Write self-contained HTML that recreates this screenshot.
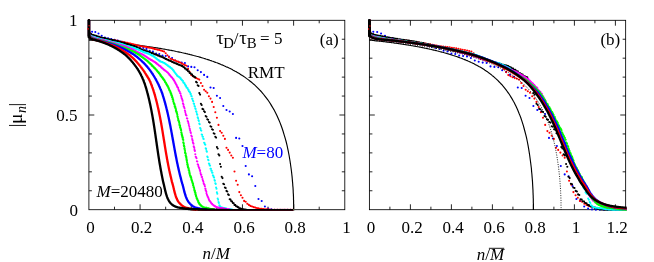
<!DOCTYPE html><html><head><meta charset="utf-8"><style>html,body{margin:0;padding:0;background:#fff;width:654px;height:262px;overflow:hidden}</style></head><body><svg width="654" height="262" viewBox="0 0 654 262" style="position:absolute;left:0;top:0;will-change:transform">
<rect width="654" height="262" fill="#fff"/>
<defs><clipPath id="ca"><rect x="86.9" y="18.3" width="259.1" height="192.9"/></clipPath><clipPath id="cb"><rect x="367.4" y="18.3" width="259.2" height="192.9"/></clipPath></defs>
<rect x="88.90" y="20.30" width="255.90" height="189.40" fill="none" stroke="#000" stroke-width="0.85"/><path d="M140.08 209.70v-5.4M140.08 20.30v5.4M191.26 209.70v-5.4M191.26 20.30v5.4M242.44 209.70v-5.4M242.44 20.30v5.4M293.62 209.70v-5.4M293.62 20.30v5.4M114.49 209.70v-3.0M114.49 20.30v3.0M165.67 209.70v-3.0M165.67 20.30v3.0M216.85 209.70v-3.0M216.85 20.30v3.0M268.03 209.70v-3.0M268.03 20.30v3.0M319.21 209.70v-3.0M319.21 20.30v3.0M88.90 190.76h3.0M344.80 190.76h-3.0M88.90 171.82h3.0M344.80 171.82h-3.0M88.90 152.88h3.0M344.80 152.88h-3.0M88.90 133.94h3.0M344.80 133.94h-3.0M88.90 115.00h5.4M344.80 115.00h-5.4M88.90 96.06h3.0M344.80 96.06h-3.0M88.90 77.12h3.0M344.80 77.12h-3.0M88.90 58.18h3.0M344.80 58.18h-3.0M88.90 39.24h3.0M344.80 39.24h-3.0" stroke="#000" stroke-width="0.85" fill="none"/>
<rect x="369.40" y="20.30" width="256.25" height="189.40" fill="none" stroke="#000" stroke-width="0.85"/><path d="M410.40 209.70v-5.4M410.40 20.30v5.4M451.40 209.70v-5.4M451.40 20.30v5.4M492.40 209.70v-5.4M492.40 20.30v5.4M533.40 209.70v-5.4M533.40 20.30v5.4M574.40 209.70v-5.4M574.40 20.30v5.4M615.40 209.70v-5.4M615.40 20.30v5.4M389.90 209.70v-3.0M389.90 20.30v3.0M430.90 209.70v-3.0M430.90 20.30v3.0M471.90 209.70v-3.0M471.90 20.30v3.0M512.90 209.70v-3.0M512.90 20.30v3.0M553.90 209.70v-3.0M553.90 20.30v3.0M594.90 209.70v-3.0M594.90 20.30v3.0M369.40 190.76h3.0M625.65 190.76h-3.0M369.40 171.82h3.0M625.65 171.82h-3.0M369.40 152.88h3.0M625.65 152.88h-3.0M369.40 133.94h3.0M625.65 133.94h-3.0M369.40 115.00h5.4M625.65 115.00h-5.4M369.40 96.06h3.0M625.65 96.06h-3.0M369.40 77.12h3.0M625.65 77.12h-3.0M369.40 58.18h3.0M625.65 58.18h-3.0M369.40 39.24h3.0M625.65 39.24h-3.0" stroke="#000" stroke-width="0.85" fill="none"/>
<g clip-path="url(#ca)">
<path d="M88.9 40.1L89.9 40.1L90.9 40.2L91.9 40.3L93.0 40.4L94.0 40.5L95.0 40.6L96.0 40.7L97.0 40.8L98.0 40.8L99.1 40.9L100.1 41.0L101.1 41.1L102.1 41.2L103.1 41.3L104.1 41.4L105.2 41.5L106.2 41.6L107.2 41.7L108.2 41.8L109.2 41.9L110.2 42.0L111.3 42.1L112.3 42.2L113.3 42.3L114.3 42.4L115.3 42.5L116.3 42.6L117.4 42.7L118.4 42.8L119.4 43.0L120.4 43.1L121.4 43.2L122.4 43.3L123.5 43.4L124.5 43.5L125.5 43.6L126.5 43.8L127.5 43.9L128.5 44.0L129.6 44.1L130.6 44.2L131.6 44.4L132.6 44.5L133.6 44.6L134.6 44.7L135.6 44.9L136.7 45.0L137.7 45.1L138.7 45.3L139.7 45.4L140.7 45.5L141.7 45.7L142.8 45.8L143.8 46.0L144.8 46.1L145.8 46.2L146.8 46.4L147.8 46.5L148.9 46.7L149.9 46.8L150.9 47.0L151.9 47.1L152.9 47.3L153.9 47.5L155.0 47.6L156.0 47.8L157.0 47.9L158.0 48.1L159.0 48.3L160.0 48.4L161.1 48.6L162.1 48.8L163.1 49.0L164.1 49.1L165.1 49.3L166.1 49.5L167.2 49.7L168.2 49.9L169.2 50.1L170.2 50.3L171.2 50.4L172.2 50.6L173.3 50.8L174.3 51.0L175.3 51.2L176.3 51.5L177.3 51.7L178.3 51.9L179.3 52.1L180.4 52.3L181.4 52.5L182.4 52.8L183.4 53.0L184.4 53.2L185.4 53.4L186.5 53.7L187.5 53.9L188.5 54.2L189.5 54.4L190.5 54.7L191.5 54.9L192.6 55.2L193.6 55.5L194.6 55.7L195.6 56.0L196.6 56.3L197.6 56.5L198.7 56.8L199.7 57.1L200.7 57.4L201.7 57.7L202.7 58.0L203.7 58.3L204.8 58.6L205.8 59.0L206.8 59.3L207.8 59.6L208.8 59.9L209.8 60.3L210.9 60.6L211.9 61.0L212.9 61.3L213.9 61.7L214.9 62.1L215.9 62.5L217.0 62.8L218.0 63.2L219.0 63.6L220.0 64.0L221.0 64.5L222.0 64.9L223.0 65.3L224.1 65.8L225.1 66.2L226.1 66.7L227.1 67.1L228.1 67.6L229.1 68.1L230.2 68.6L231.2 69.1L232.2 69.6L233.2 70.2L234.2 70.7L235.2 71.3L236.3 71.8L237.3 72.4L238.3 73.0L239.3 73.6L240.3 74.3L241.3 74.9L242.4 75.6L243.4 76.2L244.4 76.9L245.4 77.6L246.4 78.4L247.4 79.1L248.5 79.9L249.5 80.7L250.5 81.5L251.5 82.3L252.5 83.1L253.5 84.0L254.6 84.9L255.6 85.9L256.6 86.8L257.6 87.8L258.6 88.8L259.6 89.9L260.7 91.0L261.7 92.1L262.7 93.3L263.7 94.5L264.7 95.8L265.7 97.1L266.7 98.4L267.8 99.8L268.8 101.3L269.8 102.8L270.8 104.4L271.8 106.1L272.8 107.8L273.9 109.6L274.9 111.5L275.9 113.5L276.9 115.6L277.9 117.8L278.9 120.1L280.0 122.6L281.0 125.2L282.0 128.0L283.0 131.0L284.0 134.3L285.0 137.7L286.1 141.5L287.1 145.7L288.1 150.3L289.1 155.5L290.1 161.5L291.1 168.5L291.1 168.5L291.5 171.5L291.8 174.3L292.1 176.9L292.3 179.3L292.5 181.6L292.7 183.7L292.8 185.6L293.0 187.4L293.1 189.1L293.2 190.6L293.2 192.1L293.3 193.4L293.4 194.6L293.4 195.8L293.5 196.9L293.5 197.8L293.5 198.7L293.5 199.6L293.6 200.4L293.6 201.1L293.6 201.8L293.6 202.4L293.6 202.9L293.6 203.5L293.6 204.0L293.7 204.4L293.7 204.8L293.7 205.2L293.7 205.6L293.7 205.9L293.7 206.2L293.7 206.5L293.7 206.8L293.7 207.0L293.7 207.2L293.7 207.4L293.7 207.6L293.7 207.8L293.7 208.0L293.7 208.1L293.7 208.3L293.7 208.4L293.7 208.5L293.7 208.6L293.7 208.7L293.7 208.8L293.7 208.9L293.7 209.0L293.7 209.1L293.7 209.1L293.7 209.2L293.7 209.3L293.7 209.3L293.7 209.4L293.7 209.4L293.7 209.5L293.7 209.5L293.7 209.5L293.7 209.6L293.7 210.0" stroke="#000" stroke-width="1.15" fill="none"/>
<path d="M88.9 20.5h0M92.1 31.7h0M95.3 32.0h0M98.5 33.5h0M101.7 35.7h0M104.9 37.5h0M108.1 38.3h0M111.3 39.0h0M114.5 39.8h0M117.7 40.6h0M120.9 41.5h0M124.1 42.4h0M127.3 43.3h0M130.5 44.2h0M133.7 45.1h0M136.9 46.0h0M140.1 47.0h0M143.3 47.9h0M146.5 48.9h0M149.7 50.8h0M152.9 51.5h0M156.1 53.5h0M159.3 54.0h0M162.5 55.5h0M165.7 56.0h0M168.9 56.5h0M172.1 58.0h0M175.3 60.5h0M178.5 61.8h0M181.7 62.6h0M184.9 63.0h0M188.1 66.4h0M191.3 66.9h0M194.5 67.2h0M197.7 70.2h0M200.9 72.1h0M204.1 74.9h0M207.3 76.9h0M210.5 87.5h0M213.7 88.0h0M216.9 95.8h0M220.1 98.0h0M223.3 106.0h0M226.5 110.0h0M229.7 111.5h0M232.9 114.0h0M236.1 137.9h0M239.3 138.5h0M242.5 146.0h0M245.7 166.0h0M248.9 174.4h0M252.1 176.2h0M255.3 186.0h0M258.5 199.0h0M261.7 201.0h0M264.9 206.5h0M268.1 208.5h0M271.3 209.4h0" stroke="#00f" stroke-width="2.10" fill="none" stroke-linecap="round"/><path d="M274.5 209.8h0M277.7 209.8h0M280.9 209.8h0M284.1 209.9h0M287.3 209.9h0M290.5 209.9h0" stroke="#00f" stroke-width="2.10" fill="none" stroke-linecap="round"/>
<path d="M88.9 20.5h0M90.5 36.3h0M92.1 36.6h0M93.7 37.0h0M95.3 37.4h0M96.9 37.8h0M98.5 38.1h0M100.1 38.5h0M101.7 38.7h0M103.3 38.9h0M104.9 39.1h0M106.5 39.3h0M108.1 39.5h0M109.7 39.8h0M111.3 40.0h0M112.9 40.1h0M114.5 40.3h0M116.1 40.5h0M117.7 40.9h0M119.3 41.4h0M120.9 41.7h0M122.5 41.9h0M124.1 42.3h0M125.7 42.5h0M127.3 42.8h0M128.9 43.2h0M130.5 43.6h0M132.1 44.1h0M133.7 44.4h0M135.3 44.8h0M136.9 45.2h0M138.5 45.6h0M140.1 46.0h0M141.7 46.3h0M143.3 46.6h0M144.9 46.8h0M146.5 47.1h0M148.1 47.4h0M149.7 47.7h0M151.3 48.0h0M152.9 48.4h0M154.5 48.9h0M156.1 49.2h0M157.7 49.7h0M159.3 50.0h0M160.9 50.5h0M162.5 51.0h0M164.1 51.6h0M165.7 53.2h0M167.3 55.3h0M168.9 57.1h0M170.5 58.7h0M172.1 59.3h0M173.7 60.0h0M175.3 60.6h0M176.9 61.2h0M178.5 61.9h0M180.1 62.5h0M181.7 63.4h0M183.3 64.2h0M184.9 65.0h0M186.5 65.8h0M188.1 68.9h0M189.7 72.1h0M191.3 75.1h0M192.9 76.3h0M194.5 77.2h0M196.1 78.1h0M197.7 78.8h0M199.3 79.6h0M200.9 83.0h0M202.5 86.0h0M204.1 89.7h0M205.7 91.3h0M207.3 92.7h0M208.9 96.2h0M210.5 98.6h0M212.1 101.9h0M213.7 107.0h0M215.3 112.2h0M216.9 117.8h0M218.5 124.9h0M220.1 131.1h0M221.7 132.8h0M223.3 135.8h0M224.9 138.9h0M226.5 147.8h0M228.1 149.9h0M229.7 152.6h0M231.3 155.5h0M232.9 157.7h0M234.5 171.5h0M236.1 180.8h0M237.7 184.8h0M239.3 192.1h0M240.9 195.2h0M242.5 197.8h0M244.1 200.9h0M245.7 201.8h0M247.3 203.7h0M248.9 204.9h0M250.5 205.9h0M252.1 206.5h0M253.7 207.1h0M255.3 207.6h0M256.9 208.0h0M258.5 208.3h0M260.1 208.7h0M261.7 208.9h0M263.3 209.1h0M264.9 209.2h0M266.5 209.3h0M268.1 209.4h0M269.7 209.6h0M271.3 209.7h0M272.9 209.7h0" stroke="#f00" stroke-width="2.10" fill="none" stroke-linecap="round"/><path d="M274.5 209.8h0M276.1 209.9h0M277.7 209.9h0M279.3 209.9h0M280.9 209.9h0M282.5 209.9h0M284.1 209.9h0M285.7 209.9h0M287.3 209.9h0M288.9 209.9h0M290.5 209.9h0M292.1 209.9h0" stroke="#f00" stroke-width="2.10" fill="none" stroke-linecap="round"/>
<path d="M88.9 20.5h0M89.7 32.5h0M90.5 34.0h0M91.3 34.1h0M92.1 34.9h0M92.9 35.0h0M93.7 35.4h0M94.5 35.5h0M95.3 35.8h0M96.1 35.9h0M96.9 36.3h0M97.7 36.3h0M98.5 36.8h0M99.3 36.9h0M100.1 37.2h0M100.9 37.3h0M101.7 37.7h0M102.5 37.7h0M103.3 38.0h0M104.1 38.1h0M104.9 38.4h0M105.7 38.5h0M106.5 38.9h0M107.3 38.9h0M108.1 39.2h0M108.9 39.3h0M109.7 39.6h0M110.5 39.7h0M111.3 39.9h0M112.1 40.0h0M112.9 40.3h0M113.7 40.4h0M114.5 40.6h0M115.3 40.6h0M116.1 41.1h0M116.9 41.1h0M117.7 41.4h0M118.5 41.4h0M119.3 41.8h0M120.1 41.9h0M120.9 42.3h0M121.7 42.3h0M122.5 42.7h0M123.3 42.8h0M124.1 43.1h0M124.9 43.1h0M125.7 43.7h0M126.5 43.7h0M127.3 44.1h0M128.1 44.2h0M128.9 44.6h0M129.7 44.7h0M130.5 45.1h0M131.3 45.2h0M132.1 45.7h0M132.9 45.7h0M133.7 46.0h0M134.5 46.1h0M135.3 46.7h0M136.1 46.8h0M136.9 47.5h0M137.7 47.6h0M138.5 48.3h0M139.3 48.4h0M140.1 49.1h0M140.9 49.1h0M141.7 49.7h0M142.5 49.8h0M143.3 50.2h0M144.1 50.3h0M144.9 50.6h0M145.7 50.7h0M146.5 51.2h0M147.3 51.3h0M148.1 51.7h0M148.9 51.8h0M149.7 52.2h0M150.5 52.3h0M151.3 52.9h0M152.1 53.0h0M152.9 53.4h0M153.7 53.5h0M154.5 54.2h0M155.3 54.3h0M156.1 54.7h0M156.9 54.8h0M157.7 55.4h0M158.5 55.5h0M159.3 56.1h0M160.1 56.2h0M160.9 56.6h0M161.7 56.7h0M162.5 57.3h0M163.3 57.4h0M164.1 58.1h0M164.9 58.2h0M165.7 58.9h0M166.5 59.0h0M167.3 59.7h0M168.1 59.8h0M168.9 60.5h0M169.7 60.6h0M170.5 61.0h0M171.3 61.2h0M172.1 61.9h0M172.9 62.1h0M173.7 62.6h0M174.5 62.7h0M175.3 63.3h0M176.1 63.4h0M176.9 63.9h0M177.7 64.0h0M178.5 64.7h0M179.3 64.8h0M180.1 65.2h0M180.9 65.3h0M181.7 65.9h0M182.5 66.0h0M183.3 67.0h0M184.1 67.2h0M184.9 68.4h0M185.7 68.6h0M186.5 69.7h0M187.3 69.9h0M188.1 71.2h0M188.9 71.4h0M189.7 73.0h0M190.5 73.3h0M191.3 74.3h0M192.1 74.5h0M192.9 76.0h0M193.7 76.2h0M194.5 77.1h0M195.3 77.4h0M196.1 81.9h0M196.9 82.5h0M197.7 85.2h0M198.5 85.9h0M199.3 93.0h0M200.1 94.6h0M200.9 103.7h0M201.7 105.0h0M202.5 108.9h0M203.3 109.2h0M204.1 111.3h0M204.9 112.1h0M205.7 116.0h0M206.5 116.7h0M207.3 119.3h0M208.1 119.8h0M208.9 122.0h0M209.7 122.6h0M210.5 126.3h0M211.3 126.8h0M212.1 129.2h0M212.9 129.7h0M213.7 133.3h0M214.5 133.8h0M215.3 136.7h0M216.1 137.6h0M216.9 147.1h0M217.7 148.5h0M218.5 154.3h0M219.3 155.4h0M220.1 164.0h0M220.9 166.7h0M221.7 176.8h0M222.5 178.1h0M223.3 183.7h0M224.1 184.2h0M224.9 187.5h0M225.7 188.0h0M226.5 190.9h0M227.3 191.5h0M228.1 194.4h0M228.9 195.0h0M229.7 199.2h0M230.5 199.6h0M231.3 201.3h0M232.1 201.6h0M232.9 203.0h0M233.7 203.2h0M234.5 204.9h0M235.3 205.1h0M236.1 206.2h0M236.9 206.4h0M237.7 207.1h0M238.5 207.3h0M239.3 208.2h0M240.1 208.3h0M240.9 208.8h0M241.7 208.9h0M242.5 209.3h0M243.3 209.4h0M244.1 209.5h0M244.9 209.5h0M245.7 209.7h0M246.5 209.7h0" stroke="#000" stroke-width="2.10" fill="none" stroke-linecap="round"/><path d="M247.3 209.9h0M248.1 209.9h0M248.9 209.9h0M249.7 209.9h0M250.5 209.9h0M251.3 209.9h0M252.1 209.9h0M252.9 209.9h0M253.7 209.9h0M254.5 209.9h0M255.3 209.9h0M256.1 209.9h0M256.9 209.9h0M257.7 209.9h0M258.5 209.9h0M259.3 209.9h0M260.1 209.9h0M260.9 209.9h0M261.7 209.9h0M262.5 209.9h0M263.3 209.9h0M264.1 209.9h0M264.9 209.9h0M265.7 209.9h0M266.5 209.9h0M267.3 209.9h0M268.1 209.9h0M268.9 209.9h0M269.7 209.9h0M270.5 209.9h0M271.3 209.9h0M272.1 209.9h0M272.9 209.9h0M273.7 209.9h0M274.5 209.9h0M275.3 209.9h0M276.1 209.9h0M276.9 209.9h0M277.7 209.9h0M278.5 209.9h0M279.3 209.9h0M280.1 209.9h0M280.9 209.9h0M281.7 209.9h0M282.5 209.9h0M283.3 209.9h0M284.1 209.9h0M284.9 209.9h0M285.7 209.9h0M286.5 209.9h0M287.3 209.9h0M288.1 209.9h0M288.9 209.9h0M289.7 209.9h0M290.5 209.9h0M291.3 209.9h0M292.1 209.9h0M292.9 209.9h0" stroke="#000" stroke-width="1.80" fill="none" stroke-linecap="round"/>
<path d="M88.9 20.5h0M89.3 35.6h0M89.7 35.6h0M90.1 35.7h0M90.5 35.9h0M90.9 35.9h0M91.3 36.1h0M91.7 36.2h0M92.1 36.5h0M92.5 36.6h0M92.9 36.7h0M93.3 36.8h0M93.7 37.0h0M94.1 37.1h0M94.5 37.3h0M94.9 37.3h0M95.3 37.6h0M95.7 37.6h0M96.1 37.9h0M96.5 38.0h0M96.9 38.1h0M97.3 38.1h0M97.7 38.3h0M98.1 38.4h0M98.5 38.6h0M98.9 38.7h0M99.3 38.8h0M99.7 38.9h0M100.1 39.0h0M100.5 39.1h0M100.9 39.3h0M101.3 39.3h0M101.7 39.5h0M102.1 39.6h0M102.5 39.7h0M102.9 39.7h0M103.3 39.9h0M103.7 39.9h0M104.1 40.0h0M104.5 40.0h0M104.9 40.2h0M105.3 40.3h0M105.7 40.4h0M106.1 40.4h0M106.5 40.6h0M106.9 40.6h0M107.3 40.7h0M107.7 40.8h0M108.1 40.9h0M108.5 40.9h0M108.9 41.1h0M109.3 41.1h0M109.7 41.3h0M110.1 41.4h0M110.5 41.6h0M110.9 41.6h0M111.3 41.8h0M111.7 41.8h0M112.1 42.0h0M112.5 42.0h0M112.9 42.2h0M113.3 42.2h0M113.7 42.4h0M114.1 42.5h0M114.5 42.6h0M114.9 42.7h0M115.3 42.7h0M115.7 42.7h0M116.1 42.9h0M116.5 42.9h0M116.9 43.1h0M117.3 43.1h0M117.7 43.2h0M118.1 43.2h0M118.5 43.4h0M118.9 43.4h0M119.3 43.6h0M119.7 43.6h0M120.1 43.8h0M120.5 43.8h0M120.9 44.0h0M121.3 44.0h0M121.7 44.2h0M122.1 44.2h0M122.5 44.4h0M122.9 44.5h0M123.3 44.7h0M123.7 44.8h0M124.1 45.0h0M124.5 45.1h0M124.9 45.4h0M125.3 45.5h0M125.7 45.7h0M126.1 45.8h0M126.5 46.0h0M126.9 46.1h0M127.3 46.3h0M127.7 46.3h0M128.1 46.5h0M128.5 46.5h0M128.9 46.7h0M129.3 46.8h0M129.7 46.9h0M130.1 46.9h0M130.5 47.2h0M130.9 47.2h0M131.3 47.4h0M131.7 47.4h0M132.1 47.6h0M132.5 47.6h0M132.9 47.8h0M133.3 47.8h0M133.7 48.0h0M134.1 48.1h0M134.5 48.2h0M134.9 48.3h0M135.3 48.6h0M135.7 48.6h0M136.1 48.9h0M136.5 49.0h0M136.9 49.1h0M137.3 49.2h0M137.7 49.4h0M138.1 49.4h0M138.5 49.8h0M138.9 49.9h0M139.3 50.2h0M139.7 50.3h0M140.1 50.4h0M140.5 50.5h0M140.9 50.9h0M141.3 51.0h0M141.7 51.3h0M142.1 51.4h0M142.5 51.7h0M142.9 51.8h0M143.3 51.9h0M143.7 52.0h0M144.1 52.3h0M144.5 52.3h0M144.9 52.7h0M145.3 52.7h0M145.7 52.8h0M146.1 52.8h0M146.5 53.0h0M146.9 53.0h0M147.3 53.4h0M147.7 53.4h0M148.1 53.6h0M148.5 53.6h0M148.9 54.0h0M149.3 54.0h0M149.7 54.2h0M150.1 54.3h0M150.5 54.8h0M150.9 54.9h0M151.3 55.1h0M151.7 55.1h0M152.1 55.7h0M152.5 55.7h0M152.9 56.0h0M153.3 56.1h0M153.7 56.6h0M154.1 56.7h0M154.5 57.1h0M154.9 57.2h0M155.3 57.7h0M155.7 57.9h0M156.1 58.4h0M156.5 58.5h0M156.9 59.1h0M157.3 59.3h0M157.7 59.7h0M158.1 59.8h0M158.5 60.1h0M158.9 60.2h0M159.3 60.9h0M159.7 61.0h0M160.1 61.4h0M160.5 61.4h0M160.9 61.8h0M161.3 61.8h0M161.7 62.0h0M162.1 62.0h0M162.5 62.3h0M162.9 62.4h0M163.3 62.7h0M163.7 62.7h0M164.1 63.0h0M164.5 63.1h0M164.9 63.5h0M165.3 63.5h0M165.7 64.1h0M166.1 64.2h0M166.5 64.6h0M166.9 64.7h0M167.3 65.2h0M167.7 65.3h0M168.1 66.0h0M168.5 66.1h0M168.9 66.5h0M169.3 66.5h0M169.7 66.9h0M170.1 67.0h0M170.5 67.7h0M170.9 67.8h0M171.3 68.2h0M171.7 68.3h0M172.1 69.1h0M172.5 69.3h0M172.9 69.9h0M173.3 70.1h0M173.7 71.0h0M174.1 71.3h0M174.5 72.2h0M174.9 72.5h0M175.3 73.3h0M175.7 73.6h0M176.1 74.3h0M176.5 74.5h0M176.9 75.4h0M177.3 75.5h0M177.7 76.2h0M178.1 76.3h0M178.5 76.6h0M178.9 76.7h0M179.3 77.3h0M179.7 77.4h0M180.1 78.0h0M180.5 78.1h0M180.9 79.1h0M181.3 79.2h0M181.7 80.0h0M182.1 80.1h0M182.5 80.7h0M182.9 80.8h0M183.3 82.4h0M183.7 82.6h0M184.1 83.1h0M184.5 83.3h0M184.9 84.6h0M185.3 84.7h0M185.7 85.9h0M186.1 86.0h0M186.5 87.5h0M186.9 87.6h0M187.3 88.1h0M187.7 88.2h0M188.1 89.7h0M188.5 89.8h0M188.9 91.3h0M189.3 91.4h0M189.7 92.2h0M190.1 92.3h0M190.5 94.0h0M190.9 94.1h0M191.3 96.1h0M191.7 96.3h0M192.1 98.7h0M192.5 98.9h0M192.9 100.8h0M193.3 101.2h0M193.7 103.5h0M194.1 103.9h0M194.5 106.1h0M194.9 106.5h0M195.3 108.5h0M195.7 109.0h0M196.1 111.3h0M196.5 111.9h0M196.9 114.1h0M197.3 114.8h0M197.7 117.4h0M198.1 118.2h0M198.5 120.3h0M198.9 121.0h0M199.3 123.6h0M199.7 124.3h0M200.1 128.0h0M200.5 128.6h0M200.9 130.2h0M201.3 130.6h0M201.7 134.5h0M202.1 134.7h0M202.5 136.6h0M202.9 136.8h0M203.3 138.8h0M203.7 139.0h0M204.1 142.7h0M204.5 143.0h0M204.9 144.3h0M205.3 144.8h0M205.7 148.3h0M206.1 148.9h0M206.5 151.0h0M206.9 151.7h0M207.3 156.6h0M207.7 157.3h0M208.1 159.7h0M208.5 160.3h0M208.9 163.6h0M209.3 163.9h0M209.7 165.5h0M210.1 165.6h0M210.5 168.8h0M210.9 168.8h0M211.3 170.7h0M211.7 170.7h0M212.1 172.7h0M212.5 172.8h0M212.9 175.4h0M213.3 175.7h0M213.7 177.1h0M214.1 177.6h0M214.5 180.1h0M214.9 180.8h0M215.3 183.3h0M215.7 183.9h0M216.1 187.5h0M216.5 188.8h0M216.9 192.4h0M217.3 193.8h0M217.7 198.6h0M218.1 199.7h0M218.5 202.1h0M218.9 203.0h0M219.3 205.3h0M219.7 205.6h0M220.1 206.7h0M220.5 206.9h0M220.9 207.2h0M221.3 207.3h0M221.7 207.7h0M222.1 207.7h0M222.5 207.8h0M222.9 207.8h0M223.3 208.0h0M223.7 208.1h0M224.1 208.2h0M224.5 208.2h0M224.9 208.3h0M225.3 208.3h0M225.7 208.5h0M226.1 208.5h0M226.5 208.7h0M226.9 208.8h0M227.3 209.0h0M227.7 209.1h0M228.1 209.2h0M228.5 209.2h0M228.9 209.3h0M229.3 209.4h0M229.7 209.4h0M230.1 209.4h0M230.5 209.5h0M230.9 209.5h0M231.3 209.6h0M231.7 209.6h0M232.1 209.7h0M232.5 209.7h0" stroke="#0ff" stroke-width="2.10" fill="none" stroke-linecap="round"/><path d="M232.9 209.8h0M233.7 209.8h0M234.5 209.8h0M235.3 209.9h0M236.1 209.9h0M236.9 209.9h0M237.7 209.9h0M238.5 209.9h0M239.3 209.9h0M240.1 209.9h0M240.9 209.9h0M241.7 209.9h0M242.5 209.9h0M243.3 209.9h0M244.1 209.9h0M244.9 209.9h0M245.7 209.9h0M246.5 209.9h0M247.3 209.9h0M248.1 209.9h0M248.9 209.9h0M249.7 209.9h0M250.5 209.9h0M251.3 209.9h0M252.1 209.9h0M252.9 209.9h0M253.7 209.9h0M254.5 209.9h0M255.3 209.9h0M256.1 209.9h0M256.9 209.9h0M257.7 209.9h0M258.5 209.9h0M259.3 209.9h0M260.1 209.9h0M260.9 209.9h0M261.7 209.9h0M262.5 209.9h0M263.3 209.9h0M264.1 209.9h0M264.9 209.9h0M265.7 209.9h0M266.5 209.9h0M267.3 209.9h0M268.1 209.9h0M268.9 209.9h0M269.7 209.9h0M270.5 209.9h0M271.3 209.9h0M272.1 209.9h0M272.9 209.9h0M273.7 209.9h0M274.5 209.9h0M275.3 209.9h0M276.1 209.9h0M276.9 209.9h0M277.7 209.9h0M278.5 209.9h0M279.3 209.9h0M280.1 209.9h0M280.9 209.9h0M281.7 209.9h0M282.5 209.9h0M283.3 209.9h0M284.1 209.9h0M284.9 209.9h0M285.7 209.9h0M286.5 209.9h0M287.3 209.9h0M288.1 209.9h0M288.9 209.9h0M289.7 209.9h0M290.5 209.9h0M291.3 209.9h0M292.1 209.9h0M292.9 209.9h0" stroke="#0ff" stroke-width="1.80" fill="none" stroke-linecap="round"/>
<path d="M88.9 20.5h0M89.1 35.5h0M89.5 35.5h0M89.9 35.6h0M90.3 35.7h0M90.5 36.1h0M90.9 36.3h0M91.3 36.6h0M91.7 36.8h0M92.1 37.1h0M92.5 37.4h0M92.9 37.6h0M93.3 37.6h0M93.7 37.9h0M94.1 37.9h0M94.5 38.2h0M94.9 38.4h0M95.3 38.4h0M95.7 38.6h0M96.1 38.7h0M96.5 38.8h0M96.9 38.9h0M97.3 39.0h0M97.7 39.1h0M98.1 39.1h0M98.5 39.2h0M98.9 39.4h0M99.3 39.4h0M99.7 39.5h0M100.1 39.6h0M100.5 39.7h0M100.9 39.8h0M101.3 39.9h0M101.7 40.0h0M102.1 40.0h0M102.5 40.1h0M102.9 40.3h0M103.3 40.3h0M103.7 40.4h0M104.1 40.4h0M104.5 40.6h0M104.9 40.7h0M105.3 40.9h0M105.7 41.0h0M106.1 41.1h0M106.5 41.1h0M106.9 41.4h0M107.3 41.4h0M107.7 41.6h0M108.1 41.7h0M108.5 41.8h0M108.9 42.0h0M109.3 42.1h0M109.7 42.1h0M110.1 42.2h0M110.5 42.3h0M110.9 42.5h0M111.3 42.5h0M111.7 42.6h0M112.1 42.8h0M112.5 42.8h0M112.9 42.9h0M113.3 43.0h0M113.7 43.2h0M114.1 43.3h0M114.5 43.4h0M114.9 43.5h0M115.3 43.6h0M115.7 43.8h0M116.1 43.9h0M116.5 44.1h0M116.9 44.2h0M117.3 44.3h0M117.7 44.4h0M118.1 44.6h0M118.5 44.7h0M118.9 44.8h0M119.3 44.9h0M119.7 45.1h0M120.1 45.1h0M120.5 45.3h0M120.9 45.3h0M121.3 45.4h0M121.7 45.6h0M122.1 45.6h0M122.5 45.8h0M122.9 45.9h0M123.3 45.9h0M123.7 46.0h0M124.1 46.2h0M124.5 46.2h0M124.9 46.5h0M125.3 46.6h0M125.7 46.7h0M126.1 46.8h0M126.5 47.1h0M126.9 47.3h0M127.3 47.4h0M127.7 47.6h0M128.1 47.8h0M128.5 48.0h0M128.9 48.2h0M129.3 48.4h0M129.7 48.5h0M130.1 48.6h0M130.5 48.8h0M130.9 48.9h0M131.3 49.1h0M131.7 49.2h0M132.1 49.3h0M132.5 49.6h0M132.9 49.6h0M133.3 49.8h0M133.7 50.0h0M134.1 50.2h0M134.5 50.6h0M134.9 50.6h0M135.3 50.8h0M135.7 51.0h0M136.1 51.4h0M136.5 51.6h0M136.9 51.9h0M137.3 52.2h0M137.7 52.4h0M138.1 52.4h0M138.5 52.6h0M138.9 52.8h0M139.3 53.2h0M139.7 53.3h0M140.1 53.3h0M140.5 53.6h0M140.9 53.9h0M141.3 54.1h0M141.7 54.2h0M142.1 54.4h0M142.5 54.6h0M142.9 54.7h0M143.3 54.8h0M143.7 55.2h0M144.1 55.2h0M144.5 55.5h0M144.9 56.0h0M145.3 56.1h0M145.7 56.3h0M146.1 56.8h0M146.5 56.8h0M146.9 57.3h0M147.3 57.6h0M147.7 57.7h0M148.1 58.0h0M148.5 58.2h0M148.9 58.7h0M149.3 58.8h0M149.7 59.0h0M150.1 59.5h0M150.5 59.7h0M150.9 59.9h0M151.3 60.1h0M151.7 60.2h0M152.1 60.4h0M152.5 60.7h0M152.9 60.8h0M153.3 61.2h0M153.7 61.5h0M154.1 61.7h0M154.5 61.9h0M154.9 62.0h0M155.3 62.3h0M155.7 62.9h0M156.1 62.9h0M156.5 63.4h0M156.9 63.5h0M157.3 64.2h0M157.7 64.2h0M158.1 64.6h0M158.5 65.0h0M158.9 65.4h0M159.3 65.8h0M159.7 66.0h0M160.1 66.2h0M160.5 66.4h0M160.9 67.1h0M161.3 67.5h0M161.7 67.6h0M162.1 68.2h0M162.5 68.3h0M162.9 68.8h0M163.3 69.1h0M163.7 69.5h0M164.1 70.0h0M164.5 70.2h0M164.9 70.4h0M165.3 70.8h0M165.7 71.0h0M166.1 71.3h0M166.5 71.6h0M166.9 72.0h0M167.3 72.3h0M167.7 72.6h0M168.1 73.0h0M168.5 73.6h0M168.9 73.9h0M169.3 74.7h0M169.7 75.1h0M170.1 75.3h0M170.5 76.0h0M170.9 76.6h0M171.3 76.8h0M171.7 77.3h0M172.1 77.7h0M172.5 78.3h0M172.9 79.0h0M173.3 79.1h0M173.7 80.1h0M174.1 80.5h0M174.5 81.4h0M174.9 82.0h0M175.3 83.1h0M175.7 83.3h0M176.1 84.6h0M176.5 84.9h0M176.9 86.0h0M177.3 87.0h0M177.7 87.3h0M178.1 87.9h0M178.5 89.6h0M178.9 90.5h0M179.3 91.2h0M179.7 91.7h0M180.1 93.2h0M180.5 93.5h0M180.9 95.6h0M181.3 96.8h0M181.7 98.3h0M181.9 98.6h0M182.1 99.5h0M182.3 99.8h0M182.5 100.7h0M182.7 101.0h0M182.9 103.3h0M183.1 103.6h0M183.3 104.4h0M183.5 104.7h0M183.7 106.5h0M183.9 106.8h0M184.1 107.3h0M184.5 108.3h0M184.9 110.5h0M185.3 112.1h0M185.7 114.1h0M186.1 115.3h0M186.5 115.5h0M186.9 118.2h0M187.3 118.6h0M187.7 121.0h0M188.1 121.8h0M188.5 123.2h0M188.9 125.1h0M189.3 126.7h0M189.7 128.7h0M190.1 130.2h0M190.5 132.0h0M190.9 133.0h0M191.3 135.5h0M191.7 136.5h0M191.9 136.8h0M192.1 139.0h0M192.3 139.3h0M192.5 140.6h0M192.7 140.9h0M192.9 142.7h0M193.1 143.1h0M193.3 143.4h0M193.5 143.7h0M193.7 146.4h0M193.9 146.7h0M194.1 147.6h0M194.3 147.9h0M194.5 149.9h0M194.9 150.9h0M195.3 154.2h0M195.7 156.7h0M196.1 157.2h0M196.5 158.3h0M196.9 161.2h0M197.3 161.5h0M197.7 164.3h0M198.1 164.7h0M198.5 166.2h0M198.9 167.7h0M199.3 168.1h0M199.7 169.7h0M200.1 170.9h0M200.5 173.0h0M200.9 174.7h0M201.3 174.8h0M201.7 176.9h0M202.1 177.0h0M202.5 179.1h0M202.9 180.5h0M203.3 181.6h0M203.7 183.4h0M204.1 184.4h0M204.5 184.7h0M204.9 186.2h0M205.3 188.6h0M205.5 188.9h0M205.7 190.5h0M205.9 190.8h0M206.1 191.3h0M206.3 191.6h0M206.5 193.2h0M206.9 194.7h0M207.3 195.6h0M207.7 196.7h0M208.1 197.3h0M208.5 198.4h0M208.9 199.6h0M209.3 200.6h0M209.7 200.7h0M210.1 201.5h0M210.5 201.8h0M210.9 202.8h0M211.3 203.1h0M211.7 203.7h0M212.1 203.8h0M212.5 204.5h0M212.9 204.8h0M213.3 205.1h0M213.7 205.3h0M214.1 205.7h0M214.5 206.1h0M214.9 206.2h0M215.3 206.4h0M215.7 206.8h0M216.1 206.9h0M216.5 207.2h0M216.9 207.4h0M217.3 207.5h0M217.7 207.6h0M218.1 207.7h0M218.5 207.7h0M218.9 207.8h0M219.3 207.9h0M219.7 208.0h0M220.1 208.0h0M220.5 208.1h0M220.9 208.1h0M221.3 208.2h0M221.7 208.3h0M222.1 208.3h0M222.5 208.4h0M222.9 208.5h0M223.3 208.6h0M223.7 208.6h0M224.1 208.7h0M224.5 208.9h0M224.9 209.0h0M225.3 209.1h0M225.7 209.2h0M226.1 209.2h0M226.5 209.3h0M226.9 209.3h0M227.3 209.3h0M227.7 209.4h0M228.1 209.4h0M228.5 209.5h0M228.9 209.5h0M229.3 209.6h0M229.7 209.7h0M230.1 209.7h0M230.5 209.7h0" stroke="#f0f" stroke-width="2.10" fill="none" stroke-linecap="round"/><path d="M230.7 209.8h0M231.3 209.8h0M231.9 209.9h0M232.5 209.9h0M233.1 209.9h0M233.7 209.9h0M234.5 209.9h0M235.3 209.9h0M236.1 209.9h0M236.7 209.9h0M237.5 209.9h0M238.3 209.9h0M239.1 209.9h0M239.7 209.9h0M240.5 209.9h0M241.3 209.9h0M242.1 209.9h0M242.7 209.9h0M243.5 209.9h0M244.3 209.9h0M245.1 209.9h0M245.7 209.9h0M246.5 209.9h0M247.3 209.9h0M248.1 209.9h0M248.7 209.9h0M249.5 209.9h0M250.3 209.9h0M251.1 209.9h0M251.7 209.9h0M252.5 209.9h0M253.3 209.9h0M254.1 209.9h0M254.7 209.9h0M255.5 209.9h0M256.1 209.9h0M256.7 209.9h0M257.5 209.9h0M258.1 209.9h0M258.7 209.9h0M259.5 209.9h0M260.1 209.9h0M260.7 209.9h0M261.5 209.9h0M262.1 209.9h0M262.7 209.9h0M263.5 209.9h0M264.1 209.9h0M264.7 209.9h0M265.5 209.9h0M266.1 209.9h0M266.7 209.9h0M267.5 209.9h0M268.1 209.9h0M268.7 209.9h0M269.5 209.9h0M270.1 209.9h0M270.7 209.9h0M271.5 209.9h0M272.1 209.9h0M272.7 209.9h0M273.5 209.9h0M274.1 209.9h0M274.7 209.9h0M275.5 209.9h0M276.1 209.9h0M276.7 209.9h0M277.5 209.9h0M278.1 209.9h0M278.7 209.9h0M279.5 209.9h0M280.1 209.9h0M280.7 209.9h0M281.5 209.9h0M282.1 209.9h0M282.7 209.9h0M283.5 209.9h0M284.1 209.9h0M284.7 209.9h0M285.5 209.9h0M286.1 209.9h0M286.7 209.9h0M287.5 209.9h0M288.1 209.9h0M288.7 209.9h0M289.5 209.9h0M290.1 209.9h0M290.7 209.9h0M291.5 209.9h0M292.1 209.9h0M292.7 209.9h0M293.5 209.9h0" stroke="#f0f" stroke-width="1.80" fill="none" stroke-linecap="round"/>
<path d="M88.9 20.5h0M89.0 35.5h0M89.3 35.8h0M89.7 36.0h0M90.0 36.2h0M90.1 36.6h0M90.5 36.9h0M90.9 37.1h0M91.3 37.4h0M91.7 37.7h0M92.1 37.8h0M92.5 38.1h0M92.9 38.2h0M93.3 38.4h0M93.7 38.6h0M94.1 38.7h0M94.5 38.9h0M94.9 39.0h0M95.3 39.1h0M95.7 39.3h0M96.1 39.4h0M96.5 39.5h0M96.9 39.6h0M97.3 39.6h0M97.7 39.8h0M98.1 39.8h0M98.5 40.0h0M98.9 40.0h0M99.3 40.1h0M99.7 40.2h0M100.1 40.4h0M100.5 40.4h0M100.9 40.5h0M101.3 40.6h0M101.7 40.7h0M102.1 40.8h0M102.5 40.9h0M102.9 40.9h0M103.3 41.1h0M103.7 41.2h0M104.1 41.3h0M104.5 41.4h0M104.9 41.5h0M105.3 41.6h0M105.7 41.7h0M106.1 41.8h0M106.5 41.9h0M106.9 42.1h0M107.3 42.1h0M107.7 42.2h0M108.1 42.4h0M108.5 42.5h0M108.9 42.6h0M109.3 42.7h0M109.7 42.8h0M110.1 42.9h0M110.5 43.0h0M110.9 43.1h0M111.3 43.2h0M111.7 43.3h0M112.1 43.4h0M112.5 43.6h0M112.9 43.8h0M113.3 43.8h0M113.7 44.0h0M114.1 44.1h0M114.5 44.3h0M114.9 44.4h0M115.3 44.5h0M115.7 44.7h0M116.1 44.8h0M116.5 44.9h0M116.9 45.1h0M117.3 45.3h0M117.7 45.4h0M118.1 45.5h0M118.5 45.7h0M118.9 45.8h0M119.3 46.0h0M119.7 46.1h0M120.1 46.3h0M120.5 46.5h0M120.9 46.6h0M121.3 46.7h0M121.7 46.9h0M122.1 47.0h0M122.5 47.1h0M122.9 47.2h0M123.3 47.4h0M123.7 47.6h0M124.1 47.8h0M124.5 47.9h0M124.9 48.0h0M125.3 48.2h0M125.7 48.3h0M126.1 48.4h0M126.5 48.7h0M126.9 48.8h0M127.3 49.0h0M127.6 49.2h0M128.0 49.3h0M128.4 49.4h0M128.8 49.5h0M129.1 49.7h0M129.5 49.9h0M129.9 50.2h0M130.3 50.2h0M130.6 50.4h0M131.0 50.6h0M131.4 50.7h0M131.7 50.9h0M132.1 51.0h0M132.5 51.2h0M132.8 51.4h0M133.2 51.4h0M133.5 51.7h0M133.9 51.8h0M134.2 52.0h0M134.6 52.1h0M135.0 52.3h0M135.3 52.5h0M135.6 52.8h0M135.9 53.0h0M136.3 53.1h0M136.7 53.4h0M137.1 53.6h0M137.5 53.9h0M137.9 54.0h0M138.2 54.3h0M138.5 54.5h0M138.9 54.7h0M139.3 55.0h0M139.6 55.2h0M139.9 55.5h0M140.3 55.8h0M140.7 56.1h0M141.1 56.3h0M141.3 56.6h0M141.7 56.8h0M142.0 57.1h0M142.4 57.2h0M142.7 57.5h0M143.1 57.8h0M143.5 58.2h0M143.9 58.4h0M144.3 58.6h0M144.6 58.9h0M144.9 59.3h0M145.3 59.4h0M145.6 59.6h0M145.9 59.9h0M146.3 60.3h0M146.7 60.5h0M147.0 60.8h0M147.3 61.1h0M147.6 61.3h0M147.9 61.5h0M148.2 61.8h0M148.4 62.1h0M148.7 62.4h0M149.1 62.6h0M149.4 62.8h0M149.6 63.2h0M149.9 63.5h0M150.1 63.8h0M150.5 64.0h0M150.7 64.3h0M151.1 64.4h0M151.3 64.7h0M151.5 65.0h0M151.7 65.4h0M152.1 65.5h0M152.3 66.0h0M152.7 66.1h0M152.9 66.4h0M153.3 66.7h0M153.5 67.1h0M153.8 67.3h0M154.1 67.6h0M154.3 68.0h0M154.7 68.2h0M155.0 68.5h0M155.3 68.8h0M155.7 69.4h0M156.1 69.7h0M156.4 69.9h0M156.5 70.3h0M156.9 70.6h0M157.1 71.0h0M157.5 71.4h0M157.9 71.9h0M158.2 72.2h0M158.4 72.5h0M158.8 72.7h0M158.9 73.2h0M159.1 73.5h0M159.5 73.7h0M159.7 74.0h0M159.9 74.5h0M160.2 74.7h0M160.5 75.0h0M160.7 75.7h0M161.1 76.2h0M161.4 76.5h0M161.7 77.0h0M162.1 77.4h0M162.5 77.7h0M162.7 78.2h0M163.1 78.6h0M163.3 79.2h0M163.7 79.3h0M163.9 79.9h0M164.2 80.1h0M164.5 80.6h0M164.7 81.1h0M165.1 82.1h0M165.4 82.3h0M165.7 82.8h0M166.0 83.1h0M166.3 84.1h0M166.7 84.3h0M166.9 85.0h0M167.1 85.5h0M167.4 85.7h0M167.7 86.1h0M167.9 86.7h0M168.3 87.3h0M168.5 88.1h0M168.8 88.4h0M169.1 89.6h0M169.5 90.4h0M169.8 90.7h0M169.9 91.1h0M170.2 91.4h0M170.3 92.1h0M170.7 92.7h0M170.9 93.7h0M171.2 93.9h0M171.3 94.4h0M171.5 95.4h0M171.8 95.6h0M171.9 96.1h0M172.1 97.2h0M172.4 97.5h0M172.5 97.9h0M172.7 99.2h0M173.0 99.4h0M173.1 99.9h0M173.3 101.2h0M173.7 102.8h0M173.9 103.3h0M174.1 103.9h0M174.4 104.1h0M174.5 104.6h0M174.7 106.0h0M174.9 106.8h0M175.2 107.0h0M175.3 107.5h0M175.5 108.3h0M175.7 108.8h0M175.9 110.0h0M176.1 110.9h0M176.3 111.7h0M176.6 112.0h0M176.7 112.7h0M176.9 113.3h0M177.1 114.4h0M177.3 115.0h0M177.5 116.8h0M177.8 117.1h0M178.1 118.9h0M178.3 120.2h0M178.5 120.7h0M178.7 121.2h0M178.9 121.5h0M179.1 122.3h0M179.3 122.9h0M179.5 124.6h0M179.7 125.4h0M180.0 125.8h0M180.1 127.2h0M180.3 127.6h0M180.5 128.5h0M180.9 129.4h0M181.1 130.2h0M181.3 132.4h0M181.5 133.1h0M181.7 134.2h0M181.9 135.0h0M182.1 136.0h0M182.4 136.4h0M182.5 137.7h0M182.8 138.0h0M182.9 139.6h0M183.2 139.9h0M183.3 142.5h0M183.5 143.1h0M183.7 143.4h0M183.9 145.4h0M184.1 146.2h0M184.3 146.6h0M184.5 148.4h0M184.7 149.3h0M184.9 150.8h0M185.1 152.4h0M185.3 153.2h0M185.6 153.6h0M185.7 155.2h0M185.9 156.3h0M186.2 156.6h0M186.3 157.7h0M186.5 159.1h0M186.7 159.9h0M186.9 161.0h0M187.1 162.8h0M187.3 164.2h0M187.6 164.5h0M187.7 165.6h0M187.9 166.7h0M188.1 167.4h0M188.3 168.0h0M188.6 168.4h0M188.7 169.9h0M188.9 170.2h0M189.1 170.8h0M189.3 172.0h0M189.5 172.9h0M189.7 173.9h0M190.1 175.6h0M190.4 175.9h0M190.5 176.8h0M190.8 177.0h0M191.1 177.5h0M191.3 179.1h0M191.5 179.5h0M191.7 180.3h0M191.9 180.8h0M192.1 181.3h0M192.3 182.3h0M192.5 182.6h0M192.7 183.6h0M193.0 183.9h0M193.1 185.2h0M193.3 185.8h0M193.7 187.2h0M193.9 187.7h0M194.1 188.3h0M194.3 189.8h0M194.5 190.5h0M194.8 190.8h0M194.9 192.0h0M195.1 192.5h0M195.4 192.9h0M195.5 194.2h0M195.7 194.7h0M195.9 195.5h0M196.1 196.2h0M196.3 196.8h0M196.5 197.8h0M196.7 198.3h0M197.1 198.7h0M197.3 199.6h0M197.7 200.3h0M197.9 200.8h0M198.2 201.1h0M198.3 202.0h0M198.5 202.4h0M198.9 202.8h0M199.1 203.4h0M199.4 203.6h0M199.5 204.2h0M199.9 204.4h0M200.1 204.9h0M200.5 205.0h0M200.7 205.3h0M201.0 205.6h0M201.3 205.9h0M201.7 206.3h0M202.1 206.5h0M202.5 206.7h0M202.9 207.1h0M203.3 207.1h0M203.7 207.3h0M204.1 207.5h0M204.5 207.6h0M204.9 207.7h0M205.3 207.8h0M205.7 207.9h0M206.1 208.0h0M206.5 208.0h0M206.9 208.2h0M207.3 208.3h0M207.7 208.3h0M208.1 208.4h0M208.5 208.5h0M208.9 208.6h0M209.3 208.8h0M209.7 208.9h0M210.1 209.0h0M210.5 209.1h0M210.9 209.2h0M211.3 209.2h0M211.7 209.3h0M212.1 209.4h0M212.5 209.4h0M212.9 209.5h0M213.3 209.5h0M213.7 209.6h0M214.1 209.6h0M214.5 209.7h0" stroke="#0f0" stroke-width="2.30" fill="none" stroke-linecap="round"/><path d="M214.9 209.8h0M215.5 209.8h0M216.1 209.9h0M216.7 209.9h0M217.3 209.9h0M217.9 209.9h0M218.5 209.9h0M219.2 209.9h0M219.9 209.9h0M220.6 209.9h0M221.2 209.9h0M221.9 209.9h0M222.6 209.9h0M223.2 209.9h0M223.9 209.9h0M224.6 209.9h0M225.2 209.9h0M225.9 209.9h0M226.6 209.9h0M227.2 209.9h0M227.9 209.9h0M228.6 209.9h0M229.2 209.9h0M229.9 209.9h0M230.6 209.9h0M231.2 209.9h0M231.9 209.9h0M232.6 209.9h0M233.2 209.9h0M233.9 209.9h0M234.6 209.9h0M235.2 209.9h0M235.9 209.9h0M236.6 209.9h0M237.2 209.9h0M237.9 209.9h0M238.6 209.9h0M239.2 209.9h0M239.9 209.9h0M240.6 209.9h0M241.2 209.9h0M241.9 209.9h0M242.6 209.9h0M243.2 209.9h0M243.9 209.9h0M244.6 209.9h0M245.2 209.9h0M245.9 209.9h0M246.6 209.9h0M247.2 209.9h0M247.9 209.9h0M248.6 209.9h0M249.2 209.9h0M249.9 209.9h0M250.6 209.9h0M251.2 209.9h0M251.9 209.9h0M252.6 209.9h0M253.2 209.9h0M253.9 209.9h0M254.6 209.9h0M255.2 209.9h0M255.9 209.9h0M256.6 209.9h0M257.2 209.9h0M257.9 209.9h0M258.5 209.9h0M259.1 209.9h0M259.7 209.9h0M260.4 209.9h0M261.0 209.9h0M261.6 209.9h0M262.2 209.9h0M262.9 209.9h0M263.5 209.9h0M264.1 209.9h0M264.7 209.9h0M265.4 209.9h0M266.0 209.9h0M266.6 209.9h0M267.2 209.9h0M267.9 209.9h0M268.5 209.9h0M269.1 209.9h0M269.7 209.9h0M270.4 209.9h0M271.0 209.9h0M271.6 209.9h0M272.2 209.9h0M272.9 209.9h0M273.5 209.9h0M274.1 209.9h0M274.7 209.9h0M275.4 209.9h0M276.0 209.9h0M276.6 209.9h0M277.2 209.9h0M277.9 209.9h0M278.5 209.9h0M279.1 209.9h0M279.7 209.9h0M280.4 209.9h0M281.0 209.9h0M281.6 209.9h0M282.2 209.9h0M282.9 209.9h0M283.5 209.9h0M284.1 209.9h0M284.7 209.9h0M285.4 209.9h0M286.0 209.9h0M286.6 209.9h0M287.2 209.9h0M287.9 209.9h0M288.5 209.9h0M289.1 209.9h0M289.7 209.9h0M290.4 209.9h0M291.0 209.9h0M291.6 209.9h0M292.2 209.9h0M292.9 209.9h0M293.5 209.9h0" stroke="#0f0" stroke-width="1.80" fill="none" stroke-linecap="round"/>
<path d="M89.0 20.5L89.0 35.6L89.2 36.0L89.5 36.3L89.7 36.6L90.0 36.9L90.2 37.2L90.5 37.4L90.7 37.6L91.0 37.8L91.2 38.0L91.5 38.1L91.7 38.3L92.0 38.4L92.2 38.6L92.5 38.7L92.7 38.8L93.0 38.9L93.2 39.0L93.5 39.1L93.7 39.1L94.0 39.2L94.2 39.3L94.5 39.4L94.7 39.4L94.9 39.5L95.2 39.6L95.4 39.6L95.7 39.7L95.9 39.8L96.2 39.8L96.4 39.9L96.7 39.9L96.9 40.0L97.2 40.1L97.4 40.1L97.6 40.2L97.9 40.2L98.1 40.3L98.4 40.3L98.6 40.4L98.9 40.5L99.1 40.5L99.4 40.6L99.6 40.6L99.8 40.7L100.1 40.8L100.3 40.8L100.6 40.9L100.8 40.9L101.1 41.0L101.3 41.1L101.5 41.1L101.8 41.2L102.0 41.3L102.3 41.3L102.5 41.4L102.8 41.5L103.0 41.5L103.2 41.6L103.5 41.7L103.7 41.7L104.0 41.8L104.2 41.9L104.5 41.9L104.7 42.0L104.9 42.1L105.2 42.1L105.4 42.2L105.7 42.3L105.9 42.3L106.1 42.4L106.4 42.5L106.6 42.6L106.9 42.6L107.1 42.7L107.3 42.8L107.6 42.8L107.8 42.9L108.1 43.0L108.3 43.1L108.5 43.1L108.8 43.2L109.0 43.3L109.2 43.4L109.5 43.4L109.7 43.5L110.0 43.6L110.2 43.7L110.4 43.7L110.7 43.8L110.9 43.9L111.2 44.0L111.4 44.0L111.6 44.1L111.9 44.2L112.1 44.3L112.3 44.4L112.6 44.4L112.8 44.5L113.1 44.6L113.3 44.7L113.5 44.8L113.8 44.9L114.0 44.9L114.2 45.0L114.5 45.1L114.7 45.2L114.9 45.3L115.2 45.4L115.4 45.5L115.6 45.6L115.9 45.6L116.1 45.7L116.3 45.8L116.6 45.9L116.8 46.0L117.1 46.1L117.3 46.2L117.5 46.3L117.8 46.4L118.0 46.5L118.2 46.6L118.4 46.6L118.7 46.7L118.9 46.8L119.1 46.9L119.4 47.0L119.6 47.1L119.8 47.2L120.1 47.3L120.3 47.4L120.5 47.5L120.8 47.6L121.0 47.7L121.2 47.8L121.4 47.9L121.7 48.0L121.9 48.1L122.1 48.2L122.4 48.3L122.6 48.4L122.8 48.5L123.0 48.6L123.3 48.7L123.5 48.8L123.7 49.0L123.9 49.1L124.2 49.2L124.4 49.3L124.6 49.4L124.8 49.5L125.1 49.6L125.3 49.7L125.5 49.9L125.7 50.0L126.0 50.1L126.2 50.2L126.4 50.3L126.6 50.4L126.8 50.5L127.1 50.7L127.3 50.8L127.5 50.9L127.7 51.0L127.9 51.1L128.2 51.3L128.4 51.4L128.6 51.5L128.8 51.6L129.0 51.7L129.3 51.9L129.5 52.0L129.7 52.1L129.9 52.2L130.1 52.3L130.4 52.5L130.6 52.6L130.8 52.7L131.0 52.8L131.2 53.0L131.4 53.1L131.7 53.2L131.9 53.4L132.1 53.5L132.3 53.6L132.5 53.7L132.7 53.9L132.9 54.0L133.2 54.1L133.4 54.3L133.6 54.4L133.8 54.5L134.0 54.7L134.2 54.8L134.4 55.0L134.6 55.1L134.8 55.3L135.0 55.4L135.2 55.6L135.4 55.7L135.6 55.9L135.8 56.0L136.0 56.2L136.2 56.3L136.4 56.5L136.6 56.6L136.8 56.8L137.0 56.9L137.2 57.1L137.4 57.3L137.6 57.4L137.8 57.6L138.0 57.7L138.2 57.9L138.4 58.0L138.5 58.2L138.7 58.4L138.9 58.5L139.1 58.7L139.3 58.9L139.5 59.0L139.7 59.2L139.9 59.3L140.1 59.5L140.3 59.7L140.4 59.8L140.6 60.0L140.8 60.2L141.0 60.3L141.2 60.5L141.4 60.7L141.6 60.9L141.7 61.0L141.9 61.2L142.1 61.4L142.3 61.5L142.5 61.7L142.6 61.9L142.8 62.1L143.0 62.2L143.2 62.4L143.4 62.6L143.5 62.8L143.7 62.9L143.9 63.1L144.1 63.3L144.2 63.5L144.4 63.7L144.6 63.8L144.7 64.0L144.9 64.2L145.1 64.4L145.3 64.6L145.4 64.8L145.6 64.9L145.8 65.1L145.9 65.3L146.1 65.5L146.3 65.7L146.4 65.9L146.6 66.1L146.8 66.2L146.9 66.4L147.1 66.6L147.3 66.8L147.4 67.0L147.6 67.2L147.8 67.4L147.9 67.6L148.1 67.8L148.2 68.0L148.4 68.2L148.6 68.3L148.7 68.5L148.9 68.7L149.0 68.9L149.2 69.1L149.3 69.3L149.5 69.5L149.6 69.7L149.8 69.9L149.9 70.1L150.1 70.3L150.2 70.5L150.4 70.7L150.5 70.9L150.7 71.1L150.8 71.3L151.0 71.5L151.1 71.8L151.3 72.0L151.4 72.2L151.5 72.4L151.7 72.6L151.8 72.8L152.0 73.0L152.1 73.2L152.2 73.4L152.4 73.6L152.5 73.8L152.6 74.0L152.8 74.3L152.9 74.5L153.0 74.7L153.2 74.9L153.3 75.1L153.4 75.3L153.6 75.5L153.7 75.7L153.8 76.0L154.0 76.2L154.1 76.4L154.2 76.6L154.4 76.8L154.5 77.0L154.6 77.2L154.7 77.5L154.9 77.7L155.0 77.9L155.1 78.1L155.2 78.3L155.4 78.5L155.5 78.8L155.6 79.0L155.7 79.2L155.8 79.4L156.0 79.6L156.1 79.9L156.2 80.1L156.3 80.3L156.4 80.5L156.6 80.7L156.7 81.0L156.8 81.2L156.9 81.4L157.0 81.6L157.1 81.8L157.3 82.1L157.4 82.3L157.5 82.5L157.6 82.7L157.7 83.0L157.8 83.2L157.9 83.4L158.0 83.6L158.2 83.9L158.3 84.1L158.4 84.3L158.5 84.5L158.6 84.8L158.7 85.0L158.8 85.2L158.9 85.4L159.0 85.7L159.1 85.9L159.2 86.1L159.3 86.4L159.4 86.6L159.5 86.8L159.6 87.0L159.7 87.3L159.8 87.5L159.9 87.7L160.0 88.0L160.1 88.2L160.2 88.4L160.3 88.7L160.4 88.9L160.5 89.1L160.6 89.3L160.7 89.6L160.8 89.8L160.9 90.0L161.0 90.3L161.1 90.5L161.2 90.7L161.3 91.0L161.4 91.2L161.5 91.4L161.6 91.7L161.6 91.9L161.7 92.1L161.8 92.4L161.9 92.6L162.0 92.8L162.1 93.1L162.2 93.3L162.2 93.5L162.3 93.8L162.4 94.0L162.5 94.3L162.6 94.5L162.6 94.7L162.7 95.0L162.8 95.2L162.9 95.4L162.9 95.7L163.0 95.9L163.1 96.2L163.2 96.4L163.2 96.6L163.3 96.9L163.4 97.1L163.5 97.4L163.5 97.6L163.6 97.8L163.7 98.1L163.7 98.3L163.8 98.6L163.9 98.8L164.0 99.0L164.0 99.3L164.1 99.5L164.2 99.8L164.2 100.0L164.3 100.2L164.4 100.5L164.4 100.7L164.5 101.0L164.6 101.2L164.7 101.4L164.7 101.7L164.8 101.9L164.9 102.2L164.9 102.4L165.0 102.6L165.1 102.9L165.1 103.1L165.2 103.4L165.3 103.6L165.3 103.9L165.4 104.1L165.4 104.3L165.5 104.6L165.6 104.8L165.6 105.1L165.7 105.3L165.8 105.6L165.8 105.8L165.9 106.0L166.0 106.3L166.0 106.5L166.1 106.8L166.1 107.0L166.2 107.2L166.3 107.5L166.3 107.7L166.4 108.0L166.5 108.2L166.5 108.5L166.6 108.7L166.6 108.9L166.7 109.2L166.8 109.4L166.8 109.7L166.9 109.9L166.9 110.2L167.0 110.4L167.1 110.6L167.1 110.9L167.2 111.1L167.2 111.4L167.3 111.6L167.3 111.9L167.4 112.1L167.5 112.4L167.5 112.6L167.6 112.8L167.6 113.1L167.7 113.3L167.7 113.6L167.8 113.8L167.8 114.1L167.9 114.3L168.0 114.6L168.0 114.8L168.1 115.0L168.1 115.3L168.2 115.5L168.2 115.8L168.3 116.0L168.3 116.3L168.4 116.5L168.4 116.7L168.5 117.0L168.6 117.2L168.6 117.5L168.7 117.7L168.7 118.0L168.8 118.2L168.8 118.5L168.9 118.7L168.9 119.0L169.0 119.2L169.0 119.4L169.1 119.7L169.1 119.9L169.2 120.2L169.2 120.4L169.3 120.7L169.3 120.9L169.4 121.2L169.4 121.4L169.5 121.6L169.5 121.9L169.6 122.1L169.6 122.4L169.7 122.6L169.7 122.9L169.8 123.1L169.8 123.4L169.9 123.6L169.9 123.9L170.0 124.1L170.0 124.3L170.1 124.6L170.1 124.8L170.2 125.1L170.2 125.3L170.3 125.6L170.3 125.8L170.4 126.1L170.4 126.3L170.5 126.6L170.5 126.8L170.6 127.1L170.6 127.3L170.6 127.5L170.7 127.8L170.7 128.0L170.8 128.3L170.8 128.5L170.9 128.8L170.9 129.0L171.0 129.3L171.0 129.5L171.1 129.8L171.1 130.0L171.2 130.2L171.2 130.5L171.3 130.7L171.3 131.0L171.3 131.2L171.4 131.5L171.4 131.7L171.5 132.0L171.5 132.2L171.6 132.5L171.6 132.7L171.7 133.0L171.7 133.2L171.8 133.4L171.8 133.7L171.8 133.9L171.9 134.2L171.9 134.4L172.0 134.7L172.0 134.9L172.1 135.2L172.1 135.4L172.2 135.7L172.2 135.9L172.2 136.2L172.3 136.4L172.3 136.7L172.4 136.9L172.4 137.1L172.5 137.4L172.5 137.6L172.6 137.9L172.6 138.1L172.6 138.4L172.7 138.6L172.7 138.9L172.8 139.1L172.8 139.4L172.9 139.6L172.9 139.9L173.0 140.1L173.0 140.3L173.0 140.6L173.1 140.8L173.1 141.1L173.2 141.3L173.2 141.6L173.3 141.8L173.3 142.1L173.3 142.3L173.4 142.6L173.4 142.8L173.5 143.1L173.5 143.3L173.6 143.5L173.6 143.8L173.7 144.0L173.7 144.3L173.7 144.5L173.8 144.8L173.8 145.0L173.9 145.3L173.9 145.5L174.0 145.8L174.0 146.0L174.1 146.3L174.1 146.5L174.1 146.8L174.2 147.0L174.2 147.2L174.3 147.5L174.3 147.7L174.4 148.0L174.4 148.2L174.5 148.5L174.5 148.7L174.5 149.0L174.6 149.2L174.6 149.5L174.7 149.7L174.7 150.0L174.8 150.2L174.8 150.4L174.9 150.7L174.9 150.9L175.0 151.2L175.0 151.4L175.0 151.7L175.1 151.9L175.1 152.2L175.2 152.4L175.2 152.7L175.3 152.9L175.3 153.2L175.4 153.4L175.4 153.6L175.5 153.9L175.5 154.1L175.5 154.4L175.6 154.6L175.6 154.9L175.7 155.1L175.7 155.4L175.8 155.6L175.8 155.9L175.9 156.1L175.9 156.4L176.0 156.6L176.0 156.8L176.1 157.1L176.1 157.3L176.2 157.6L176.2 157.8L176.3 158.1L176.3 158.3L176.4 158.6L176.4 158.8L176.5 159.1L176.5 159.3L176.5 159.5L176.6 159.8L176.6 160.0L176.7 160.3L176.7 160.5L176.8 160.8L176.8 161.0L176.9 161.3L176.9 161.5L177.0 161.8L177.0 162.0L177.1 162.2L177.1 162.5L177.2 162.7L177.2 163.0L177.3 163.2L177.3 163.5L177.4 163.7L177.5 164.0L177.5 164.2L177.6 164.5L177.6 164.7L177.7 164.9L177.7 165.2L177.8 165.4L177.8 165.7L177.9 165.9L177.9 166.2L178.0 166.4L178.0 166.7L178.1 166.9L178.1 167.1L178.2 167.4L178.2 167.6L178.3 167.9L178.4 168.1L178.4 168.4L178.5 168.6L178.5 168.9L178.6 169.1L178.6 169.3L178.7 169.6L178.7 169.8L178.8 170.1L178.9 170.3L178.9 170.6L179.0 170.8L179.0 171.0L179.1 171.3L179.1 171.5L179.2 171.8L179.3 172.0L179.3 172.3L179.4 172.5L179.4 172.8L179.5 173.0L179.5 173.2L179.6 173.5L179.7 173.7L179.7 174.0L179.8 174.2L179.8 174.5L179.9 174.7L180.0 174.9L180.0 175.2L180.1 175.4L180.1 175.7L180.2 175.9L180.3 176.2L180.3 176.4L180.4 176.6L180.5 176.9L180.5 177.1L180.6 177.4L180.7 177.6L180.7 177.9L180.8 178.1L180.8 178.3L180.9 178.6L181.0 178.8L181.0 179.1L181.1 179.3L181.1 179.6L181.2 179.8L181.2 180.0L181.3 180.3L181.4 180.5L181.4 180.8L181.5 181.0L181.5 181.3L181.6 181.5L181.7 181.7L181.8 182.0L181.8 182.2L181.9 182.5L182.0 182.7L182.1 182.9L182.1 183.2L182.2 183.4L182.3 183.7L182.4 183.9L182.4 184.1L182.5 184.4L182.6 184.6L182.6 184.8L182.7 185.1L182.8 185.3L182.8 185.6L182.9 185.8L183.0 186.1L183.0 186.3L183.1 186.5L183.2 186.8L183.2 187.0L183.3 187.3L183.3 187.5L183.4 187.8L183.5 188.0L183.5 188.2L183.6 188.5L183.6 188.7L183.7 189.0L183.8 189.2L183.8 189.5L183.9 189.7L183.9 190.0L184.0 190.2L184.1 190.4L184.1 190.7L184.2 190.9L184.2 191.2L184.3 191.4L184.4 191.7L184.4 191.9L184.5 192.1L184.5 192.4L184.6 192.6L184.7 192.9L184.7 193.1L184.8 193.3L184.9 193.6L185.0 193.8L185.0 194.1L185.1 194.3L185.2 194.5L185.2 194.8L185.3 195.0L185.4 195.3L185.5 195.5L185.6 195.7L185.6 196.0L185.7 196.2L185.8 196.4L185.9 196.7L186.0 196.9L186.1 197.2L186.2 197.4L186.3 197.6L186.4 197.9L186.4 198.1L186.5 198.3L186.6 198.6L186.7 198.8L186.9 199.0L187.0 199.2L187.1 199.5L187.2 199.7L187.3 199.9L187.4 200.1L187.5 200.3L187.7 200.5L187.8 200.7L187.9 201.0L188.1 201.2L188.2 201.4L188.3 201.6L188.5 201.8L188.6 202.0L188.8 202.2L188.9 202.4L189.1 202.6L189.3 202.8L189.4 203.0L189.6 203.2L189.8 203.4L189.9 203.6L190.1 203.8L190.3 204.0L190.4 204.1L190.6 204.3L190.8 204.5L191.0 204.7L191.2 204.8L191.3 205.0L191.5 205.1L191.7 205.3L191.9 205.5L192.1 205.6L192.3 205.8L192.5 205.9L192.7 206.1L192.9 206.2L193.1 206.4L193.4 206.5L193.6 206.6L193.8 206.8L194.0 206.9L194.2 207.0L194.5 207.1L194.7 207.2L194.9 207.3L195.1 207.4L195.4 207.5L195.6 207.6L195.8 207.6L196.1 207.7L196.3 207.8L196.6 207.8L196.8 207.9L197.1 207.9L197.3 208.0L197.6 208.0L197.8 208.1L198.1 208.2L198.3 208.2L198.5 208.3L198.8 208.3L199.0 208.4L199.3 208.4L199.5 208.5L199.8 208.5L200.0 208.6L200.2 208.7L200.5 208.7L200.7 208.8L201.0 208.9L201.2 209.0L201.4 209.0L201.7 209.1L201.9 209.2L202.2 209.2L202.4 209.3L202.7 209.3L202.9 209.3L203.2 209.4L203.4 209.4L203.7 209.4L203.9 209.5L204.2 209.5L204.4 209.5L204.6 209.6L204.9 209.6L205.1 209.7L205.4 209.7L205.6 209.7L205.9 209.8" stroke="#00f" stroke-width="2.30" fill="none" stroke-linejoin="round" stroke-linecap="round"/><path d="M205.9 209.8L207.9 209.9L209.9 209.9L211.9 209.9L213.9 209.9L215.9 209.9L217.9 209.9L219.9 209.9L221.9 209.9L223.9 209.9L225.9 209.9L227.9 209.9L229.9 209.9L231.9 209.9L233.9 209.9L235.9 209.9L237.9 209.9L239.9 209.9L241.9 209.9L243.9 209.9L245.9 209.9L247.9 209.9L249.9 209.9L251.9 209.9L253.9 209.9L255.9 209.9L257.9 209.9L259.9 209.9L261.9 209.9L263.9 209.9L265.9 209.9L268.0 209.9L270.0 209.9L272.0 209.9L274.0 209.9L276.0 209.9L278.0 209.9L280.0 209.9L282.0 209.9L284.0 209.9L286.0 209.9L288.0 209.9L290.0 209.9L292.0 209.9L293.0 209.9" stroke="#00f" stroke-width="1.50" fill="none" stroke-linecap="round"/>
<path d="M89.0 20.5L89.0 35.6L89.2 36.2L89.5 36.7L89.7 37.1L90.0 37.4L90.2 37.7L90.5 37.9L90.7 38.1L91.0 38.3L91.2 38.5L91.5 38.6L91.7 38.8L92.0 38.9L92.2 39.0L92.5 39.1L92.7 39.2L93.0 39.3L93.2 39.3L93.5 39.4L93.7 39.5L93.9 39.5L94.2 39.6L94.4 39.7L94.7 39.7L94.9 39.8L95.2 39.8L95.4 39.9L95.7 40.0L95.9 40.0L96.1 40.1L96.4 40.1L96.6 40.2L96.9 40.3L97.1 40.3L97.4 40.4L97.6 40.4L97.8 40.5L98.1 40.6L98.3 40.6L98.6 40.7L98.8 40.8L99.1 40.8L99.3 40.9L99.5 41.0L99.8 41.0L100.0 41.1L100.3 41.2L100.5 41.2L100.7 41.3L101.0 41.4L101.2 41.5L101.5 41.5L101.7 41.6L101.9 41.7L102.2 41.8L102.4 41.8L102.7 41.9L102.9 42.0L103.1 42.1L103.4 42.1L103.6 42.2L103.9 42.3L104.1 42.4L104.3 42.5L104.6 42.5L104.8 42.6L105.0 42.7L105.3 42.8L105.5 42.9L105.7 42.9L106.0 43.0L106.2 43.1L106.5 43.2L106.7 43.3L106.9 43.3L107.2 43.4L107.4 43.5L107.6 43.6L107.9 43.7L108.1 43.8L108.3 43.8L108.6 43.9L108.8 44.0L109.0 44.1L109.3 44.2L109.5 44.3L109.7 44.4L110.0 44.5L110.2 44.6L110.4 44.7L110.7 44.7L110.9 44.8L111.1 44.9L111.4 45.0L111.6 45.1L111.8 45.2L112.1 45.3L112.3 45.4L112.5 45.5L112.8 45.6L113.0 45.7L113.2 45.8L113.5 45.9L113.7 46.0L113.9 46.1L114.1 46.2L114.4 46.3L114.6 46.4L114.8 46.5L115.1 46.6L115.3 46.7L115.5 46.8L115.7 46.9L116.0 47.0L116.2 47.1L116.4 47.2L116.7 47.4L116.9 47.5L117.1 47.6L117.3 47.7L117.6 47.8L117.8 47.9L118.0 48.0L118.2 48.1L118.4 48.2L118.7 48.3L118.9 48.5L119.1 48.6L119.3 48.7L119.5 48.8L119.8 48.9L120.0 49.1L120.2 49.2L120.4 49.3L120.6 49.4L120.9 49.5L121.1 49.7L121.3 49.8L121.5 49.9L121.7 50.0L122.0 50.2L122.2 50.3L122.4 50.4L122.6 50.6L122.8 50.7L123.0 50.8L123.2 50.9L123.5 51.1L123.7 51.2L123.9 51.3L124.1 51.5L124.3 51.6L124.5 51.7L124.7 51.9L124.9 52.0L125.2 52.1L125.4 52.3L125.6 52.4L125.8 52.5L126.0 52.7L126.2 52.8L126.4 52.9L126.6 53.1L126.8 53.2L127.1 53.4L127.3 53.5L127.5 53.6L127.7 53.8L127.9 53.9L128.1 54.1L128.3 54.2L128.5 54.4L128.7 54.5L128.9 54.7L129.1 54.8L129.3 55.0L129.5 55.1L129.7 55.3L129.9 55.4L130.1 55.6L130.3 55.8L130.4 55.9L130.6 56.1L130.8 56.3L131.0 56.4L131.2 56.6L131.4 56.7L131.6 56.9L131.8 57.1L131.9 57.2L132.1 57.4L132.3 57.6L132.5 57.8L132.7 57.9L132.9 58.1L133.0 58.3L133.2 58.4L133.4 58.6L133.6 58.8L133.8 59.0L134.0 59.1L134.1 59.3L134.3 59.5L134.5 59.7L134.7 59.8L134.8 60.0L135.0 60.2L135.2 60.4L135.4 60.5L135.5 60.7L135.7 60.9L135.9 61.1L136.1 61.3L136.2 61.5L136.4 61.6L136.6 61.8L136.7 62.0L136.9 62.2L137.1 62.4L137.2 62.6L137.4 62.7L137.6 62.9L137.7 63.1L137.9 63.3L138.1 63.5L138.2 63.7L138.4 63.9L138.6 64.1L138.7 64.3L138.9 64.5L139.0 64.7L139.2 64.8L139.4 65.0L139.5 65.2L139.7 65.4L139.8 65.6L140.0 65.8L140.2 66.0L140.3 66.2L140.5 66.4L140.6 66.6L140.8 66.8L140.9 67.0L141.1 67.2L141.2 67.4L141.4 67.6L141.6 67.8L141.7 68.0L141.9 68.2L142.0 68.4L142.2 68.6L142.3 68.8L142.5 69.0L142.6 69.2L142.7 69.4L142.9 69.6L143.0 69.8L143.2 70.0L143.3 70.2L143.5 70.4L143.6 70.6L143.7 70.8L143.9 71.0L144.0 71.2L144.2 71.4L144.3 71.6L144.4 71.9L144.6 72.1L144.7 72.3L144.8 72.5L145.0 72.7L145.1 72.9L145.2 73.1L145.4 73.3L145.5 73.6L145.6 73.8L145.8 74.0L145.9 74.2L146.0 74.4L146.2 74.6L146.3 74.8L146.4 75.0L146.5 75.3L146.7 75.5L146.8 75.7L146.9 75.9L147.1 76.1L147.2 76.3L147.3 76.5L147.5 76.8L147.6 77.0L147.7 77.2L147.9 77.4L148.0 77.6L148.1 77.8L148.2 78.0L148.4 78.3L148.5 78.5L148.6 78.7L148.8 78.9L148.9 79.1L149.0 79.3L149.1 79.5L149.3 79.8L149.4 80.0L149.5 80.2L149.6 80.4L149.7 80.7L149.8 80.9L149.9 81.1L150.0 81.3L150.1 81.6L150.2 81.8L150.3 82.0L150.4 82.3L150.5 82.5L150.6 82.7L150.7 83.0L150.8 83.2L150.9 83.4L151.0 83.7L151.1 83.9L151.2 84.1L151.2 84.4L151.3 84.6L151.4 84.8L151.5 85.1L151.6 85.3L151.7 85.5L151.8 85.8L151.9 86.0L152.0 86.2L152.0 86.5L152.1 86.7L152.2 86.9L152.3 87.2L152.4 87.4L152.5 87.6L152.6 87.9L152.6 88.1L152.7 88.4L152.8 88.6L152.9 88.8L153.0 89.1L153.0 89.3L153.1 89.5L153.2 89.8L153.3 90.0L153.4 90.2L153.4 90.5L153.5 90.7L153.6 91.0L153.7 91.2L153.7 91.4L153.8 91.7L153.9 91.9L154.0 92.2L154.0 92.4L154.1 92.6L154.2 92.9L154.3 93.1L154.3 93.4L154.4 93.6L154.5 93.8L154.5 94.1L154.6 94.3L154.7 94.6L154.8 94.8L154.8 95.0L154.9 95.3L155.0 95.5L155.0 95.8L155.1 96.0L155.2 96.2L155.2 96.5L155.3 96.7L155.4 97.0L155.4 97.2L155.5 97.4L155.6 97.7L155.6 97.9L155.7 98.2L155.8 98.4L155.8 98.7L155.9 98.9L155.9 99.1L156.0 99.4L156.1 99.6L156.1 99.9L156.2 100.1L156.3 100.3L156.3 100.6L156.4 100.8L156.4 101.1L156.5 101.3L156.6 101.6L156.6 101.8L156.7 102.0L156.8 102.3L156.8 102.5L156.9 102.8L156.9 103.0L157.0 103.3L157.1 103.5L157.1 103.7L157.2 104.0L157.2 104.2L157.3 104.5L157.3 104.7L157.4 105.0L157.5 105.2L157.5 105.5L157.6 105.7L157.6 105.9L157.7 106.2L157.7 106.4L157.8 106.7L157.9 106.9L157.9 107.2L158.0 107.4L158.0 107.6L158.1 107.9L158.1 108.1L158.2 108.4L158.2 108.6L158.3 108.9L158.4 109.1L158.4 109.4L158.5 109.6L158.5 109.8L158.6 110.1L158.6 110.3L158.7 110.6L158.7 110.8L158.8 111.1L158.8 111.3L158.9 111.6L158.9 111.8L159.0 112.1L159.0 112.3L159.1 112.5L159.1 112.8L159.2 113.0L159.2 113.3L159.3 113.5L159.3 113.8L159.4 114.0L159.4 114.3L159.5 114.5L159.5 114.7L159.6 115.0L159.6 115.2L159.7 115.5L159.7 115.7L159.8 116.0L159.8 116.2L159.9 116.5L159.9 116.7L160.0 117.0L160.0 117.2L160.1 117.4L160.1 117.7L160.2 117.9L160.2 118.2L160.3 118.4L160.3 118.7L160.3 118.9L160.4 119.2L160.4 119.4L160.5 119.7L160.5 119.9L160.6 120.2L160.6 120.4L160.7 120.6L160.7 120.9L160.8 121.1L160.8 121.4L160.9 121.6L160.9 121.9L160.9 122.1L161.0 122.4L161.0 122.6L161.1 122.9L161.1 123.1L161.2 123.4L161.2 123.6L161.3 123.8L161.3 124.1L161.3 124.3L161.4 124.6L161.4 124.8L161.5 125.1L161.5 125.3L161.6 125.6L161.6 125.8L161.6 126.1L161.7 126.3L161.7 126.6L161.8 126.8L161.8 127.1L161.9 127.3L161.9 127.5L161.9 127.8L162.0 128.0L162.0 128.3L162.1 128.5L162.1 128.8L162.1 129.0L162.2 129.3L162.2 129.5L162.3 129.8L162.3 130.0L162.4 130.3L162.4 130.5L162.4 130.8L162.5 131.0L162.5 131.2L162.6 131.5L162.6 131.7L162.6 132.0L162.7 132.2L162.7 132.5L162.8 132.7L162.8 133.0L162.8 133.2L162.9 133.5L162.9 133.7L163.0 134.0L163.0 134.2L163.0 134.5L163.1 134.7L163.1 135.0L163.2 135.2L163.2 135.4L163.2 135.7L163.3 135.9L163.3 136.2L163.4 136.4L163.4 136.7L163.4 136.9L163.5 137.2L163.5 137.4L163.6 137.7L163.6 137.9L163.6 138.2L163.7 138.4L163.7 138.7L163.8 138.9L163.8 139.2L163.8 139.4L163.9 139.6L163.9 139.9L164.0 140.1L164.0 140.4L164.0 140.6L164.1 140.9L164.1 141.1L164.2 141.4L164.2 141.6L164.2 141.9L164.3 142.1L164.3 142.4L164.4 142.6L164.4 142.9L164.4 143.1L164.5 143.4L164.5 143.6L164.6 143.9L164.6 144.1L164.6 144.3L164.7 144.6L164.7 144.8L164.7 145.1L164.8 145.3L164.8 145.6L164.9 145.8L164.9 146.1L164.9 146.3L165.0 146.6L165.0 146.8L165.1 147.1L165.1 147.3L165.1 147.6L165.2 147.8L165.2 148.1L165.3 148.3L165.3 148.5L165.3 148.8L165.4 149.0L165.4 149.3L165.5 149.5L165.5 149.8L165.5 150.0L165.6 150.3L165.6 150.5L165.7 150.8L165.7 151.0L165.7 151.3L165.8 151.5L165.8 151.8L165.9 152.0L165.9 152.3L166.0 152.5L166.0 152.7L166.0 153.0L166.1 153.2L166.1 153.5L166.2 153.7L166.2 154.0L166.3 154.2L166.3 154.5L166.3 154.7L166.4 155.0L166.4 155.2L166.5 155.5L166.5 155.7L166.6 156.0L166.6 156.2L166.6 156.4L166.7 156.7L166.7 156.9L166.8 157.2L166.8 157.4L166.9 157.7L166.9 157.9L166.9 158.2L167.0 158.4L167.0 158.7L167.1 158.9L167.1 159.2L167.2 159.4L167.2 159.6L167.3 159.9L167.3 160.1L167.4 160.4L167.4 160.6L167.4 160.9L167.5 161.1L167.5 161.4L167.6 161.6L167.6 161.9L167.7 162.1L167.7 162.4L167.8 162.6L167.8 162.8L167.9 163.1L167.9 163.3L168.0 163.6L168.0 163.8L168.1 164.1L168.1 164.3L168.1 164.6L168.2 164.8L168.2 165.1L168.3 165.3L168.3 165.5L168.4 165.8L168.4 166.0L168.5 166.3L168.5 166.5L168.6 166.8L168.6 167.0L168.7 167.3L168.7 167.5L168.8 167.8L168.8 168.0L168.9 168.2L168.9 168.5L169.0 168.7L169.0 169.0L169.1 169.2L169.1 169.5L169.2 169.7L169.2 170.0L169.3 170.2L169.3 170.4L169.4 170.7L169.5 170.9L169.5 171.2L169.6 171.4L169.6 171.7L169.7 171.9L169.7 172.2L169.8 172.4L169.8 172.7L169.9 172.9L169.9 173.1L170.0 173.4L170.0 173.6L170.1 173.9L170.1 174.1L170.2 174.4L170.3 174.6L170.3 174.8L170.4 175.1L170.4 175.3L170.5 175.6L170.5 175.8L170.6 176.1L170.7 176.3L170.7 176.6L170.8 176.8L170.8 177.0L170.9 177.3L171.0 177.5L171.0 177.8L171.1 178.0L171.1 178.3L171.2 178.5L171.2 178.7L171.3 179.0L171.3 179.2L171.4 179.5L171.5 179.7L171.5 180.0L171.6 180.2L171.6 180.5L171.7 180.7L171.7 180.9L171.8 181.2L171.8 181.4L171.9 181.7L172.0 181.9L172.0 182.2L172.1 182.4L172.2 182.6L172.3 182.9L172.3 183.1L172.4 183.4L172.5 183.6L172.5 183.8L172.6 184.1L172.7 184.3L172.7 184.6L172.8 184.8L172.9 185.0L172.9 185.3L173.0 185.5L173.1 185.8L173.1 186.0L173.2 186.3L173.3 186.5L173.3 186.7L173.4 187.0L173.4 187.2L173.5 187.5L173.5 187.7L173.6 188.0L173.7 188.2L173.7 188.4L173.8 188.7L173.8 188.9L173.9 189.2L173.9 189.4L174.0 189.7L174.1 189.9L174.1 190.2L174.2 190.4L174.2 190.6L174.3 190.9L174.4 191.1L174.4 191.4L174.5 191.6L174.5 191.9L174.6 192.1L174.7 192.3L174.7 192.6L174.8 192.8L174.8 193.1L174.9 193.3L175.0 193.6L175.0 193.8L175.1 194.0L175.2 194.3L175.3 194.5L175.3 194.7L175.4 195.0L175.5 195.2L175.6 195.5L175.6 195.7L175.7 195.9L175.8 196.2L175.9 196.4L175.9 196.7L176.0 196.9L176.1 197.1L176.2 197.4L176.3 197.6L176.4 197.9L176.5 198.1L176.6 198.3L176.7 198.6L176.8 198.8L176.9 199.0L177.0 199.2L177.1 199.5L177.2 199.7L177.3 199.9L177.4 200.1L177.5 200.3L177.6 200.5L177.8 200.8L177.9 201.0L178.0 201.2L178.2 201.4L178.3 201.6L178.5 201.8L178.6 202.0L178.8 202.2L178.9 202.4L179.1 202.6L179.3 202.8L179.4 203.0L179.6 203.2L179.8 203.4L179.9 203.6L180.1 203.8L180.3 203.9L180.5 204.1L180.6 204.3L180.8 204.5L181.0 204.6L181.2 204.8L181.4 205.0L181.5 205.1L181.7 205.3L181.9 205.4L182.1 205.6L182.3 205.7L182.5 205.9L182.7 206.0L183.0 206.2L183.2 206.3L183.4 206.5L183.6 206.6L183.8 206.7L184.0 206.9L184.3 207.0L184.5 207.1L184.7 207.2L184.9 207.3L185.2 207.4L185.4 207.5L185.6 207.5L185.9 207.6L186.1 207.7L186.3 207.8L186.6 207.8L186.8 207.9L187.1 207.9L187.3 208.0L187.6 208.1L187.8 208.1L188.1 208.2L188.3 208.2L188.6 208.3L188.8 208.3L189.0 208.4L189.3 208.5L189.5 208.5L189.8 208.6L190.0 208.6L190.3 208.7L190.5 208.8L190.7 208.9L191.0 209.0L191.2 209.0L191.4 209.1L191.7 209.2L191.9 209.2L192.2 209.3L192.4 209.3L192.7 209.3L192.9 209.4L193.2 209.4L193.4 209.5L193.7 209.5L193.9 209.5L194.2 209.6L194.4 209.6L194.7 209.6L194.9 209.7L195.1 209.7L195.4 209.8" stroke="#f00" stroke-width="2.30" fill="none" stroke-linejoin="round" stroke-linecap="round"/><path d="M195.4 209.8L197.4 209.9L199.4 209.9L201.4 209.9L203.4 209.9L205.4 209.9L207.4 209.9L209.4 209.9L211.4 209.9L213.4 209.9L215.4 209.9L217.4 209.9L219.4 209.9L221.4 209.9L223.4 209.9L225.4 209.9L227.4 209.9L229.4 209.9L231.4 209.9L233.4 209.9L235.4 209.9L237.4 209.9L239.4 209.9L241.4 209.9L243.4 209.9L245.4 209.9L247.4 209.9L249.4 209.9L251.4 209.9L253.4 209.9L255.4 209.9L257.4 209.9L259.4 209.9L261.4 209.9L263.4 209.9L265.4 209.9L267.5 209.9L269.5 209.9L271.5 209.9L273.5 209.9L275.5 209.9L277.5 209.9L279.5 209.9L281.5 209.9L283.5 209.9L285.5 209.9L287.5 209.9L289.5 209.9L291.5 209.9L293.0 209.9" stroke="#f00" stroke-width="1.50" fill="none" stroke-linecap="round"/>
<path d="M89.0 20.5L89.0 35.7L89.2 36.4L89.5 37.0L89.7 37.5L90.0 37.8L90.2 38.1L90.5 38.4L90.7 38.5L91.0 38.7L91.2 38.9L91.5 39.0L91.7 39.1L92.0 39.2L92.2 39.2L92.5 39.3L92.7 39.4L92.9 39.5L93.2 39.5L93.4 39.6L93.7 39.6L93.9 39.7L94.2 39.8L94.4 39.8L94.7 39.9L94.9 39.9L95.1 40.0L95.4 40.1L95.6 40.1L95.9 40.2L96.1 40.3L96.3 40.3L96.6 40.4L96.8 40.5L97.1 40.5L97.3 40.6L97.6 40.7L97.8 40.7L98.0 40.8L98.3 40.9L98.5 41.0L98.8 41.0L99.0 41.1L99.2 41.2L99.5 41.3L99.7 41.3L99.9 41.4L100.2 41.5L100.4 41.6L100.7 41.7L100.9 41.7L101.1 41.8L101.4 41.9L101.6 42.0L101.8 42.1L102.1 42.2L102.3 42.3L102.6 42.3L102.8 42.4L103.0 42.5L103.3 42.6L103.5 42.7L103.7 42.8L104.0 42.9L104.2 42.9L104.4 43.0L104.7 43.1L104.9 43.2L105.1 43.3L105.4 43.4L105.6 43.5L105.8 43.6L106.1 43.7L106.3 43.8L106.5 43.9L106.8 44.0L107.0 44.0L107.2 44.1L107.4 44.2L107.7 44.3L107.9 44.4L108.1 44.5L108.4 44.6L108.6 44.7L108.8 44.8L109.1 44.9L109.3 45.0L109.5 45.1L109.7 45.3L110.0 45.4L110.2 45.5L110.4 45.6L110.7 45.7L110.9 45.8L111.1 45.9L111.3 46.0L111.6 46.1L111.8 46.2L112.0 46.3L112.2 46.4L112.5 46.6L112.7 46.7L112.9 46.8L113.1 46.9L113.4 47.0L113.6 47.1L113.8 47.2L114.0 47.4L114.2 47.5L114.5 47.6L114.7 47.7L114.9 47.8L115.1 47.9L115.3 48.1L115.6 48.2L115.8 48.3L116.0 48.4L116.2 48.6L116.4 48.7L116.6 48.8L116.9 48.9L117.1 49.1L117.3 49.2L117.5 49.3L117.7 49.5L117.9 49.6L118.1 49.7L118.3 49.9L118.6 50.0L118.8 50.1L119.0 50.3L119.2 50.4L119.4 50.5L119.6 50.7L119.8 50.8L120.0 51.0L120.2 51.1L120.4 51.2L120.6 51.4L120.9 51.5L121.1 51.7L121.3 51.8L121.5 52.0L121.7 52.1L121.9 52.2L122.1 52.4L122.3 52.5L122.5 52.7L122.7 52.8L122.9 53.0L123.1 53.1L123.3 53.3L123.5 53.4L123.7 53.6L123.9 53.7L124.1 53.9L124.3 54.0L124.5 54.2L124.7 54.3L124.9 54.5L125.1 54.6L125.3 54.8L125.5 55.0L125.7 55.1L125.9 55.3L126.0 55.5L126.2 55.6L126.4 55.8L126.6 56.0L126.8 56.1L127.0 56.3L127.1 56.5L127.3 56.7L127.5 56.8L127.7 57.0L127.9 57.2L128.0 57.4L128.2 57.5L128.4 57.7L128.6 57.9L128.7 58.1L128.9 58.2L129.1 58.4L129.3 58.6L129.4 58.8L129.6 59.0L129.8 59.1L130.0 59.3L130.1 59.5L130.3 59.7L130.5 59.9L130.6 60.1L130.8 60.2L131.0 60.4L131.2 60.6L131.3 60.8L131.5 61.0L131.7 61.2L131.8 61.4L132.0 61.6L132.1 61.7L132.3 61.9L132.5 62.1L132.6 62.3L132.8 62.5L133.0 62.7L133.1 62.9L133.3 63.1L133.4 63.3L133.6 63.5L133.7 63.7L133.9 63.9L134.1 64.1L134.2 64.3L134.4 64.5L134.5 64.7L134.7 64.9L134.8 65.1L135.0 65.3L135.1 65.5L135.3 65.7L135.4 65.9L135.6 66.1L135.7 66.3L135.9 66.5L136.0 66.7L136.2 66.9L136.3 67.1L136.4 67.3L136.6 67.5L136.7 67.7L136.9 67.9L137.0 68.1L137.1 68.3L137.3 68.5L137.4 68.7L137.6 68.9L137.7 69.2L137.8 69.4L138.0 69.6L138.1 69.8L138.2 70.0L138.4 70.2L138.5 70.4L138.6 70.6L138.7 70.9L138.9 71.1L139.0 71.3L139.1 71.5L139.2 71.7L139.4 71.9L139.5 72.2L139.6 72.4L139.7 72.6L139.9 72.8L140.0 73.0L140.1 73.3L140.2 73.5L140.3 73.7L140.5 73.9L140.6 74.1L140.7 74.4L140.8 74.6L140.9 74.8L141.0 75.0L141.1 75.3L141.2 75.5L141.4 75.7L141.5 75.9L141.6 76.2L141.7 76.4L141.8 76.6L141.9 76.8L142.0 77.1L142.1 77.3L142.2 77.5L142.3 77.8L142.4 78.0L142.5 78.2L142.6 78.4L142.7 78.7L142.8 78.9L142.9 79.1L143.0 79.4L143.1 79.6L143.2 79.8L143.3 80.1L143.4 80.3L143.5 80.5L143.6 80.8L143.7 81.0L143.7 81.2L143.8 81.5L143.9 81.7L144.0 81.9L144.1 82.2L144.2 82.4L144.3 82.6L144.4 82.9L144.4 83.1L144.5 83.3L144.6 83.6L144.7 83.8L144.8 84.0L144.9 84.3L144.9 84.5L145.0 84.8L145.1 85.0L145.2 85.2L145.3 85.5L145.3 85.7L145.4 85.9L145.5 86.2L145.6 86.4L145.6 86.7L145.7 86.9L145.8 87.1L145.9 87.4L145.9 87.6L146.0 87.9L146.1 88.1L146.2 88.3L146.2 88.6L146.3 88.8L146.4 89.1L146.4 89.3L146.5 89.5L146.6 89.8L146.6 90.0L146.7 90.3L146.8 90.5L146.8 90.7L146.9 91.0L147.0 91.2L147.0 91.5L147.1 91.7L147.2 92.0L147.2 92.2L147.3 92.4L147.4 92.7L147.4 92.9L147.5 93.2L147.6 93.4L147.6 93.6L147.7 93.9L147.8 94.1L147.8 94.4L147.9 94.6L147.9 94.9L148.0 95.1L148.1 95.3L148.1 95.6L148.2 95.8L148.2 96.1L148.3 96.3L148.4 96.6L148.4 96.8L148.5 97.0L148.5 97.3L148.6 97.5L148.7 97.8L148.7 98.0L148.8 98.3L148.8 98.5L148.9 98.7L149.0 99.0L149.0 99.2L149.1 99.5L149.1 99.7L149.2 100.0L149.2 100.2L149.3 100.5L149.4 100.7L149.4 100.9L149.5 101.2L149.5 101.4L149.6 101.7L149.6 101.9L149.7 102.2L149.7 102.4L149.8 102.7L149.8 102.9L149.9 103.1L150.0 103.4L150.0 103.6L150.1 103.9L150.1 104.1L150.2 104.4L150.2 104.6L150.3 104.9L150.3 105.1L150.4 105.3L150.4 105.6L150.5 105.8L150.5 106.1L150.6 106.3L150.6 106.6L150.7 106.8L150.7 107.1L150.8 107.3L150.8 107.5L150.9 107.8L150.9 108.0L151.0 108.3L151.0 108.5L151.1 108.8L151.1 109.0L151.2 109.3L151.2 109.5L151.3 109.8L151.3 110.0L151.4 110.3L151.4 110.5L151.5 110.7L151.5 111.0L151.6 111.2L151.6 111.5L151.6 111.7L151.7 112.0L151.7 112.2L151.8 112.5L151.8 112.7L151.9 113.0L151.9 113.2L152.0 113.4L152.0 113.7L152.1 113.9L152.1 114.2L152.1 114.4L152.2 114.7L152.2 114.9L152.3 115.2L152.3 115.4L152.4 115.7L152.4 115.9L152.5 116.2L152.5 116.4L152.5 116.7L152.6 116.9L152.6 117.1L152.7 117.4L152.7 117.6L152.8 117.9L152.8 118.1L152.8 118.4L152.9 118.6L152.9 118.9L153.0 119.1L153.0 119.4L153.1 119.6L153.1 119.9L153.1 120.1L153.2 120.4L153.2 120.6L153.3 120.8L153.3 121.1L153.3 121.3L153.4 121.6L153.4 121.8L153.5 122.1L153.5 122.3L153.5 122.6L153.6 122.8L153.6 123.1L153.7 123.3L153.7 123.6L153.7 123.8L153.8 124.1L153.8 124.3L153.9 124.6L153.9 124.8L153.9 125.1L154.0 125.3L154.0 125.5L154.0 125.8L154.1 126.0L154.1 126.3L154.2 126.5L154.2 126.8L154.2 127.0L154.3 127.3L154.3 127.5L154.4 127.8L154.4 128.0L154.4 128.3L154.5 128.5L154.5 128.8L154.5 129.0L154.6 129.3L154.6 129.5L154.7 129.8L154.7 130.0L154.7 130.2L154.8 130.5L154.8 130.7L154.8 131.0L154.9 131.2L154.9 131.5L155.0 131.7L155.0 132.0L155.0 132.2L155.1 132.5L155.1 132.7L155.1 133.0L155.2 133.2L155.2 133.5L155.2 133.7L155.3 134.0L155.3 134.2L155.4 134.5L155.4 134.7L155.4 135.0L155.5 135.2L155.5 135.5L155.5 135.7L155.6 135.9L155.6 136.2L155.6 136.4L155.7 136.7L155.7 136.9L155.7 137.2L155.8 137.4L155.8 137.7L155.9 137.9L155.9 138.2L155.9 138.4L156.0 138.7L156.0 138.9L156.0 139.2L156.1 139.4L156.1 139.7L156.1 139.9L156.2 140.2L156.2 140.4L156.2 140.7L156.3 140.9L156.3 141.2L156.3 141.4L156.4 141.6L156.4 141.9L156.5 142.1L156.5 142.4L156.5 142.6L156.6 142.9L156.6 143.1L156.6 143.4L156.7 143.6L156.7 143.9L156.7 144.1L156.8 144.4L156.8 144.6L156.8 144.9L156.9 145.1L156.9 145.4L157.0 145.6L157.0 145.9L157.0 146.1L157.1 146.4L157.1 146.6L157.1 146.9L157.2 147.1L157.2 147.3L157.2 147.6L157.3 147.8L157.3 148.1L157.3 148.3L157.4 148.6L157.4 148.8L157.5 149.1L157.5 149.3L157.5 149.6L157.6 149.8L157.6 150.1L157.6 150.3L157.7 150.6L157.7 150.8L157.7 151.1L157.8 151.3L157.8 151.6L157.9 151.8L157.9 152.1L157.9 152.3L158.0 152.6L158.0 152.8L158.0 153.0L158.1 153.3L158.1 153.5L158.1 153.8L158.2 154.0L158.2 154.3L158.3 154.5L158.3 154.8L158.3 155.0L158.4 155.3L158.4 155.5L158.4 155.8L158.5 156.0L158.5 156.3L158.6 156.5L158.6 156.8L158.6 157.0L158.7 157.3L158.7 157.5L158.8 157.7L158.8 158.0L158.8 158.2L158.9 158.5L158.9 158.7L159.0 159.0L159.0 159.2L159.0 159.5L159.1 159.7L159.1 160.0L159.1 160.2L159.2 160.5L159.2 160.7L159.3 161.0L159.3 161.2L159.3 161.5L159.4 161.7L159.4 162.0L159.5 162.2L159.5 162.4L159.5 162.7L159.6 162.9L159.6 163.2L159.7 163.4L159.7 163.7L159.8 163.9L159.8 164.2L159.8 164.4L159.9 164.7L159.9 164.9L160.0 165.2L160.0 165.4L160.1 165.7L160.1 165.9L160.1 166.1L160.2 166.4L160.2 166.6L160.3 166.9L160.3 167.1L160.4 167.4L160.4 167.6L160.4 167.9L160.5 168.1L160.5 168.4L160.6 168.6L160.6 168.9L160.7 169.1L160.7 169.4L160.8 169.6L160.8 169.8L160.8 170.1L160.9 170.3L160.9 170.6L161.0 170.8L161.0 171.1L161.1 171.3L161.1 171.6L161.2 171.8L161.2 172.1L161.3 172.3L161.3 172.6L161.4 172.8L161.4 173.0L161.4 173.3L161.5 173.5L161.5 173.8L161.6 174.0L161.6 174.3L161.7 174.5L161.7 174.8L161.8 175.0L161.8 175.3L161.9 175.5L161.9 175.7L162.0 176.0L162.0 176.2L162.1 176.5L162.1 176.7L162.2 177.0L162.2 177.2L162.3 177.5L162.3 177.7L162.4 178.0L162.4 178.2L162.5 178.4L162.5 178.7L162.6 178.9L162.6 179.2L162.7 179.4L162.7 179.7L162.8 179.9L162.8 180.2L162.9 180.4L162.9 180.7L163.0 180.9L163.0 181.1L163.1 181.4L163.1 181.6L163.2 181.9L163.2 182.1L163.3 182.4L163.4 182.6L163.4 182.9L163.5 183.1L163.5 183.3L163.6 183.6L163.7 183.8L163.7 184.1L163.8 184.3L163.8 184.6L163.9 184.8L164.0 185.0L164.0 185.3L164.1 185.5L164.1 185.8L164.2 186.0L164.2 186.3L164.3 186.5L164.4 186.7L164.4 187.0L164.5 187.2L164.5 187.5L164.6 187.7L164.6 188.0L164.7 188.2L164.7 188.5L164.8 188.7L164.9 189.0L164.9 189.2L165.0 189.4L165.0 189.7L165.1 189.9L165.1 190.2L165.2 190.4L165.3 190.7L165.3 190.9L165.4 191.2L165.4 191.4L165.5 191.6L165.6 191.9L165.6 192.1L165.7 192.4L165.7 192.6L165.8 192.8L165.9 193.1L165.9 193.3L166.0 193.6L166.1 193.8L166.1 194.0L166.2 194.3L166.3 194.5L166.4 194.8L166.4 195.0L166.5 195.2L166.6 195.5L166.7 195.7L166.8 196.0L166.8 196.2L166.9 196.4L167.0 196.7L167.1 196.9L167.2 197.2L167.3 197.4L167.4 197.6L167.4 197.9L167.5 198.1L167.6 198.3L167.7 198.6L167.8 198.8L167.9 199.0L168.1 199.2L168.2 199.5L168.3 199.7L168.4 199.9L168.5 200.1L168.6 200.3L168.7 200.5L168.9 200.7L169.0 201.0L169.1 201.2L169.3 201.4L169.4 201.6L169.6 201.8L169.7 202.0L169.9 202.3L170.0 202.5L170.2 202.7L170.4 202.9L170.5 203.1L170.7 203.3L170.9 203.5L171.0 203.6L171.2 203.8L171.4 204.0L171.6 204.2L171.7 204.3L171.9 204.5L172.1 204.7L172.3 204.8L172.5 204.9L172.7 205.1L172.9 205.2L173.1 205.3L173.3 205.5L173.5 205.6L173.7 205.7L173.9 205.8L174.1 206.0L174.4 206.1L174.6 206.2L174.8 206.3L175.1 206.4L175.3 206.5L175.5 206.6L175.8 206.7L176.0 206.8L176.3 206.9L176.5 207.0L176.8 207.1L177.0 207.1L177.2 207.2L177.5 207.3L177.7 207.4L178.0 207.4" stroke="#000" stroke-width="2.30" fill="none" stroke-linejoin="round"/><path d="M177.9 206.25L178.8 206.41L179.8 206.58L180.8 206.74L181.7 206.90L182.7 207.05L183.7 207.19L184.6 207.33L185.6 207.40L186.6 207.47L187.5 207.53L188.5 207.60L189.5 207.66L190.4 207.73L191.4 207.79L192.4 207.85L193.3 207.89L194.3 207.92L195.3 207.96L196.2 207.99L197.2 208.03L198.2 208.06L199.2 208.10L200.1 208.13L201.1 208.16L202.1 208.20L203.0 208.23L204.0 208.27L205.0 208.30L205.9 208.34L206.9 208.37L207.9 208.40L208.8 208.43L209.8 208.45L210.8 208.48L211.7 208.51L212.7 208.54L213.7 208.57L214.6 208.60L215.6 208.63L216.6 208.66L217.5 208.68L218.5 208.71L219.5 208.74L220.4 208.77L221.4 208.79L222.4 208.80L223.3 208.82L224.3 208.84L225.3 208.85L226.2 208.87L227.2 208.89L228.2 208.90L229.1 208.92L230.1 208.93L231.1 208.95L232.0 208.97L233.0 208.98L234.0 209.00L235.0 209.00L235.9 209.00L236.9 209.00L237.9 209.00L238.8 209.00L239.8 209.00L240.8 209.00L241.7 209.00L242.7 209.00L243.7 209.00L244.6 209.00L245.6 209.00L246.6 209.00L247.5 209.00L248.5 209.00L249.5 209.00L250.4 209.00L251.4 209.00L252.4 209.00L253.3 209.00L254.3 209.00L255.3 209.00L256.2 209.00L257.2 209.00L258.2 209.00L259.1 209.00L260.1 209.00L261.1 209.00L262.0 209.00L263.0 209.00L264.0 209.00L264.9 209.00L265.9 209.00L266.9 209.00L267.8 209.00L268.8 209.00L269.8 209.00L270.7 209.00L271.7 209.00L272.7 209.00L273.6 209.00L274.6 209.00L275.6 209.00L276.6 209.00L277.5 209.00L278.5 209.00L279.5 209.00L280.4 209.00L281.4 209.00L282.4 209.00L283.3 209.00L284.3 209.00L285.3 209.00L286.2 209.00L287.2 209.00L288.2 209.00L289.1 209.00L290.1 209.00L291.1 209.00L292.0 209.00L293.0 209.00L293.0 210.86L292.0 210.86L291.1 210.86L290.1 210.86L289.1 210.86L288.2 210.86L287.2 210.86L286.2 210.86L285.3 210.86L284.3 210.86L283.3 210.86L282.4 210.86L281.4 210.86L280.4 210.86L279.5 210.86L278.5 210.86L277.5 210.86L276.6 210.86L275.6 210.86L274.6 210.86L273.6 210.86L272.7 210.86L271.7 210.86L270.7 210.86L269.8 210.86L268.8 210.86L267.8 210.86L266.9 210.86L265.9 210.86L264.9 210.86L264.0 210.86L263.0 210.86L262.0 210.86L261.1 210.86L260.1 210.86L259.1 210.86L258.2 210.86L257.2 210.86L256.2 210.86L255.3 210.86L254.3 210.86L253.3 210.86L252.4 210.86L251.4 210.86L250.4 210.86L249.5 210.86L248.5 210.86L247.5 210.86L246.6 210.86L245.6 210.86L244.6 210.86L243.7 210.86L242.7 210.86L241.7 210.86L240.8 210.86L239.8 210.86L238.8 210.86L237.9 210.86L236.9 210.86L235.9 210.86L235.0 210.86L234.0 210.85L233.0 210.85L232.0 210.85L231.1 210.85L230.1 210.85L229.1 210.84L228.2 210.84L227.2 210.84L226.2 210.84L225.3 210.84L224.3 210.83L223.3 210.83L222.4 210.83L221.4 210.83L220.4 210.82L219.5 210.82L218.5 210.81L217.5 210.81L216.6 210.80L215.6 210.80L214.6 210.79L213.7 210.79L212.7 210.78L211.7 210.78L210.8 210.77L209.8 210.77L208.8 210.76L207.9 210.76L206.9 210.75L205.9 210.74L205.0 210.73L204.0 210.72L203.0 210.70L202.1 210.69L201.1 210.68L200.1 210.66L199.2 210.65L198.2 210.63L197.2 210.62L196.2 210.61L195.3 210.59L194.3 210.58L193.3 210.57L192.4 210.55L191.4 210.47L190.4 210.38L189.5 210.29L188.5 210.20L187.5 210.11L186.6 210.02L185.6 209.93L184.6 209.82L183.7 209.64L182.7 209.47L181.7 209.29L180.8 209.10L179.8 208.92L178.8 208.73L177.9 208.55Z" fill="#000"/>
<path d="M88.9 20.4V37" stroke="#000" stroke-width="2.8" stroke-linecap="round"/>
<circle cx="88.0" cy="28.9" r="0.8" fill="#f00"/><circle cx="89.1" cy="25.8" r="0.7" fill="#f00"/>
</g>
<g clip-path="url(#cb)">
<path d="M369.4 40.1L370.2 40.1L371.0 40.2L371.8 40.3L372.7 40.4L373.5 40.5L374.3 40.6L375.1 40.7L375.9 40.8L376.7 40.8L377.5 40.9L378.4 41.0L379.2 41.1L380.0 41.2L380.8 41.3L381.6 41.4L382.4 41.5L383.2 41.6L384.0 41.7L384.9 41.8L385.7 41.9L386.5 42.0L387.3 42.1L388.1 42.2L388.9 42.3L389.7 42.4L390.6 42.5L391.4 42.6L392.2 42.7L393.0 42.8L393.8 43.0L394.6 43.1L395.4 43.2L396.3 43.3L397.1 43.4L397.9 43.5L398.7 43.6L399.5 43.8L400.3 43.9L401.1 44.0L402.0 44.1L402.8 44.2L403.6 44.4L404.4 44.5L405.2 44.6L406.0 44.7L406.8 44.9L407.6 45.0L408.5 45.1L409.3 45.3L410.1 45.4L410.9 45.5L411.7 45.7L412.5 45.8L413.3 46.0L414.2 46.1L415.0 46.2L415.8 46.4L416.6 46.5L417.4 46.7L418.2 46.8L419.0 47.0L419.9 47.1L420.7 47.3L421.5 47.5L422.3 47.6L423.1 47.8L423.9 47.9L424.7 48.1L425.6 48.3L426.4 48.4L427.2 48.6L428.0 48.8L428.8 49.0L429.6 49.1L430.4 49.3L431.3 49.5L432.1 49.7L432.9 49.9L433.7 50.1L434.5 50.3L435.3 50.4L436.1 50.6L436.9 50.8L437.8 51.0L438.6 51.2L439.4 51.5L440.2 51.7L441.0 51.9L441.8 52.1L442.6 52.3L443.5 52.5L444.3 52.8L445.1 53.0L445.9 53.2L446.7 53.4L447.5 53.7L448.3 53.9L449.2 54.2L450.0 54.4L450.8 54.7L451.6 54.9L452.4 55.2L453.2 55.5L454.0 55.7L454.9 56.0L455.7 56.3L456.5 56.5L457.3 56.8L458.1 57.1L458.9 57.4L459.7 57.7L460.5 58.0L461.4 58.3L462.2 58.6L463.0 59.0L463.8 59.3L464.6 59.6L465.4 59.9L466.2 60.3L467.1 60.6L467.9 61.0L468.7 61.3L469.5 61.7L470.3 62.1L471.1 62.5L471.9 62.8L472.8 63.2L473.6 63.6L474.4 64.0L475.2 64.5L476.0 64.9L476.8 65.3L477.6 65.8L478.5 66.2L479.3 66.7L480.1 67.1L480.9 67.6L481.7 68.1L482.5 68.6L483.3 69.1L484.1 69.6L485.0 70.2L485.8 70.7L486.6 71.3L487.4 71.8L488.2 72.4L489.0 73.0L489.8 73.6L490.7 74.3L491.5 74.9L492.3 75.6L493.1 76.2L493.9 76.9L494.7 77.6L495.5 78.4L496.4 79.1L497.2 79.9L498.0 80.7L498.8 81.5L499.6 82.3L500.4 83.1L501.2 84.0L502.1 84.9L502.9 85.9L503.7 86.8L504.5 87.8L505.3 88.8L506.1 89.9L506.9 91.0L507.7 92.1L508.6 93.3L509.4 94.5L510.2 95.8L511.0 97.1L511.8 98.4L512.6 99.8L513.4 101.3L514.3 102.8L515.1 104.4L515.9 106.1L516.7 107.8L517.5 109.6L518.3 111.5L519.1 113.5L520.0 115.6L520.8 117.8L521.6 120.1L522.4 122.6L523.2 125.2L524.0 128.0L524.8 131.0L525.7 134.3L526.5 137.7L527.3 141.5L528.1 145.7L528.9 150.3L529.7 155.5L530.5 161.5L531.4 168.5L531.4 168.5L531.6 171.5L531.9 174.3L532.1 176.9L532.3 179.3L532.5 181.6L532.6 183.7L532.7 185.6L532.8 187.4L532.9 189.1L533.0 190.6L533.0 192.1L533.1 193.4L533.1 194.6L533.2 195.8L533.2 196.9L533.2 197.8L533.3 198.7L533.3 199.6L533.3 200.4L533.3 201.1L533.3 201.8L533.3 202.4L533.3 202.9L533.4 203.5L533.4 204.0L533.4 204.4L533.4 204.8L533.4 205.2L533.4 205.6L533.4 205.9L533.4 206.2L533.4 206.5L533.4 206.8L533.4 207.0L533.4 207.2L533.4 207.4L533.4 207.6L533.4 207.8L533.4 208.0L533.4 208.1L533.4 208.3L533.4 208.4L533.4 208.5L533.4 208.6L533.4 208.7L533.4 208.8L533.4 208.9L533.4 209.0L533.4 209.1L533.4 209.1L533.4 209.2L533.4 209.3L533.4 209.3L533.4 209.4L533.4 209.4L533.4 209.5L533.4 209.5L533.4 209.5L533.4 209.6L533.4 210.0" stroke="#000" stroke-width="1.15" fill="none"/>
<path d="M369.4 20.5h0M373.3 31.7h0M377.2 32.0h0M381.1 33.5h0M385.0 35.7h0M388.9 37.5h0M392.8 38.3h0M396.7 39.0h0M400.6 39.8h0M404.5 40.6h0M408.5 41.5h0M412.4 42.4h0M416.3 43.3h0M420.2 44.2h0M424.1 45.1h0M428.0 46.0h0M431.9 47.0h0M435.8 47.9h0M439.7 48.9h0M443.6 50.8h0M447.5 51.5h0M451.4 53.5h0M455.3 54.0h0M459.2 55.5h0M463.1 56.0h0M467.0 56.5h0M470.9 58.0h0M474.8 60.5h0M478.7 61.8h0M482.7 62.6h0M486.6 63.0h0M490.5 66.4h0M494.4 66.9h0M498.3 67.2h0M502.2 70.2h0M506.1 72.1h0M510.0 74.9h0M513.9 76.9h0M517.8 87.5h0M521.7 88.0h0M525.6 95.8h0M529.5 98.0h0M533.4 106.0h0M537.3 110.0h0M541.2 111.5h0M545.1 114.0h0M549.0 137.9h0M552.9 138.5h0M556.9 146.0h0M560.8 166.0h0M564.7 174.4h0M568.6 176.2h0M572.5 186.0h0M576.4 199.0h0M580.3 201.0h0M584.2 206.5h0M588.1 208.5h0M592.0 209.4h0" stroke="#00f" stroke-width="2.10" fill="none" stroke-linecap="round"/><path d="M595.9 209.8h0M599.8 209.8h0M603.7 209.8h0M607.6 209.9h0M611.5 209.9h0M615.4 209.9h0" stroke="#00f" stroke-width="2.10" fill="none" stroke-linecap="round"/>
<path d="M369.4 20.5h0M371.6 36.3h0M373.7 36.6h0M375.9 37.0h0M378.1 37.4h0M380.3 37.8h0M382.4 38.1h0M384.6 38.5h0M386.8 38.7h0M388.9 38.9h0M391.1 39.1h0M393.3 39.3h0M395.4 39.5h0M397.6 39.8h0M399.8 40.0h0M402.0 40.1h0M404.1 40.3h0M406.3 40.5h0M408.5 40.9h0M410.6 41.4h0M412.8 41.7h0M415.0 41.9h0M417.1 42.3h0M419.3 42.5h0M421.5 42.8h0M423.7 43.2h0M425.8 43.6h0M428.0 44.1h0M430.2 44.4h0M432.3 44.8h0M434.5 45.2h0M436.7 45.6h0M438.9 46.0h0M441.0 46.3h0M443.2 46.6h0M445.4 46.8h0M447.5 47.1h0M449.7 47.4h0M451.9 47.7h0M454.0 48.0h0M456.2 48.4h0M458.4 48.9h0M460.6 49.2h0M462.7 49.7h0M464.9 50.0h0M467.1 50.5h0M469.2 51.0h0M471.4 51.6h0M473.6 53.2h0M475.8 55.3h0M477.9 57.1h0M480.1 58.7h0M482.3 59.3h0M484.4 60.0h0M486.6 60.6h0M488.8 61.2h0M490.9 61.9h0M493.1 62.5h0M495.3 63.4h0M497.5 64.2h0M499.6 65.0h0M501.8 65.8h0M504.0 68.9h0M506.1 72.1h0M508.3 75.1h0M510.5 76.3h0M512.6 77.2h0M514.8 78.1h0M517.0 78.8h0M519.2 79.6h0M521.3 83.0h0M523.5 86.0h0M525.7 89.7h0M527.8 91.3h0M530.0 92.7h0M532.2 96.2h0M534.4 98.6h0M536.5 101.9h0M538.7 107.0h0M540.9 112.2h0M543.0 117.8h0M545.2 124.9h0M547.4 131.1h0M549.5 132.8h0M551.7 135.8h0M553.9 138.9h0M556.1 147.8h0M558.2 149.9h0M560.4 152.6h0M562.6 155.5h0M564.7 157.7h0M566.9 171.5h0M569.1 180.8h0M571.3 184.8h0M573.4 192.1h0M575.6 195.2h0M577.8 197.8h0M579.9 200.9h0M582.1 201.8h0M584.3 203.7h0M586.4 204.9h0M588.6 205.9h0M590.8 206.5h0M593.0 207.1h0M595.1 207.6h0M597.3 208.0h0M599.5 208.3h0M601.6 208.7h0M603.8 208.9h0M606.0 209.1h0M608.1 209.2h0M610.3 209.3h0M612.5 209.4h0M614.7 209.6h0M616.8 209.7h0M619.0 209.7h0" stroke="#f00" stroke-width="2.10" fill="none" stroke-linecap="round"/><path d="M621.2 209.8h0M623.3 209.9h0M625.5 209.9h0M627.7 209.9h0M629.9 209.9h0M632.0 209.9h0M634.2 209.9h0M636.4 209.9h0M638.5 209.9h0M640.7 209.9h0M642.9 209.9h0M645.0 209.9h0" stroke="#f00" stroke-width="2.10" fill="none" stroke-linecap="round"/>
<path d="M369.4 20.5h0M370.6 32.5h0M371.8 34.0h0M373.0 34.1h0M374.2 34.9h0M375.4 35.0h0M376.6 35.4h0M377.8 35.5h0M379.0 35.8h0M380.2 35.9h0M381.4 36.3h0M382.6 36.3h0M383.8 36.8h0M385.0 36.9h0M386.2 37.2h0M387.4 37.3h0M388.6 37.7h0M389.8 37.7h0M391.0 38.0h0M392.2 38.1h0M393.4 38.4h0M394.6 38.5h0M395.8 38.9h0M397.0 38.9h0M398.2 39.2h0M399.4 39.3h0M400.6 39.6h0M401.8 39.7h0M403.0 39.9h0M404.2 40.0h0M405.4 40.3h0M406.6 40.4h0M407.8 40.6h0M409.0 40.6h0M410.2 41.1h0M411.4 41.1h0M412.6 41.4h0M413.8 41.4h0M415.0 41.8h0M416.2 41.9h0M417.4 42.3h0M418.6 42.3h0M419.8 42.7h0M421.0 42.8h0M422.2 43.1h0M423.4 43.1h0M424.6 43.7h0M425.8 43.7h0M427.0 44.1h0M428.2 44.2h0M429.4 44.6h0M430.6 44.7h0M431.8 45.1h0M433.0 45.2h0M434.2 45.7h0M435.4 45.7h0M436.6 46.0h0M437.8 46.1h0M438.9 46.7h0M440.1 46.8h0M441.3 47.5h0M442.5 47.6h0M443.6 48.3h0M444.8 48.4h0M446.0 49.1h0M447.2 49.1h0M448.3 49.7h0M449.5 49.8h0M450.7 50.2h0M451.9 50.3h0M453.1 50.6h0M454.2 50.7h0M455.4 51.2h0M456.6 51.3h0M457.7 51.7h0M458.9 51.8h0M460.1 52.2h0M461.3 52.3h0M462.4 52.9h0M463.6 53.0h0M464.8 53.4h0M465.9 53.5h0M467.1 54.2h0M468.3 54.3h0M469.4 54.7h0M470.6 54.8h0M471.7 55.4h0M472.9 55.5h0M474.1 56.1h0M475.2 56.2h0M476.4 56.6h0M477.6 56.7h0M478.7 57.3h0M479.9 57.4h0M481.0 58.1h0M482.2 58.2h0M483.4 58.9h0M484.6 59.0h0M485.8 59.7h0M486.9 59.8h0M488.1 60.5h0M489.3 60.6h0M490.5 61.0h0M491.7 61.2h0M492.9 61.9h0M494.1 62.1h0M495.2 62.6h0M496.4 62.7h0M497.6 63.3h0M498.8 63.4h0M500.0 63.9h0M501.2 64.0h0M502.4 64.7h0M503.6 64.8h0M504.7 65.2h0M505.9 65.3h0M507.1 65.9h0M508.3 66.0h0M509.5 67.0h0M510.7 67.2h0M511.9 68.4h0M513.1 68.6h0M514.2 69.7h0M515.4 69.9h0M516.6 71.2h0M517.8 71.4h0M519.0 73.0h0M520.2 73.3h0M521.4 74.3h0M522.6 74.5h0M523.7 76.0h0M524.9 76.2h0M526.1 77.1h0M527.3 77.4h0M528.5 81.9h0M529.7 82.5h0M530.9 85.2h0M532.1 85.9h0M533.3 93.0h0M534.6 94.6h0M536.5 103.7h0M537.8 105.0h0M539.2 108.9h0M540.5 109.2h0M541.8 111.3h0M543.1 112.1h0M544.5 116.0h0M545.7 116.7h0M546.9 119.3h0M548.1 119.8h0M549.3 122.0h0M550.5 122.6h0M551.7 126.3h0M552.9 126.8h0M554.1 129.2h0M555.3 129.7h0M556.5 133.3h0M557.7 133.8h0M558.9 136.7h0M560.1 137.6h0M561.3 147.1h0M562.5 148.5h0M563.7 154.3h0M564.9 155.4h0M566.1 164.0h0M567.3 166.7h0M568.5 176.8h0M569.7 178.1h0M570.9 183.7h0M572.1 184.2h0M573.3 187.5h0M574.5 188.0h0M575.7 190.9h0M576.9 191.5h0M578.1 194.4h0M579.3 195.0h0M580.5 199.2h0M581.7 199.6h0M582.9 201.3h0M584.1 201.6h0M585.3 203.0h0M586.5 203.2h0M587.7 204.9h0M588.9 205.1h0M590.1 206.2h0M591.3 206.4h0M592.5 207.1h0M593.7 207.3h0M594.9 208.2h0M596.1 208.3h0M597.3 208.8h0M598.5 208.9h0M599.7 209.3h0M600.9 209.4h0M602.1 209.5h0M603.3 209.5h0M604.5 209.7h0M605.7 209.7h0" stroke="#000" stroke-width="2.10" fill="none" stroke-linecap="round"/><path d="M606.9 209.9h0M608.1 209.9h0M609.2 209.9h0M610.4 209.9h0M611.6 209.9h0M612.8 209.9h0M614.0 209.9h0M615.2 209.9h0M616.4 209.9h0M617.6 209.9h0M618.8 209.9h0M620.0 209.9h0M621.2 209.9h0M622.4 209.9h0M623.6 209.9h0M624.8 209.9h0M626.0 209.9h0M627.2 209.9h0M628.4 209.9h0M629.6 209.9h0M630.8 209.9h0M632.0 209.9h0M633.2 209.9h0M634.4 209.9h0M635.6 209.9h0M636.8 209.9h0M638.0 209.9h0M639.2 209.9h0M640.4 209.9h0M641.6 209.9h0M642.8 209.9h0M644.0 209.9h0M645.2 209.9h0M646.4 209.9h0M647.6 209.9h0M648.8 209.9h0M650.0 209.9h0M651.2 209.9h0M652.4 209.9h0M653.6 209.9h0M654.8 209.9h0M656.0 209.9h0M657.2 209.9h0M658.4 209.9h0M659.6 209.9h0M660.8 209.9h0M662.0 209.9h0M663.2 209.9h0M664.4 209.9h0M665.6 209.9h0M666.8 209.9h0M668.0 209.9h0M669.2 209.9h0M670.4 209.9h0M671.6 209.9h0M672.8 209.9h0M674.0 209.9h0M675.2 209.9h0" stroke="#000" stroke-width="1.80" fill="none" stroke-linecap="round"/>
<path d="M369.4 20.5h0M370.1 35.6h0M370.7 35.6h0M371.4 35.7h0M372.1 35.9h0M372.8 35.9h0M373.4 36.1h0M374.1 36.2h0M374.8 36.5h0M375.5 36.6h0M376.1 36.7h0M376.8 36.8h0M377.5 37.0h0M378.1 37.1h0M378.8 37.3h0M379.5 37.3h0M380.2 37.6h0M380.8 37.6h0M381.5 37.9h0M382.2 38.0h0M382.9 38.1h0M383.5 38.1h0M384.2 38.3h0M384.9 38.4h0M385.5 38.6h0M386.2 38.7h0M386.9 38.8h0M387.6 38.9h0M388.2 39.0h0M388.9 39.1h0M389.6 39.3h0M390.3 39.3h0M390.9 39.5h0M391.6 39.6h0M392.3 39.7h0M392.9 39.7h0M393.6 39.9h0M394.3 39.9h0M395.0 40.0h0M395.6 40.0h0M396.3 40.2h0M397.0 40.3h0M397.7 40.4h0M398.3 40.4h0M399.0 40.6h0M399.7 40.6h0M400.3 40.7h0M401.0 40.8h0M401.7 40.9h0M402.4 40.9h0M403.0 41.1h0M403.7 41.1h0M404.4 41.3h0M405.1 41.4h0M405.7 41.6h0M406.4 41.6h0M407.1 41.8h0M407.7 41.8h0M408.4 42.0h0M409.1 42.0h0M409.8 42.2h0M410.4 42.2h0M411.1 42.4h0M411.8 42.5h0M412.4 42.6h0M413.1 42.7h0M413.8 42.7h0M414.5 42.7h0M415.1 42.9h0M415.8 42.9h0M416.5 43.1h0M417.2 43.1h0M417.8 43.2h0M418.5 43.2h0M419.2 43.4h0M419.8 43.4h0M420.5 43.6h0M421.2 43.6h0M421.9 43.8h0M422.5 43.8h0M423.2 44.0h0M423.9 44.0h0M424.6 44.2h0M425.2 44.2h0M425.9 44.4h0M426.6 44.5h0M427.3 44.7h0M427.9 44.8h0M428.6 45.0h0M429.3 45.1h0M430.0 45.4h0M430.7 45.5h0M431.4 45.7h0M432.1 45.8h0M432.8 46.0h0M433.5 46.1h0M434.2 46.3h0M434.9 46.3h0M435.6 46.5h0M436.3 46.5h0M437.0 46.7h0M437.6 46.8h0M438.3 46.9h0M439.0 46.9h0M439.7 47.2h0M440.4 47.2h0M441.1 47.4h0M441.8 47.4h0M442.5 47.6h0M443.2 47.6h0M443.9 47.8h0M444.6 47.8h0M445.3 48.0h0M445.9 48.1h0M446.7 48.2h0M447.3 48.3h0M448.1 48.6h0M448.8 48.6h0M449.5 48.9h0M450.2 49.0h0M450.9 49.1h0M451.6 49.2h0M452.3 49.4h0M453.0 49.4h0M453.7 49.8h0M454.4 49.9h0M455.1 50.2h0M455.8 50.3h0M456.5 50.4h0M457.2 50.5h0M458.0 50.9h0M458.7 51.0h0M459.4 51.3h0M460.1 51.4h0M460.9 51.7h0M461.6 51.8h0M462.3 51.9h0M463.0 52.0h0M463.7 52.3h0M464.4 52.3h0M465.1 52.7h0M465.8 52.7h0M466.4 52.8h0M467.1 52.8h0M467.8 53.0h0M468.5 53.0h0M469.2 53.4h0M469.9 53.4h0M470.5 53.6h0M471.2 53.6h0M471.9 54.0h0M472.6 54.0h0M473.3 54.2h0M474.0 54.3h0M474.6 54.8h0M475.3 54.9h0M476.0 55.1h0M476.7 55.1h0M477.4 55.7h0M478.1 55.7h0M478.7 56.0h0M479.4 56.1h0M480.1 56.6h0M480.8 56.7h0M481.5 57.1h0M482.2 57.2h0M482.8 57.7h0M483.5 57.9h0M484.2 58.4h0M484.9 58.5h0M485.6 59.1h0M486.3 59.3h0M486.9 59.7h0M487.6 59.8h0M488.3 60.1h0M489.0 60.2h0M489.7 60.9h0M490.4 61.0h0M491.0 61.4h0M491.7 61.4h0M492.4 61.8h0M493.1 61.8h0M493.8 62.0h0M494.5 62.0h0M495.1 62.3h0M495.8 62.4h0M496.5 62.7h0M497.2 62.7h0M497.9 63.0h0M498.6 63.1h0M499.2 63.5h0M499.9 63.5h0M500.5 64.1h0M501.2 64.2h0M501.8 64.6h0M502.5 64.7h0M503.0 65.2h0M503.7 65.3h0M504.2 66.0h0M504.9 66.1h0M505.5 66.5h0M506.1 66.5h0M506.7 66.9h0M507.4 67.0h0M507.9 67.7h0M508.6 67.8h0M509.1 68.2h0M509.8 68.3h0M510.3 69.1h0M510.9 69.3h0M511.4 69.9h0M512.1 70.1h0M512.5 71.0h0M513.1 71.3h0M513.6 72.2h0M514.2 72.5h0M514.7 73.3h0M515.4 73.6h0M516.0 74.3h0M516.7 74.5h0M517.4 75.4h0M518.1 75.5h0M518.7 76.2h0M519.4 76.3h0M520.1 76.6h0M520.7 76.7h0M521.4 77.3h0M522.1 77.4h0M522.8 78.0h0M523.4 78.1h0M524.1 79.1h0M524.8 79.2h0M525.5 80.0h0M526.1 80.1h0M526.8 80.7h0M527.5 80.8h0M528.1 82.4h0M528.8 82.6h0M529.5 83.1h0M530.2 83.3h0M530.8 84.6h0M531.5 84.7h0M532.2 85.9h0M532.9 86.0h0M533.5 87.5h0M534.2 87.6h0M534.9 88.1h0M535.5 88.2h0M536.2 89.7h0M536.9 89.8h0M537.6 91.3h0M538.2 91.4h0M538.9 92.2h0M539.6 92.3h0M540.3 94.0h0M540.9 94.1h0M541.6 96.1h0M542.3 96.3h0M542.9 98.7h0M543.6 98.9h0M544.3 100.8h0M545.0 101.2h0M545.6 103.5h0M546.3 103.9h0M547.0 106.1h0M547.7 106.5h0M548.3 108.5h0M549.0 109.0h0M549.7 111.3h0M550.3 111.9h0M551.0 114.1h0M551.7 114.8h0M552.3 117.4h0M553.0 118.2h0M553.6 120.3h0M554.3 121.0h0M554.9 123.6h0M555.6 124.3h0M556.2 128.0h0M556.9 128.6h0M557.5 130.2h0M558.2 130.6h0M558.8 134.5h0M559.5 134.7h0M560.1 136.6h0M560.8 136.8h0M561.4 138.8h0M562.1 139.0h0M562.7 142.7h0M563.4 143.0h0M564.0 144.3h0M564.7 144.8h0M565.3 148.3h0M566.0 148.9h0M566.6 151.0h0M567.3 151.7h0M568.0 156.6h0M568.7 157.3h0M569.4 159.7h0M570.0 160.3h0M570.8 163.6h0M571.5 163.9h0M572.2 165.5h0M572.8 165.6h0M573.6 168.8h0M574.2 168.8h0M574.9 170.7h0M575.6 170.7h0M576.3 172.7h0M577.0 172.8h0M577.7 175.4h0M578.4 175.7h0M579.1 177.1h0M579.8 177.6h0M580.5 180.1h0M581.2 180.8h0M581.9 183.3h0M582.6 183.9h0M583.4 187.5h0M584.3 188.8h0M585.6 192.4h0M586.6 193.8h0M588.2 198.6h0M588.9 199.7h0M589.7 202.1h0M590.4 203.0h0M591.1 205.3h0M591.8 205.6h0M592.6 206.7h0M593.2 206.9h0M593.9 207.2h0M594.6 207.3h0M595.3 207.7h0M596.0 207.7h0M596.7 207.8h0M597.4 207.8h0M598.0 208.0h0M598.7 208.1h0M599.4 208.2h0M600.1 208.2h0M600.8 208.3h0M601.5 208.3h0M602.1 208.5h0M602.8 208.5h0M603.5 208.7h0M604.2 208.8h0M604.9 209.0h0M605.6 209.1h0M606.3 209.2h0M606.9 209.2h0M607.6 209.3h0M608.3 209.4h0M609.0 209.4h0M609.7 209.4h0M610.4 209.5h0M611.0 209.5h0M611.7 209.6h0M612.4 209.6h0M613.1 209.7h0M613.8 209.7h0" stroke="#0ff" stroke-width="2.10" fill="none" stroke-linecap="round"/><path d="M614.5 209.8h0M615.1 209.8h0M615.8 209.8h0M616.5 209.8h0M617.2 209.8h0M617.9 209.9h0M618.5 209.9h0M619.2 209.9h0M619.9 209.9h0M620.6 209.9h0M621.3 209.9h0M621.9 209.9h0M622.6 209.9h0M623.3 209.9h0M624.0 209.9h0M624.7 209.9h0M625.4 209.9h0M626.0 209.9h0M626.7 209.9h0M627.4 209.9h0M628.1 209.9h0M628.8 209.9h0M629.4 209.9h0M630.1 209.9h0M630.8 209.9h0M631.5 209.9h0M632.2 209.9h0M632.8 209.9h0M633.5 209.9h0M634.2 209.9h0M634.9 209.9h0M635.6 209.9h0M636.2 209.9h0M636.9 209.9h0M637.6 209.9h0M638.3 209.9h0M639.0 209.9h0M639.6 209.9h0M640.3 209.9h0M641.0 209.9h0M641.7 209.9h0M642.4 209.9h0M643.0 209.9h0M643.7 209.9h0M644.4 209.9h0M645.1 209.9h0M645.8 209.9h0M646.5 209.9h0M647.1 209.9h0M647.8 209.9h0M648.5 209.9h0M649.2 209.9h0M649.9 209.9h0M650.5 209.9h0M651.2 209.9h0M651.9 209.9h0M652.6 209.9h0M653.3 209.9h0M653.9 209.9h0M654.6 209.9h0M655.3 209.9h0M656.0 209.9h0M656.7 209.9h0M657.3 209.9h0M658.0 209.9h0M658.7 209.9h0M659.4 209.9h0M660.1 209.9h0M660.7 209.9h0M661.4 209.9h0M662.1 209.9h0M662.8 209.9h0M663.5 209.9h0M664.2 209.9h0M664.8 209.9h0M665.5 209.9h0M666.2 209.9h0M666.9 209.9h0M667.6 209.9h0M668.2 209.9h0M668.9 209.9h0M669.6 209.9h0M670.3 209.9h0M671.0 209.9h0M671.6 209.9h0M672.3 209.9h0M673.0 209.9h0M673.7 209.9h0M674.4 209.9h0M675.0 209.9h0M675.7 209.9h0M676.4 209.9h0M677.1 209.9h0M677.8 209.9h0M678.4 209.9h0M679.1 209.9h0M679.8 209.9h0M680.5 209.9h0M681.2 209.9h0M681.9 209.9h0M682.5 209.9h0M683.2 209.9h0M683.9 209.9h0M684.6 209.9h0M685.3 209.9h0M685.9 209.9h0M686.6 209.9h0M687.3 209.9h0M688.0 209.9h0M688.7 209.9h0M689.3 209.9h0M690.0 209.9h0M690.7 209.9h0M691.4 209.9h0M692.1 209.9h0M692.7 209.9h0M693.4 209.9h0M694.1 209.9h0M694.8 209.9h0M695.5 209.9h0M696.1 209.9h0M696.8 209.9h0M697.5 209.9h0M698.2 209.9h0M698.9 209.9h0M699.5 209.9h0M700.2 209.9h0M700.9 209.9h0M701.6 209.9h0M702.3 209.9h0M703.0 209.9h0M703.6 209.9h0M704.3 209.9h0M705.0 209.9h0M705.7 209.9h0M706.4 209.9h0M707.0 209.9h0M707.7 209.9h0M708.4 209.9h0M709.1 209.9h0M709.8 209.9h0M710.4 209.9h0M711.1 209.9h0M711.8 209.9h0M712.5 209.9h0M713.2 209.9h0M713.8 209.9h0M714.5 209.9h0M715.2 209.9h0M715.9 209.9h0M716.6 209.9h0M717.2 209.9h0" stroke="#0ff" stroke-width="1.80" fill="none" stroke-linecap="round"/>
<path d="M369.4 20.5h0M369.8 35.5h0M370.1 35.5h0M370.5 35.5h0M370.9 35.5h0M371.3 35.6h0M371.6 35.7h0M372.0 35.7h0M372.4 36.1h0M372.8 36.2h0M373.1 36.3h0M373.5 36.3h0M373.9 36.6h0M374.3 36.6h0M374.6 36.8h0M375.0 36.9h0M375.4 37.1h0M375.7 37.2h0M376.1 37.4h0M376.5 37.4h0M376.9 37.6h0M377.2 37.6h0M377.6 37.6h0M378.0 37.7h0M378.4 37.9h0M378.7 37.9h0M379.1 37.9h0M379.5 38.0h0M379.9 38.2h0M380.2 38.2h0M380.6 38.4h0M381.0 38.4h0M381.4 38.4h0M381.7 38.4h0M382.1 38.6h0M382.5 38.6h0M382.8 38.7h0M383.2 38.7h0M383.6 38.8h0M384.0 38.8h0M384.3 38.9h0M384.7 38.9h0M385.1 39.0h0M385.5 39.0h0M385.8 39.1h0M386.2 39.1h0M386.6 39.1h0M387.0 39.1h0M387.3 39.2h0M387.7 39.2h0M388.1 39.4h0M388.4 39.4h0M388.8 39.4h0M389.2 39.4h0M389.6 39.5h0M389.9 39.5h0M390.3 39.6h0M390.7 39.6h0M391.1 39.7h0M391.4 39.7h0M391.8 39.8h0M392.2 39.8h0M392.6 39.9h0M392.9 39.9h0M393.3 40.0h0M393.7 40.0h0M394.0 40.0h0M394.4 40.0h0M394.8 40.1h0M395.2 40.1h0M395.5 40.3h0M395.9 40.3h0M396.3 40.3h0M396.7 40.3h0M397.0 40.4h0M397.4 40.4h0M397.8 40.4h0M398.2 40.4h0M398.5 40.6h0M398.9 40.7h0M399.3 40.7h0M399.7 40.7h0M400.0 40.9h0M400.4 40.9h0M400.8 41.0h0M401.1 41.0h0M401.5 41.1h0M401.9 41.1h0M402.3 41.1h0M402.6 41.2h0M403.0 41.4h0M403.4 41.4h0M403.8 41.4h0M404.1 41.4h0M404.5 41.6h0M404.9 41.6h0M405.3 41.7h0M405.6 41.7h0M406.0 41.8h0M406.4 41.9h0M406.7 42.0h0M407.1 42.0h0M407.5 42.1h0M407.9 42.1h0M408.2 42.1h0M408.6 42.1h0M409.0 42.2h0M409.4 42.2h0M409.7 42.3h0M410.1 42.3h0M410.5 42.5h0M410.9 42.5h0M411.2 42.5h0M411.6 42.5h0M412.0 42.6h0M412.4 42.6h0M412.7 42.8h0M413.1 42.8h0M413.5 42.8h0M413.8 42.9h0M414.2 42.9h0M414.6 42.9h0M415.0 43.0h0M415.3 43.0h0M415.7 43.2h0M416.1 43.2h0M416.5 43.3h0M416.8 43.4h0M417.2 43.4h0M417.6 43.4h0M418.0 43.5h0M418.3 43.5h0M418.7 43.6h0M419.1 43.7h0M419.4 43.8h0M419.8 43.8h0M420.2 43.9h0M420.6 44.0h0M420.9 44.1h0M421.3 44.1h0M421.7 44.2h0M422.1 44.3h0M422.4 44.3h0M422.8 44.3h0M423.2 44.4h0M423.6 44.4h0M423.9 44.6h0M424.3 44.6h0M424.7 44.7h0M425.0 44.7h0M425.4 44.8h0M425.8 44.8h0M426.2 44.9h0M426.5 44.9h0M426.9 45.1h0M427.3 45.1h0M427.7 45.1h0M428.0 45.1h0M428.4 45.3h0M428.8 45.3h0M429.2 45.3h0M429.5 45.3h0M429.9 45.4h0M430.3 45.4h0M430.7 45.6h0M431.0 45.6h0M431.4 45.6h0M431.8 45.6h0M432.1 45.8h0M432.5 45.8h0M432.9 45.9h0M433.3 45.9h0M433.6 45.9h0M434.0 46.0h0M434.4 46.0h0M434.8 46.0h0M435.1 46.2h0M435.5 46.2h0M435.9 46.2h0M436.3 46.2h0M436.6 46.5h0M437.0 46.5h0M437.4 46.6h0M437.7 46.7h0M438.1 46.7h0M438.5 46.7h0M438.9 46.8h0M439.2 46.9h0M439.6 47.1h0M440.0 47.2h0M440.4 47.3h0M440.7 47.3h0M441.1 47.4h0M441.5 47.4h0M441.9 47.6h0M442.2 47.7h0M442.6 47.8h0M443.0 47.8h0M443.3 48.0h0M443.7 48.0h0M444.1 48.2h0M444.5 48.2h0M444.8 48.4h0M445.2 48.4h0M445.6 48.5h0M446.0 48.6h0M446.3 48.6h0M446.7 48.6h0M447.1 48.8h0M447.5 48.8h0M447.8 48.9h0M448.2 48.9h0M448.6 49.1h0M449.0 49.1h0M449.3 49.2h0M449.7 49.2h0M450.1 49.3h0M450.4 49.4h0M450.8 49.6h0M451.2 49.6h0M451.6 49.6h0M451.9 49.7h0M452.3 49.8h0M452.7 49.8h0M453.1 50.0h0M453.4 50.1h0M453.8 50.2h0M454.2 50.2h0M454.6 50.6h0M454.9 50.6h0M455.3 50.6h0M455.7 50.6h0M456.0 50.8h0M456.4 50.9h0M456.8 51.0h0M457.2 51.1h0M457.5 51.4h0M457.9 51.5h0M458.3 51.6h0M458.7 51.6h0M459.0 51.9h0M459.4 52.0h0M459.8 52.2h0M460.2 52.2h0M460.5 52.4h0M460.9 52.4h0M461.3 52.4h0M461.7 52.5h0M462.0 52.6h0M462.4 52.6h0M462.8 52.8h0M463.1 52.9h0M463.5 53.2h0M463.9 53.2h0M464.3 53.3h0M464.6 53.3h0M465.0 53.3h0M465.4 53.3h0M465.8 53.6h0M466.1 53.7h0M466.5 53.9h0M466.9 53.9h0M467.3 54.1h0M467.6 54.1h0M468.0 54.2h0M468.4 54.2h0M468.7 54.4h0M469.1 54.4h0M469.5 54.6h0M469.9 54.6h0M470.2 54.7h0M470.6 54.7h0M471.0 54.8h0M471.4 54.8h0M471.7 55.2h0M472.1 55.2h0M472.5 55.2h0M472.9 55.3h0M473.2 55.5h0M473.6 55.6h0M474.0 56.0h0M474.3 56.0h0M474.7 56.1h0M475.1 56.1h0M475.5 56.3h0M475.8 56.4h0M476.2 56.8h0M476.6 56.8h0M477.0 56.8h0M477.3 56.9h0M477.7 57.3h0M478.1 57.4h0M478.5 57.6h0M478.8 57.6h0M479.2 57.7h0M479.6 57.7h0M480.0 58.0h0M480.3 58.0h0M480.7 58.2h0M481.1 58.2h0M481.5 58.7h0M481.9 58.7h0M482.2 58.8h0M482.6 58.8h0M483.0 59.0h0M483.4 59.0h0M483.8 59.5h0M484.2 59.6h0M484.5 59.7h0M484.9 59.7h0M485.3 59.9h0M485.7 59.9h0M486.1 60.1h0M486.4 60.1h0M486.8 60.2h0M487.2 60.2h0M487.6 60.4h0M487.9 60.4h0M488.3 60.7h0M488.7 60.7h0M489.1 60.8h0M489.5 60.8h0M489.9 61.2h0M490.2 61.2h0M490.6 61.5h0M491.0 61.5h0M491.4 61.7h0M491.8 61.7h0M492.2 61.9h0M492.5 62.0h0M492.9 62.0h0M493.3 62.0h0M493.7 62.3h0M494.1 62.4h0M494.5 62.9h0M494.8 62.9h0M495.2 62.9h0M495.6 62.9h0M496.0 63.4h0M496.4 63.4h0M496.8 63.5h0M497.1 63.5h0M497.5 64.2h0M497.9 64.2h0M498.3 64.2h0M498.7 64.2h0M499.1 64.6h0M499.5 64.6h0M499.8 65.0h0M500.2 65.0h0M500.6 65.4h0M501.0 65.4h0M501.4 65.8h0M501.8 65.8h0M502.2 66.0h0M502.6 66.1h0M502.9 66.2h0M503.3 66.3h0M503.7 66.4h0M504.1 66.5h0M504.5 67.1h0M504.9 67.1h0M505.3 67.5h0M505.7 67.5h0M506.0 67.6h0M506.4 67.6h0M506.8 68.2h0M507.2 68.2h0M507.6 68.3h0M508.0 68.3h0M508.4 68.8h0M508.8 68.8h0M509.2 69.1h0M509.5 69.2h0M509.9 69.5h0M510.3 69.6h0M510.7 70.0h0M511.0 70.0h0M511.4 70.2h0M511.8 70.2h0M512.2 70.4h0M512.6 70.4h0M512.9 70.8h0M513.3 70.8h0M513.7 71.0h0M514.1 71.0h0M514.4 71.3h0M514.8 71.3h0M515.2 71.6h0M515.6 71.6h0M515.9 72.0h0M516.3 72.0h0M516.7 72.3h0M517.1 72.3h0M517.4 72.6h0M517.8 72.7h0M518.2 73.0h0M518.6 73.1h0M518.9 73.6h0M519.3 73.6h0M519.7 73.9h0M520.1 74.0h0M520.4 74.7h0M520.8 74.8h0M521.2 75.1h0M521.6 75.2h0M521.9 75.3h0M522.3 75.4h0M522.7 76.0h0M523.1 76.0h0M523.4 76.6h0M523.8 76.7h0M524.2 76.8h0M524.6 76.8h0M525.0 77.3h0M525.3 77.4h0M525.7 77.7h0M526.1 77.8h0M526.5 78.3h0M526.8 78.4h0M527.2 79.0h0M527.6 79.0h0M528.0 79.1h0M528.3 79.1h0M528.7 80.1h0M529.1 80.2h0M529.5 80.5h0M529.8 80.6h0M530.2 81.4h0M530.6 81.5h0M531.0 82.0h0M531.3 82.2h0M531.7 83.1h0M532.1 83.2h0M532.5 83.3h0M532.8 83.5h0M533.2 84.6h0M533.6 84.7h0M534.0 84.9h0M534.3 85.0h0M534.7 86.0h0M535.1 86.1h0M535.5 87.0h0M535.8 87.1h0M536.2 87.3h0M536.6 87.4h0M537.0 87.9h0M537.3 88.0h0M537.7 89.6h0M538.1 89.7h0M538.5 90.5h0M538.9 90.6h0M539.2 91.2h0M539.6 91.3h0M540.0 91.7h0M540.4 91.9h0M540.7 93.2h0M541.1 93.4h0M541.5 93.5h0M541.9 93.7h0M542.2 95.6h0M542.6 95.9h0M543.0 96.8h0M543.4 97.1h0M543.7 98.3h0M544.1 98.6h0M544.5 99.5h0M544.9 99.8h0M545.2 100.7h0M545.5 101.0h0M545.8 103.3h0M546.1 103.6h0M546.4 104.4h0M546.8 104.7h0M547.0 106.5h0M547.4 106.8h0M547.7 107.3h0M548.1 107.6h0M548.4 108.3h0M548.8 108.5h0M549.0 110.5h0M549.3 110.7h0M549.6 112.1h0M550.0 112.3h0M550.2 114.1h0M550.6 114.3h0M550.9 115.3h0M551.3 115.5h0M551.7 115.5h0M552.0 115.7h0M552.4 118.2h0M552.8 118.4h0M553.2 118.6h0M553.5 118.8h0M553.9 121.0h0M554.3 121.2h0M554.6 121.8h0M555.0 122.0h0M555.4 123.2h0M555.8 123.4h0M556.1 125.1h0M556.5 125.3h0M556.9 126.7h0M557.3 126.9h0M557.6 128.7h0M558.0 128.9h0M558.4 130.2h0M558.8 130.4h0M559.1 132.0h0M559.5 132.2h0M559.9 133.0h0M560.3 133.3h0M560.6 135.5h0M561.0 135.8h0M561.4 136.5h0M561.7 136.8h0M562.1 139.0h0M562.5 139.3h0M562.9 140.6h0M563.2 140.9h0M563.6 142.7h0M564.0 143.1h0M564.4 143.4h0M564.7 143.7h0M565.1 146.4h0M565.5 146.7h0M565.9 147.6h0M566.2 147.9h0M566.6 149.9h0M567.0 150.1h0M567.3 150.9h0M567.7 151.2h0M568.1 154.2h0M568.5 154.5h0M568.8 156.7h0M569.2 156.9h0M569.6 157.2h0M570.0 157.4h0M570.3 158.3h0M570.7 158.4h0M571.1 161.2h0M571.5 161.3h0M571.8 161.5h0M572.2 161.6h0M572.5 164.3h0M572.9 164.4h0M573.3 164.7h0M573.6 164.8h0M574.0 166.2h0M574.3 166.2h0M574.7 167.7h0M575.0 167.7h0M575.4 168.1h0M575.8 168.1h0M576.1 169.7h0M576.5 169.8h0M576.8 170.9h0M577.2 170.9h0M577.5 173.0h0M577.9 173.1h0M578.2 174.7h0M578.6 174.8h0M578.9 174.8h0M579.3 174.9h0M579.6 176.9h0M580.0 177.0h0M580.4 177.0h0M580.7 177.1h0M581.0 179.1h0M581.4 179.4h0M581.7 180.5h0M582.1 180.7h0M582.5 181.6h0M582.8 181.7h0M583.2 183.4h0M583.5 183.5h0M583.9 184.4h0M584.2 184.6h0M584.6 184.7h0M585.0 184.9h0M585.3 186.2h0M585.7 186.5h0M586.0 188.6h0M586.3 188.9h0M586.7 190.5h0M587.0 190.8h0M587.4 191.3h0M587.7 191.6h0M588.0 193.2h0M588.4 193.5h0M588.7 194.7h0M589.1 195.0h0M589.4 195.6h0M589.8 195.9h0M590.1 196.7h0M590.5 196.9h0M590.8 197.3h0M591.2 197.5h0M591.5 198.4h0M591.9 198.6h0M592.2 199.6h0M592.6 199.7h0M592.9 200.6h0M593.3 200.7h0M593.6 200.7h0M594.0 200.9h0M594.3 201.5h0M594.7 201.6h0M595.1 201.8h0M595.4 201.9h0M595.7 202.8h0M596.1 202.8h0M596.5 203.1h0M596.8 203.2h0M597.2 203.7h0M597.6 203.8h0M597.9 203.8h0M598.3 203.9h0M598.6 204.5h0M599.0 204.5h0M599.4 204.8h0M599.7 204.9h0M600.1 205.1h0M600.5 205.1h0M600.8 205.3h0M601.2 205.3h0M601.5 205.7h0M601.9 205.7h0M602.3 206.1h0M602.6 206.2h0M603.0 206.2h0M603.4 206.3h0M603.7 206.4h0M604.1 206.5h0M604.5 206.8h0M604.8 206.8h0M605.2 206.9h0M605.6 207.0h0M605.9 207.2h0M606.3 207.3h0M606.6 207.4h0M607.0 207.4h0M607.4 207.5h0M607.8 207.5h0M608.1 207.6h0M608.5 207.6h0M608.9 207.7h0M609.2 207.7h0M609.6 207.7h0M610.0 207.7h0M610.3 207.8h0M610.7 207.8h0M611.1 207.9h0M611.4 207.9h0M611.8 208.0h0M612.2 208.0h0M612.5 208.0h0M612.9 208.0h0M613.3 208.1h0M613.7 208.1h0M614.0 208.1h0M614.4 208.1h0M614.8 208.2h0M615.1 208.2h0M615.5 208.3h0M615.9 208.3h0M616.2 208.3h0M616.6 208.3h0M617.0 208.4h0M617.3 208.4h0M617.7 208.5h0M618.1 208.5h0M618.4 208.6h0M618.8 208.6h0M619.2 208.6h0M619.6 208.7h0M619.9 208.7h0M620.3 208.8h0M620.7 208.9h0M621.0 208.9h0M621.4 209.0h0M621.8 209.0h0M622.1 209.1h0M622.5 209.1h0M622.9 209.2h0M623.2 209.2h0M623.6 209.2h0M624.0 209.2h0M624.3 209.3h0M624.7 209.3h0M625.1 209.3h0M625.5 209.3h0M625.8 209.3h0M626.2 209.4h0M626.6 209.4h0M626.9 209.4h0M627.3 209.4h0M627.7 209.4h0M628.0 209.5h0M628.4 209.5h0M628.8 209.5h0M629.1 209.6h0M629.5 209.6h0M629.9 209.6h0M630.2 209.7h0M630.6 209.7h0M631.0 209.7h0M631.4 209.7h0M631.7 209.7h0" stroke="#f0f" stroke-width="2.10" fill="none" stroke-linecap="round"/><path d="M632.1 209.8h0M632.8 209.8h0M633.6 209.8h0M634.3 209.9h0M635.1 209.9h0M635.8 209.9h0M636.5 209.9h0M637.3 209.9h0M638.0 209.9h0M638.8 209.9h0M639.5 209.9h0M640.2 209.9h0M641.0 209.9h0M641.7 209.9h0M642.5 209.9h0M643.2 209.9h0M643.9 209.9h0M644.7 209.9h0M645.4 209.9h0M646.2 209.9h0M646.9 209.9h0M647.6 209.9h0M648.4 209.9h0M649.1 209.9h0M649.9 209.9h0M650.6 209.9h0M651.4 209.9h0M652.1 209.9h0M652.8 209.9h0M653.6 209.9h0M654.3 209.9h0M655.1 209.9h0M655.8 209.9h0M656.5 209.9h0M657.3 209.9h0M658.0 209.9h0M658.8 209.9h0M659.5 209.9h0M660.2 209.9h0M661.0 209.9h0M661.7 209.9h0M662.5 209.9h0M663.2 209.9h0M663.9 209.9h0M664.7 209.9h0M665.4 209.9h0M666.2 209.9h0M666.9 209.9h0M667.7 209.9h0M668.4 209.9h0M669.1 209.9h0M669.9 209.9h0M670.6 209.9h0M671.4 209.9h0M672.1 209.9h0M672.8 209.9h0M673.6 209.9h0M674.3 209.9h0M675.1 209.9h0M675.8 209.9h0M676.5 209.9h0M677.3 209.9h0M678.0 209.9h0M678.8 209.9h0M679.5 209.9h0M680.3 209.9h0M681.0 209.9h0M681.7 209.9h0M682.5 209.9h0M683.2 209.9h0M684.0 209.9h0M684.7 209.9h0M685.4 209.9h0M686.2 209.9h0M686.9 209.9h0M687.7 209.9h0M688.4 209.9h0M689.1 209.9h0M689.9 209.9h0M690.6 209.9h0M691.4 209.9h0M692.1 209.9h0M692.8 209.9h0M693.6 209.9h0M694.3 209.9h0M695.1 209.9h0M695.8 209.9h0M696.6 209.9h0M697.3 209.9h0M698.0 209.9h0M698.8 209.9h0M699.5 209.9h0M700.3 209.9h0M701.0 209.9h0M701.7 209.9h0M702.5 209.9h0M703.2 209.9h0M704.0 209.9h0M704.7 209.9h0M705.4 209.9h0M706.2 209.9h0M706.9 209.9h0M707.7 209.9h0M708.4 209.9h0M709.2 209.9h0M709.9 209.9h0M710.6 209.9h0M711.4 209.9h0M712.1 209.9h0M712.9 209.9h0M713.6 209.9h0M714.3 209.9h0M715.1 209.9h0M715.8 209.9h0M716.6 209.9h0M717.3 209.9h0M718.0 209.9h0M718.8 209.9h0M719.5 209.9h0M720.3 209.9h0M721.0 209.9h0M721.7 209.9h0M722.5 209.9h0M723.2 209.9h0M724.0 209.9h0M724.7 209.9h0M725.5 209.9h0M726.2 209.9h0M726.9 209.9h0M727.7 209.9h0M728.4 209.9h0M729.2 209.9h0M729.9 209.9h0M730.6 209.9h0M731.4 209.9h0M732.1 209.9h0M732.9 209.9h0M733.6 209.9h0M734.3 209.9h0M735.1 209.9h0M735.8 209.9h0M736.6 209.9h0M737.3 209.9h0M738.0 209.9h0M738.8 209.9h0M739.5 209.9h0M740.3 209.9h0M741.0 209.9h0M741.8 209.9h0M742.5 209.9h0M743.2 209.9h0M744.0 209.9h0M744.7 209.9h0M745.5 209.9h0M746.2 209.9h0M746.9 209.9h0M747.7 209.9h0M748.4 209.9h0" stroke="#f0f" stroke-width="1.80" fill="none" stroke-linecap="round"/>
<path d="M369.4 20.5h0M369.6 35.5h0M370.0 35.7h0M370.4 35.8h0M370.9 36.0h0M371.3 36.0h0M371.7 36.2h0M371.9 36.6h0M372.3 36.7h0M372.7 36.9h0M373.1 37.0h0M373.6 37.1h0M374.0 37.2h0M374.4 37.4h0M374.8 37.5h0M375.2 37.7h0M375.6 37.8h0M376.1 37.8h0M376.5 37.9h0M376.9 38.1h0M377.3 38.2h0M377.7 38.2h0M378.1 38.3h0M378.6 38.4h0M379.0 38.6h0M379.4 38.6h0M379.8 38.7h0M380.2 38.7h0M380.6 38.8h0M381.1 38.9h0M381.5 38.9h0M381.9 39.0h0M382.3 39.1h0M382.7 39.1h0M383.1 39.1h0M383.6 39.3h0M384.0 39.3h0M384.4 39.4h0M384.8 39.4h0M385.2 39.5h0M385.6 39.5h0M386.1 39.6h0M386.5 39.6h0M386.9 39.6h0M387.3 39.7h0M387.7 39.8h0M388.1 39.8h0M388.6 39.8h0M389.0 39.9h0M389.4 40.0h0M389.8 40.0h0M390.2 40.0h0M390.6 40.0h0M391.1 40.1h0M391.5 40.2h0M391.9 40.2h0M392.3 40.3h0M392.7 40.4h0M393.1 40.4h0M393.6 40.4h0M394.0 40.4h0M394.4 40.5h0M394.8 40.6h0M395.2 40.6h0M395.6 40.6h0M396.1 40.7h0M396.5 40.7h0M396.9 40.8h0M397.3 40.8h0M397.7 40.9h0M398.1 40.9h0M398.6 40.9h0M399.0 41.0h0M399.4 41.1h0M399.8 41.2h0M400.2 41.2h0M400.6 41.3h0M401.1 41.3h0M401.5 41.4h0M401.9 41.4h0M402.3 41.5h0M402.7 41.5h0M403.1 41.5h0M403.6 41.6h0M404.0 41.7h0M404.4 41.7h0M404.8 41.8h0M405.2 41.8h0M405.6 41.8h0M406.1 41.9h0M406.5 42.0h0M406.9 42.1h0M407.3 42.1h0M407.7 42.1h0M408.1 42.2h0M408.6 42.2h0M409.0 42.3h0M409.4 42.4h0M409.8 42.4h0M410.2 42.5h0M410.6 42.5h0M411.1 42.6h0M411.5 42.7h0M411.9 42.7h0M412.3 42.8h0M412.7 42.8h0M413.1 42.9h0M413.6 42.9h0M414.0 43.0h0M414.4 43.0h0M414.8 43.1h0M415.2 43.1h0M415.6 43.1h0M416.1 43.2h0M416.5 43.3h0M416.9 43.3h0M417.3 43.4h0M417.7 43.4h0M418.1 43.6h0M418.6 43.6h0M419.0 43.7h0M419.4 43.8h0M419.8 43.8h0M420.2 43.8h0M420.6 43.9h0M421.1 44.0h0M421.5 44.0h0M421.9 44.1h0M422.3 44.2h0M422.7 44.3h0M423.1 44.3h0M423.6 44.4h0M424.0 44.5h0M424.4 44.5h0M424.8 44.6h0M425.2 44.7h0M425.6 44.8h0M426.1 44.8h0M426.5 44.9h0M426.9 44.9h0M427.3 45.1h0M427.7 45.1h0M428.1 45.2h0M428.6 45.3h0M429.0 45.4h0M429.4 45.4h0M429.8 45.5h0M430.2 45.5h0M430.6 45.6h0M431.1 45.7h0M431.5 45.8h0M431.9 45.8h0M432.3 46.0h0M432.7 46.0h0M433.1 46.1h0M433.6 46.1h0M434.0 46.2h0M434.4 46.3h0M434.8 46.4h0M435.2 46.5h0M435.6 46.5h0M436.1 46.6h0M436.5 46.7h0M436.9 46.7h0M437.3 46.8h0M437.7 46.9h0M438.1 46.9h0M438.6 47.0h0M439.0 47.1h0M439.4 47.1h0M439.8 47.2h0M440.2 47.2h0M440.6 47.3h0M441.0 47.4h0M441.5 47.5h0M441.9 47.6h0M442.3 47.6h0M442.7 47.8h0M443.1 47.8h0M443.5 47.9h0M444.0 48.0h0M444.4 48.0h0M444.8 48.1h0M445.2 48.2h0M445.6 48.2h0M446.0 48.3h0M446.5 48.3h0M446.9 48.4h0M447.3 48.5h0M447.7 48.7h0M448.1 48.7h0M448.5 48.8h0M449.0 48.9h0M449.4 49.0h0M449.8 49.1h0M450.2 49.2h0M450.6 49.3h0M451.0 49.3h0M451.5 49.4h0M451.9 49.5h0M452.3 49.5h0M452.7 49.7h0M453.1 49.7h0M453.5 49.8h0M454.0 49.9h0M454.4 49.9h0M454.8 50.2h0M455.2 50.2h0M455.6 50.2h0M456.0 50.4h0M456.5 50.4h0M456.9 50.6h0M457.3 50.7h0M457.7 50.7h0M458.1 50.8h0M458.5 50.9h0M459.0 51.0h0M459.4 51.0h0M459.8 51.1h0M460.2 51.2h0M460.6 51.4h0M461.0 51.4h0M461.5 51.4h0M461.9 51.6h0M462.3 51.7h0M462.7 51.8h0M463.1 51.8h0M463.5 52.0h0M464.0 52.1h0M464.4 52.1h0M464.8 52.3h0M465.2 52.3h0M465.6 52.5h0M466.0 52.5h0M466.5 52.7h0M466.9 52.8h0M467.3 53.0h0M467.7 53.1h0M468.1 53.1h0M468.5 53.2h0M469.0 53.4h0M469.4 53.5h0M469.8 53.6h0M470.2 53.7h0M470.6 53.9h0M471.0 54.0h0M471.5 54.0h0M471.9 54.3h0M472.3 54.4h0M472.7 54.5h0M473.1 54.6h0M473.5 54.7h0M474.0 54.8h0M474.4 55.0h0M474.8 55.2h0M475.2 55.3h0M475.6 55.5h0M476.0 55.6h0M476.5 55.8h0M476.9 56.0h0M477.3 56.1h0M477.7 56.3h0M478.1 56.3h0M478.5 56.6h0M479.0 56.6h0M479.4 56.8h0M479.8 57.0h0M480.2 57.1h0M480.6 57.2h0M481.0 57.3h0M481.5 57.5h0M481.9 57.6h0M482.3 57.8h0M482.7 57.9h0M483.1 58.2h0M483.5 58.3h0M484.0 58.4h0M484.4 58.5h0M484.8 58.6h0M485.2 58.9h0M485.6 59.0h0M486.0 59.3h0M486.5 59.3h0M486.9 59.4h0M487.3 59.6h0M487.7 59.8h0M488.1 59.9h0M488.5 60.1h0M489.0 60.3h0M489.4 60.3h0M489.8 60.5h0M490.2 60.7h0M490.6 60.8h0M491.0 61.1h0M491.5 61.3h0M491.9 61.5h0M492.3 61.5h0M492.7 61.7h0M493.1 62.0h0M493.5 62.1h0M494.0 62.4h0M494.4 62.5h0M494.8 62.6h0M495.2 62.8h0M495.6 63.1h0M496.0 63.2h0M496.5 63.5h0M496.9 63.8h0M497.3 63.9h0M497.7 64.0h0M498.1 64.3h0M498.5 64.3h0M499.0 64.4h0M499.4 64.7h0M499.8 65.0h0M500.2 65.4h0M500.6 65.4h0M501.0 65.5h0M501.5 66.0h0M501.9 66.0h0M502.3 66.1h0M502.7 66.4h0M503.1 66.6h0M503.5 66.7h0M504.0 67.1h0M504.4 67.3h0M504.8 67.5h0M505.2 67.6h0M505.6 68.0h0M506.0 68.2h0M506.5 68.2h0M506.9 68.5h0M507.3 68.7h0M507.7 68.8h0M508.1 68.9h0M508.5 69.4h0M508.9 69.5h0M509.4 69.7h0M509.8 69.9h0M510.2 70.3h0M510.6 70.4h0M511.0 70.6h0M511.4 71.0h0M511.9 71.1h0M512.3 71.4h0M512.7 71.4h0M513.1 71.9h0M513.5 72.2h0M513.9 72.5h0M514.4 72.6h0M514.8 72.7h0M515.2 73.2h0M515.6 73.5h0M516.0 73.6h0M516.4 73.7h0M516.9 74.0h0M517.3 74.5h0M517.7 74.7h0M518.1 74.8h0M518.5 75.0h0M518.9 75.7h0M519.4 75.8h0M519.8 76.2h0M520.2 76.4h0M520.6 76.6h0M521.0 77.0h0M521.4 77.1h0M521.9 77.4h0M522.3 77.6h0M522.7 77.7h0M523.1 78.2h0M523.5 78.3h0M523.9 78.6h0M524.4 79.2h0M524.8 79.2h0M525.2 79.3h0M525.6 79.9h0M526.0 80.1h0M526.4 80.2h0M526.9 80.6h0M527.3 81.1h0M527.7 81.2h0M528.1 82.1h0M528.5 82.3h0M528.9 82.4h0M529.4 82.8h0M529.8 83.1h0M530.2 83.3h0M530.6 84.1h0M531.0 84.2h0M531.4 84.3h0M531.9 85.0h0M532.3 85.5h0M532.7 85.7h0M533.1 85.8h0M533.5 86.1h0M533.9 86.7h0M534.4 86.8h0M534.8 87.3h0M535.2 88.1h0M535.6 88.4h0M536.0 88.5h0M536.4 89.6h0M536.9 89.6h0M537.3 90.4h0M537.7 90.6h0M538.1 91.1h0M538.5 91.4h0M538.9 92.1h0M539.4 92.1h0M539.8 92.7h0M540.2 93.7h0M540.6 93.8h0M541.0 94.4h0M541.4 95.4h0M541.9 95.5h0M542.3 96.1h0M542.7 97.2h0M543.1 97.4h0M543.5 97.9h0M543.9 99.2h0M544.4 99.3h0M544.8 99.9h0M545.2 101.2h0M545.6 101.3h0M546.0 102.8h0M546.4 103.3h0M546.9 103.9h0M547.3 104.0h0M547.7 104.6h0M548.1 106.0h0M548.5 106.8h0M548.9 106.9h0M549.4 107.5h0M549.8 108.3h0M550.2 108.8h0M550.6 110.0h0M551.0 110.9h0M551.4 111.7h0M551.9 111.8h0M552.3 112.7h0M552.7 113.3h0M553.1 114.4h0M553.5 115.0h0M553.9 116.8h0M554.4 117.0h0M554.8 117.2h0M555.2 118.9h0M555.6 120.2h0M556.0 120.7h0M556.4 121.2h0M556.9 121.5h0M557.3 122.3h0M557.7 122.9h0M558.1 124.6h0M558.5 125.4h0M558.9 125.7h0M559.4 127.2h0M559.8 127.6h0M560.2 128.5h0M560.6 128.6h0M561.0 129.4h0M561.4 130.2h0M561.9 132.4h0M562.3 133.1h0M562.7 134.2h0M563.1 135.0h0M563.5 136.0h0M563.9 136.2h0M564.4 137.7h0M564.8 137.9h0M565.2 139.6h0M565.6 139.8h0M566.0 142.5h0M566.4 143.1h0M566.9 143.4h0M567.3 145.4h0M567.7 146.2h0M568.1 146.6h0M568.5 148.4h0M568.9 149.3h0M569.4 150.8h0M569.8 152.4h0M570.2 153.2h0M570.6 153.5h0M571.0 155.2h0M571.4 156.3h0M571.9 156.5h0M572.3 157.7h0M572.7 159.1h0M573.1 159.9h0M573.5 161.0h0M573.9 162.8h0M574.4 164.2h0M574.8 164.4h0M575.2 165.6h0M575.6 166.7h0M576.0 167.4h0M576.4 168.0h0M576.9 168.3h0M577.3 169.9h0M577.7 170.2h0M578.1 170.8h0M578.5 172.0h0M578.9 172.9h0M579.2 173.9h0M579.6 174.0h0M579.9 175.6h0M580.3 175.8h0M580.7 176.8h0M581.1 176.9h0M581.5 177.0h0M581.9 177.5h0M582.2 179.1h0M582.5 179.5h0M582.9 180.3h0M583.3 180.8h0M583.6 181.3h0M584.0 182.3h0M584.4 182.6h0M584.7 183.6h0M585.1 183.9h0M585.4 185.2h0M585.8 185.8h0M586.2 185.9h0M586.5 187.2h0M586.9 187.7h0M587.3 188.3h0M587.6 189.8h0M587.9 190.5h0M588.3 190.7h0M588.6 192.0h0M589.0 192.5h0M589.4 192.8h0M589.7 194.2h0M590.1 194.7h0M590.5 195.5h0M590.9 196.2h0M591.2 196.8h0M591.6 197.8h0M592.0 198.3h0M592.4 198.4h0M592.8 198.7h0M593.2 199.6h0M593.6 199.7h0M594.0 200.3h0M594.4 200.8h0M594.8 201.0h0M595.2 202.0h0M595.6 202.4h0M596.0 202.5h0M596.4 202.8h0M596.8 203.4h0M597.2 203.5h0M597.6 204.2h0M598.0 204.3h0M598.5 204.4h0M598.8 204.9h0M599.3 205.0h0M599.7 205.0h0M600.1 205.3h0M600.5 205.6h0M600.9 205.8h0M601.3 205.9h0M601.7 206.0h0M602.1 206.3h0M602.5 206.4h0M602.9 206.5h0M603.3 206.6h0M603.7 206.7h0M604.2 206.8h0M604.6 207.1h0M605.0 207.1h0M605.4 207.1h0M605.8 207.2h0M606.2 207.3h0M606.6 207.4h0M607.0 207.5h0M607.4 207.6h0M607.8 207.6h0M608.3 207.6h0M608.7 207.7h0M609.1 207.7h0M609.5 207.8h0M609.9 207.8h0M610.3 207.9h0M610.7 207.9h0M611.1 208.0h0M611.5 208.0h0M612.0 208.0h0M612.4 208.1h0M612.8 208.2h0M613.2 208.2h0M613.6 208.3h0M614.0 208.3h0M614.4 208.3h0M614.8 208.4h0M615.2 208.4h0M615.7 208.5h0M616.1 208.5h0M616.5 208.5h0M616.9 208.6h0M617.3 208.6h0M617.7 208.8h0M618.1 208.8h0M618.5 208.9h0M618.9 208.9h0M619.3 209.0h0M619.8 209.0h0M620.2 209.1h0M620.6 209.1h0M621.0 209.2h0M621.4 209.2h0M621.8 209.2h0M622.2 209.3h0M622.6 209.3h0M623.0 209.4h0M623.5 209.4h0M623.9 209.4h0M624.3 209.4h0M624.7 209.4h0M625.1 209.5h0M625.5 209.5h0M625.9 209.5h0M626.3 209.6h0M626.8 209.6h0M627.2 209.6h0M627.6 209.6h0M628.0 209.7h0M628.4 209.7h0M628.8 209.7h0" stroke="#0f0" stroke-width="2.30" fill="none" stroke-linecap="round"/><path d="M629.2 209.8h0M629.8 209.8h0M630.5 209.8h0M631.1 209.8h0M631.7 209.9h0M632.3 209.9h0M632.9 209.9h0M633.5 209.9h0M634.2 209.9h0M634.8 209.9h0M635.4 209.9h0M636.0 209.9h0M636.6 209.9h0M637.3 209.9h0M637.9 209.9h0M638.5 209.9h0M639.1 209.9h0M639.7 209.9h0M640.4 209.9h0M641.0 209.9h0M641.6 209.9h0M642.2 209.9h0M642.8 209.9h0M643.4 209.9h0M644.1 209.9h0M644.7 209.9h0M645.3 209.9h0M645.9 209.9h0M646.5 209.9h0M647.2 209.9h0M647.8 209.9h0M648.4 209.9h0M649.0 209.9h0M649.6 209.9h0M650.2 209.9h0M650.9 209.9h0M651.5 209.9h0M652.1 209.9h0M652.7 209.9h0M653.3 209.9h0M654.0 209.9h0M654.6 209.9h0M655.2 209.9h0M655.8 209.9h0M656.4 209.9h0M657.1 209.9h0M657.7 209.9h0M658.3 209.9h0M658.9 209.9h0M659.5 209.9h0M660.1 209.9h0M660.8 209.9h0M661.4 209.9h0M662.0 209.9h0M662.6 209.9h0M663.2 209.9h0M663.9 209.9h0M664.5 209.9h0M665.1 209.9h0M665.7 209.9h0M666.3 209.9h0M667.0 209.9h0M667.6 209.9h0M668.2 209.9h0M668.8 209.9h0M669.4 209.9h0M670.0 209.9h0M670.7 209.9h0M671.3 209.9h0M671.9 209.9h0M672.5 209.9h0M673.1 209.9h0M673.8 209.9h0M674.4 209.9h0M675.0 209.9h0M675.6 209.9h0M676.2 209.9h0M676.8 209.9h0M677.5 209.9h0M678.1 209.9h0M678.7 209.9h0M679.3 209.9h0M679.9 209.9h0M680.6 209.9h0M681.2 209.9h0M681.8 209.9h0M682.4 209.9h0M683.0 209.9h0M683.7 209.9h0M684.3 209.9h0M684.9 209.9h0M685.5 209.9h0M686.1 209.9h0M686.7 209.9h0M687.4 209.9h0M688.0 209.9h0M688.6 209.9h0M689.2 209.9h0M689.8 209.9h0M690.5 209.9h0M691.1 209.9h0M691.7 209.9h0M692.3 209.9h0M692.9 209.9h0M693.6 209.9h0M694.2 209.9h0M694.8 209.9h0M695.4 209.9h0M696.0 209.9h0M696.6 209.9h0M697.3 209.9h0M697.9 209.9h0M698.5 209.9h0M699.1 209.9h0M699.7 209.9h0M700.4 209.9h0M701.0 209.9h0M701.6 209.9h0M702.2 209.9h0M702.8 209.9h0M703.4 209.9h0M704.1 209.9h0M704.7 209.9h0M705.3 209.9h0M705.9 209.9h0M706.5 209.9h0M707.2 209.9h0M707.8 209.9h0M708.4 209.9h0M709.0 209.9h0M709.6 209.9h0M710.3 209.9h0M710.9 209.9h0M711.5 209.9h0M712.1 209.9h0M712.7 209.9h0M713.3 209.9h0M714.0 209.9h0M714.6 209.9h0M715.2 209.9h0M715.8 209.9h0M716.4 209.9h0M717.1 209.9h0M717.7 209.9h0M718.3 209.9h0M718.9 209.9h0M719.5 209.9h0M720.2 209.9h0M720.8 209.9h0M721.4 209.9h0M722.0 209.9h0M722.6 209.9h0M723.2 209.9h0M723.9 209.9h0M724.5 209.9h0M725.1 209.9h0M725.7 209.9h0M726.3 209.9h0M727.0 209.9h0M727.6 209.9h0M728.2 209.9h0M728.8 209.9h0M729.4 209.9h0M730.0 209.9h0M730.7 209.9h0M731.3 209.9h0M731.9 209.9h0M732.5 209.9h0M733.1 209.9h0M733.8 209.9h0M734.4 209.9h0M735.0 209.9h0M735.6 209.9h0M736.2 209.9h0M736.9 209.9h0M737.5 209.9h0M738.1 209.9h0M738.7 209.9h0M739.3 209.9h0M739.9 209.9h0M740.6 209.9h0M741.2 209.9h0M741.8 209.9h0M742.4 209.9h0M743.0 209.9h0M743.7 209.9h0M744.3 209.9h0M744.9 209.9h0M745.5 209.9h0M746.1 209.9h0M746.8 209.9h0M747.4 209.9h0M748.0 209.9h0M748.6 209.9h0M749.2 209.9h0M749.8 209.9h0M750.5 209.9h0M751.1 209.9h0M751.7 209.9h0M752.3 209.9h0M752.9 209.9h0M753.6 209.9h0M754.2 209.9h0M754.8 209.9h0M755.4 209.9h0M756.0 209.9h0M756.6 209.9h0M757.3 209.9h0M757.9 209.9h0M758.5 209.9h0M759.1 209.9h0M759.7 209.9h0M760.4 209.9h0M761.0 209.9h0M761.6 209.9h0M762.2 209.9h0M762.8 209.9h0M763.5 209.9h0M764.1 209.9h0M764.7 209.9h0M765.3 209.9h0M765.9 209.9h0M766.5 209.9h0M767.2 209.9h0M767.8 209.9h0M768.4 209.9h0M769.0 209.9h0M769.6 209.9h0M770.3 209.9h0M770.9 209.9h0M771.5 209.9h0M772.1 209.9h0M772.7 209.9h0M773.4 209.9h0M774.0 209.9h0M774.6 209.9h0M775.2 209.9h0M775.8 209.9h0M776.4 209.9h0M777.1 209.9h0M777.7 209.9h0M778.3 209.9h0M778.9 209.9h0M779.5 209.9h0M780.2 209.9h0M780.8 209.9h0M781.4 209.9h0M782.0 209.9h0M782.6 209.9h0M783.2 209.9h0M783.9 209.9h0M784.5 209.9h0M785.1 209.9h0M785.7 209.9h0M786.3 209.9h0M787.0 209.9h0M787.6 209.9h0M788.2 209.9h0M788.8 209.9h0M789.4 209.9h0M790.1 209.9h0M790.7 209.9h0M791.3 209.9h0" stroke="#0f0" stroke-width="1.80" fill="none" stroke-linecap="round"/>
<path d="M369.6 20.5L369.6 35.6L370.2 36.0L370.8 36.3L371.4 36.6L371.9 36.9L372.5 37.2L373.1 37.4L373.6 37.6L374.2 37.8L374.8 38.0L375.4 38.1L375.9 38.3L376.5 38.4L377.1 38.6L377.7 38.7L378.2 38.8L378.8 38.9L379.4 39.0L379.9 39.1L380.5 39.1L381.1 39.2L381.6 39.3L382.2 39.4L382.8 39.4L383.3 39.5L383.9 39.6L384.5 39.6L385.0 39.7L385.6 39.8L386.2 39.8L386.7 39.9L387.3 39.9L387.9 40.0L388.4 40.1L389.0 40.1L389.6 40.2L390.1 40.2L390.7 40.3L391.3 40.3L391.8 40.4L392.4 40.5L392.9 40.5L393.5 40.6L394.1 40.6L394.6 40.7L395.2 40.8L395.8 40.8L396.3 40.9L396.9 40.9L397.4 41.0L398.0 41.1L398.6 41.1L399.1 41.2L399.7 41.3L400.2 41.3L400.8 41.4L401.4 41.5L401.9 41.5L402.5 41.6L403.0 41.7L403.6 41.7L404.1 41.8L404.7 41.9L405.3 41.9L405.8 42.0L406.4 42.1L406.9 42.1L407.5 42.2L408.0 42.3L408.6 42.3L409.2 42.4L409.7 42.5L410.3 42.6L410.8 42.6L411.4 42.7L411.9 42.8L412.5 42.8L413.0 42.9L413.6 43.0L414.1 43.1L414.7 43.1L415.2 43.2L415.8 43.3L416.3 43.4L416.9 43.4L417.4 43.5L418.0 43.6L418.5 43.7L419.1 43.7L419.6 43.8L420.2 43.9L420.7 44.0L421.3 44.0L421.8 44.1L422.4 44.2L422.9 44.3L423.5 44.4L424.0 44.4L424.6 44.5L425.1 44.6L425.6 44.7L426.2 44.8L426.7 44.9L427.3 44.9L427.8 45.0L428.4 45.1L428.9 45.2L429.5 45.3L430.0 45.4L430.5 45.5L431.1 45.6L431.6 45.6L432.2 45.7L432.7 45.8L433.2 45.9L433.8 46.0L434.3 46.1L434.9 46.2L435.4 46.3L435.9 46.4L436.5 46.5L437.0 46.6L437.5 46.6L438.1 46.7L438.6 46.8L439.2 46.9L439.7 47.0L440.2 47.1L440.7 47.2L441.3 47.3L441.8 47.4L442.3 47.5L442.9 47.6L443.4 47.7L443.9 47.8L444.5 47.9L445.0 48.0L445.5 48.1L446.0 48.2L446.6 48.3L447.1 48.4L447.6 48.5L448.1 48.6L448.6 48.7L449.2 48.8L449.7 49.0L450.2 49.1L450.7 49.2L451.2 49.3L451.8 49.4L452.3 49.5L452.8 49.6L453.3 49.7L453.8 49.9L454.3 50.0L454.9 50.1L455.4 50.2L455.9 50.3L456.4 50.4L456.9 50.5L457.4 50.7L457.9 50.8L458.4 50.9L458.9 51.0L459.5 51.1L460.0 51.3L460.5 51.4L461.0 51.5L461.5 51.6L462.0 51.7L462.5 51.9L463.0 52.0L463.5 52.1L464.0 52.2L464.5 52.3L465.0 52.5L465.5 52.6L466.0 52.7L466.5 52.8L467.0 53.0L467.5 53.1L468.0 53.2L468.5 53.4L469.0 53.5L469.5 53.6L470.0 53.7L470.5 53.9L471.0 54.0L471.5 54.1L471.9 54.3L472.4 54.4L472.9 54.5L473.4 54.7L473.9 54.8L474.4 55.0L474.8 55.1L475.3 55.3L475.8 55.4L476.2 55.6L476.7 55.7L477.1 55.9L477.6 56.0L478.0 56.2L478.5 56.3L479.0 56.5L479.4 56.6L479.9 56.8L480.3 56.9L480.8 57.1L481.2 57.3L481.7 57.4L482.1 57.6L482.6 57.7L483.0 57.9L483.5 58.0L483.9 58.2L484.3 58.4L484.8 58.5L485.2 58.7L485.7 58.9L486.1 59.0L486.5 59.2L487.0 59.3L487.4 59.5L487.8 59.7L488.3 59.8L488.7 60.0L489.1 60.2L489.6 60.3L490.0 60.5L490.4 60.7L490.8 60.9L491.3 61.0L491.7 61.2L492.1 61.4L492.5 61.5L492.9 61.7L493.3 61.9L493.8 62.1L494.2 62.2L494.6 62.4L495.0 62.6L495.4 62.8L495.8 62.9L496.2 63.1L496.6 63.3L497.0 63.5L497.4 63.7L497.8 63.8L498.2 64.0L498.6 64.2L499.0 64.4L499.4 64.6L499.8 64.8L500.2 64.9L500.6 65.1L500.9 65.3L501.3 65.5L501.7 65.7L502.1 65.9L502.5 66.1L502.9 66.2L503.3 66.4L503.6 66.6L504.0 66.8L504.4 67.0L504.8 67.2L505.1 67.4L505.5 67.6L505.9 67.8L506.3 68.0L506.6 68.2L507.0 68.3L507.3 68.5L507.7 68.7L508.1 68.9L508.4 69.1L508.8 69.3L509.1 69.5L509.5 69.7L509.8 69.9L510.2 70.1L510.5 70.3L510.9 70.5L511.2 70.7L511.5 70.9L511.9 71.1L512.2 71.3L512.5 71.5L512.9 71.8L513.2 72.0L513.5 72.2L513.8 72.4L514.2 72.6L514.5 72.8L514.8 73.0L515.1 73.2L515.4 73.4L515.8 73.6L516.1 73.8L516.4 74.0L516.7 74.3L517.0 74.5L517.3 74.7L517.6 74.9L517.9 75.1L518.2 75.3L518.6 75.5L518.9 75.7L519.2 76.0L519.5 76.2L519.8 76.4L520.1 76.6L520.4 76.8L520.6 77.0L520.9 77.2L521.2 77.5L521.5 77.7L521.8 77.9L522.1 78.1L522.4 78.3L522.7 78.5L522.9 78.8L523.2 79.0L523.5 79.2L523.8 79.4L524.0 79.6L524.3 79.9L524.6 80.1L524.9 80.3L525.1 80.5L525.4 80.7L525.7 81.0L526.0 81.2L526.2 81.4L526.5 81.6L526.8 81.8L527.0 82.1L527.3 82.3L527.6 82.5L527.8 82.7L528.1 83.0L528.3 83.2L528.6 83.4L528.9 83.6L529.1 83.9L529.4 84.1L529.6 84.3L529.9 84.5L530.1 84.8L530.4 85.0L530.6 85.2L530.8 85.4L531.1 85.7L531.3 85.9L531.6 86.1L531.8 86.4L532.0 86.6L532.3 86.8L532.5 87.0L532.7 87.3L533.0 87.5L533.2 87.7L533.4 88.0L533.7 88.2L533.9 88.4L534.1 88.7L534.3 88.9L534.6 89.1L534.8 89.3L535.0 89.6L535.2 89.8L535.4 90.0L535.7 90.3L535.9 90.5L536.1 90.7L536.3 91.0L536.5 91.2L536.7 91.4L537.0 91.7L537.2 91.9L537.4 92.1L537.6 92.4L537.8 92.6L538.0 92.8L538.1 93.1L538.3 93.3L538.5 93.5L538.7 93.8L538.9 94.0L539.1 94.3L539.3 94.5L539.4 94.7L539.6 95.0L539.8 95.2L540.0 95.4L540.1 95.7L540.3 95.9L540.5 96.2L540.7 96.4L540.8 96.6L541.0 96.9L541.2 97.1L541.3 97.4L541.5 97.6L541.7 97.8L541.8 98.1L542.0 98.3L542.2 98.6L542.3 98.8L542.5 99.0L542.7 99.3L542.8 99.5L543.0 99.8L543.1 100.0L543.3 100.2L543.5 100.5L543.6 100.7L543.8 101.0L543.9 101.2L544.1 101.4L544.3 101.7L544.4 101.9L544.6 102.2L544.7 102.4L544.9 102.6L545.0 102.9L545.2 103.1L545.3 103.4L545.5 103.6L545.6 103.9L545.8 104.1L545.9 104.3L546.1 104.6L546.2 104.8L546.4 105.1L546.5 105.3L546.7 105.6L546.8 105.8L547.0 106.0L547.1 106.3L547.3 106.5L547.4 106.8L547.6 107.0L547.7 107.2L547.8 107.5L548.0 107.7L548.1 108.0L548.3 108.2L548.4 108.5L548.5 108.7L548.7 108.9L548.8 109.2L549.0 109.4L549.1 109.7L549.2 109.9L549.4 110.2L549.5 110.4L549.6 110.6L549.8 110.9L549.9 111.1L550.0 111.4L550.2 111.6L550.3 111.9L550.4 112.1L550.6 112.4L550.7 112.6L550.8 112.8L551.0 113.1L551.1 113.3L551.2 113.6L551.3 113.8L551.5 114.1L551.6 114.3L551.7 114.6L551.9 114.8L552.0 115.0L552.1 115.3L552.2 115.5L552.4 115.8L552.5 116.0L552.6 116.3L552.7 116.5L552.9 116.7L553.0 117.0L553.1 117.2L553.2 117.5L553.3 117.7L553.5 118.0L553.6 118.2L553.7 118.5L553.8 118.7L554.0 119.0L554.1 119.2L554.2 119.4L554.3 119.7L554.4 119.9L554.5 120.2L554.7 120.4L554.8 120.7L554.9 120.9L555.0 121.2L555.1 121.4L555.2 121.6L555.4 121.9L555.5 122.1L555.6 122.4L555.7 122.6L555.8 122.9L555.9 123.1L556.0 123.4L556.2 123.6L556.3 123.9L556.4 124.1L556.5 124.3L556.6 124.6L556.7 124.8L556.8 125.1L556.9 125.3L557.1 125.6L557.2 125.8L557.3 126.1L557.4 126.3L557.5 126.6L557.6 126.8L557.7 127.1L557.8 127.3L557.9 127.5L558.0 127.8L558.2 128.0L558.3 128.3L558.4 128.5L558.5 128.8L558.6 129.0L558.7 129.3L558.8 129.5L558.9 129.8L559.0 130.0L559.1 130.2L559.2 130.5L559.3 130.7L559.4 131.0L559.5 131.2L559.6 131.5L559.7 131.7L559.9 132.0L560.0 132.2L560.1 132.5L560.2 132.7L560.3 133.0L560.4 133.2L560.5 133.4L560.6 133.7L560.7 133.9L560.8 134.2L560.9 134.4L561.0 134.7L561.1 134.9L561.2 135.2L561.3 135.4L561.4 135.7L561.5 135.9L561.6 136.2L561.7 136.4L561.8 136.7L561.9 136.9L562.0 137.1L562.1 137.4L562.2 137.6L562.3 137.9L562.4 138.1L562.5 138.4L562.6 138.6L562.7 138.9L562.8 139.1L562.9 139.4L563.0 139.6L563.1 139.9L563.2 140.1L563.3 140.3L563.5 140.6L563.6 140.8L563.7 141.1L563.8 141.3L563.9 141.6L564.0 141.8L564.1 142.1L564.2 142.3L564.3 142.6L564.4 142.8L564.5 143.1L564.6 143.3L564.7 143.5L564.8 143.8L564.9 144.0L565.0 144.3L565.1 144.5L565.2 144.8L565.3 145.0L565.4 145.3L565.5 145.5L565.6 145.8L565.7 146.0L565.8 146.3L565.9 146.5L566.0 146.8L566.1 147.0L566.2 147.2L566.3 147.5L566.4 147.7L566.5 148.0L566.6 148.2L566.7 148.5L566.8 148.7L566.9 149.0L567.0 149.2L567.1 149.5L567.2 149.7L567.3 150.0L567.4 150.2L567.5 150.4L567.6 150.7L567.8 150.9L567.9 151.2L568.0 151.4L568.1 151.7L568.2 151.9L568.3 152.2L568.4 152.4L568.5 152.7L568.6 152.9L568.7 153.2L568.8 153.4L568.9 153.6L569.0 153.9L569.1 154.1L569.2 154.4L569.3 154.6L569.4 154.9L569.6 155.1L569.7 155.4L569.8 155.6L569.9 155.9L570.0 156.1L570.1 156.4L570.2 156.6L570.3 156.8L570.4 157.1L570.5 157.3L570.6 157.6L570.8 157.8L570.9 158.1L571.0 158.3L571.1 158.6L571.2 158.8L571.3 159.1L571.4 159.3L571.5 159.5L571.7 159.8L571.8 160.0L571.9 160.3L572.0 160.5L572.1 160.8L572.2 161.0L572.3 161.3L572.5 161.5L572.6 161.8L572.7 162.0L572.8 162.2L572.9 162.5L573.0 162.7L573.2 163.0L573.3 163.2L573.4 163.5L573.5 163.7L573.6 164.0L573.7 164.2L573.9 164.5L574.0 164.7L574.1 164.9L574.2 165.2L574.3 165.4L574.5 165.7L574.6 165.9L574.7 166.2L574.8 166.4L575.0 166.7L575.1 166.9L575.2 167.1L575.3 167.4L575.5 167.6L575.6 167.9L575.7 168.1L575.8 168.4L576.0 168.6L576.1 168.9L576.2 169.1L576.3 169.3L576.5 169.6L576.6 169.8L576.7 170.1L576.9 170.3L577.0 170.6L577.1 170.8L577.2 171.0L577.4 171.3L577.5 171.5L577.6 171.8L577.8 172.0L577.9 172.3L578.0 172.5L578.2 172.8L578.3 173.0L578.4 173.2L578.6 173.5L578.7 173.7L578.9 174.0L579.0 174.2L579.1 174.5L579.3 174.7L579.4 174.9L579.6 175.2L579.7 175.4L579.8 175.7L580.0 175.9L580.1 176.2L580.3 176.4L580.4 176.6L580.6 176.9L580.7 177.1L580.9 177.4L581.0 177.6L581.2 177.9L581.3 178.1L581.4 178.3L581.6 178.6L581.7 178.8L581.9 179.1L582.0 179.3L582.1 179.6L582.3 179.8L582.4 180.0L582.5 180.3L582.6 180.5L582.8 180.8L582.9 181.0L583.1 181.3L583.2 181.5L583.4 181.7L583.6 182.0L583.7 182.2L583.9 182.5L584.1 182.7L584.2 182.9L584.4 183.2L584.6 183.4L584.7 183.7L584.9 183.9L585.1 184.1L585.3 184.4L585.4 184.6L585.6 184.8L585.7 185.1L585.9 185.3L586.0 185.6L586.2 185.8L586.3 186.1L586.5 186.3L586.6 186.5L586.8 186.8L586.9 187.0L587.1 187.3L587.2 187.5L587.3 187.8L587.5 188.0L587.6 188.2L587.8 188.5L587.9 188.7L588.0 189.0L588.2 189.2L588.3 189.5L588.4 189.7L588.6 190.0L588.7 190.2L588.8 190.4L589.0 190.7L589.1 190.9L589.3 191.2L589.4 191.4L589.5 191.7L589.7 191.9L589.8 192.1L590.0 192.4L590.1 192.6L590.3 192.9L590.4 193.1L590.6 193.3L590.8 193.6L590.9 193.8L591.1 194.1L591.3 194.3L591.4 194.5L591.6 194.8L591.8 195.0L592.0 195.3L592.1 195.5L592.3 195.7L592.5 196.0L592.7 196.2L592.9 196.4L593.1 196.7L593.3 196.9L593.5 197.2L593.7 197.4L593.9 197.6L594.1 197.9L594.4 198.1L594.6 198.3L594.8 198.6L595.1 198.8L595.3 199.0L595.6 199.2L595.8 199.5L596.1 199.7L596.3 199.9L596.6 200.1L596.9 200.3L597.2 200.5L597.5 200.7L597.8 201.0L598.1 201.2L598.4 201.4L598.7 201.6L599.1 201.8L599.4 202.0L599.8 202.2L600.1 202.4L600.5 202.6L600.9 202.8L601.2 203.0L601.6 203.2L602.0 203.4L602.4 203.6L602.8 203.8L603.2 204.0L603.6 204.1L604.0 204.3L604.4 204.5L604.8 204.7L605.2 204.8L605.6 205.0L606.1 205.1L606.5 205.3L607.0 205.5L607.4 205.6L607.9 205.8L608.3 205.9L608.8 206.1L609.3 206.2L609.8 206.4L610.3 206.5L610.8 206.6L611.3 206.8L611.8 206.9L612.3 207.0L612.9 207.1L613.4 207.2L613.9 207.3L614.4 207.4L615.0 207.5L615.5 207.6L616.0 207.6L616.6 207.7L617.2 207.8L617.7 207.8L618.3 207.9L618.9 207.9L619.4 208.0L620.0 208.0L620.6 208.1L621.1 208.2L621.7 208.2L622.3 208.3L622.8 208.3L623.4 208.4L624.0 208.4L624.5 208.5L625.1 208.5L625.6 208.6L626.2 208.7L626.7 208.7L627.3 208.8L627.8 208.9L628.4 209.0L629.0 209.0L629.5 209.1L630.1 209.2L630.6 209.2L631.2 209.3L631.8 209.3L632.3 209.3L632.9 209.4L633.5 209.4L634.1 209.4L634.6 209.5L635.2 209.5L635.8 209.5L636.3 209.6L636.9 209.6L637.5 209.7L638.1 209.7L638.6 209.7L639.2 209.8" stroke="#00f" stroke-width="2.30" fill="none" stroke-linejoin="round" stroke-linecap="round"/><path d="M639.2 209.8L643.8 209.9L648.4 209.9L653.0 209.9L657.7 209.9L662.3 209.9L666.9 209.9L671.5 209.9L676.1 209.9L680.7 209.9L685.4 209.9L690.0 209.9L694.6 209.9L699.2 209.9L703.8 209.9L708.4 209.9L713.1 209.9L717.7 209.9L722.3 209.9L726.9 209.9L731.5 209.9L736.1 209.9L740.8 209.9L745.4 209.9L750.0 209.9L754.6 209.9L759.2 209.9L763.9 209.9L768.5 209.9L773.1 209.9L777.7 209.9L782.3 209.9L787.0 209.9L791.6 209.9L796.2 209.9L800.8 209.9L805.4 209.9L810.1 209.9L814.7 209.9L819.3 209.9L823.9 209.9L828.5 209.9L833.2 209.9L837.8 209.9L840.1 209.9" stroke="#00f" stroke-width="1.50" fill="none" stroke-linecap="round"/>
<path d="M369.7 20.5L369.7 35.6L370.3 36.2L370.9 36.7L371.6 37.1L372.2 37.4L372.8 37.7L373.5 37.9L374.1 38.1L374.7 38.3L375.4 38.5L376.0 38.6L376.6 38.8L377.3 38.9L377.9 39.0L378.5 39.1L379.2 39.2L379.8 39.3L380.4 39.3L381.1 39.4L381.7 39.5L382.3 39.5L382.9 39.6L383.6 39.7L384.2 39.7L384.8 39.8L385.4 39.8L386.1 39.9L386.7 40.0L387.3 40.0L387.9 40.1L388.6 40.1L389.2 40.2L389.8 40.3L390.4 40.3L391.0 40.4L391.7 40.4L392.3 40.5L392.9 40.6L393.5 40.6L394.1 40.7L394.8 40.8L395.4 40.8L396.0 40.9L396.6 41.0L397.2 41.0L397.9 41.1L398.5 41.2L399.1 41.2L399.7 41.3L400.3 41.4L400.9 41.5L401.5 41.5L402.2 41.6L402.8 41.7L403.4 41.8L404.0 41.8L404.6 41.9L405.2 42.0L405.8 42.1L406.4 42.1L407.1 42.2L407.7 42.3L408.3 42.4L408.9 42.5L409.5 42.5L410.1 42.6L410.7 42.7L411.3 42.8L411.9 42.9L412.5 42.9L413.1 43.0L413.7 43.1L414.3 43.2L414.9 43.3L415.5 43.3L416.1 43.4L416.7 43.5L417.3 43.6L417.9 43.7L418.5 43.8L419.2 43.8L419.8 43.9L420.4 44.0L421.0 44.1L421.6 44.2L422.2 44.3L422.7 44.4L423.3 44.5L423.9 44.6L424.5 44.7L425.1 44.7L425.7 44.8L426.3 44.9L426.9 45.0L427.5 45.1L428.1 45.2L428.7 45.3L429.3 45.4L429.9 45.5L430.5 45.6L431.1 45.7L431.7 45.8L432.3 45.9L432.8 46.0L433.4 46.1L434.0 46.2L434.6 46.3L435.2 46.4L435.8 46.5L436.4 46.6L436.9 46.7L437.5 46.8L438.1 46.9L438.7 47.0L439.3 47.1L439.8 47.2L440.4 47.4L441.0 47.5L441.6 47.6L442.2 47.7L442.7 47.8L443.3 47.9L443.9 48.0L444.4 48.1L445.0 48.2L445.6 48.3L446.1 48.5L446.7 48.6L447.3 48.7L447.8 48.8L448.4 48.9L449.0 49.1L449.5 49.2L450.1 49.3L450.7 49.4L451.2 49.5L451.8 49.7L452.3 49.8L452.9 49.9L453.4 50.0L454.0 50.2L454.5 50.3L455.1 50.4L455.6 50.6L456.2 50.7L456.7 50.8L457.3 50.9L457.8 51.1L458.4 51.2L458.9 51.3L459.5 51.5L460.0 51.6L460.6 51.7L461.1 51.9L461.7 52.0L462.2 52.1L462.7 52.3L463.3 52.4L463.8 52.5L464.4 52.7L464.9 52.8L465.4 52.9L466.0 53.1L466.5 53.2L467.0 53.4L467.6 53.5L468.1 53.6L468.6 53.8L469.2 53.9L469.7 54.1L470.2 54.2L470.7 54.4L471.2 54.5L471.7 54.7L472.3 54.8L472.8 55.0L473.3 55.1L473.8 55.3L474.3 55.4L474.7 55.6L475.2 55.8L475.7 55.9L476.2 56.1L476.7 56.3L477.2 56.4L477.6 56.6L478.1 56.7L478.6 56.9L479.1 57.1L479.6 57.2L480.0 57.4L480.5 57.6L481.0 57.8L481.4 57.9L481.9 58.1L482.4 58.3L482.9 58.4L483.3 58.6L483.8 58.8L484.2 59.0L484.7 59.1L485.2 59.3L485.6 59.5L486.1 59.7L486.5 59.8L487.0 60.0L487.4 60.2L487.9 60.4L488.3 60.5L488.8 60.7L489.2 60.9L489.7 61.1L490.1 61.3L490.5 61.5L491.0 61.6L491.4 61.8L491.8 62.0L492.3 62.2L492.7 62.4L493.1 62.6L493.5 62.7L494.0 62.9L494.4 63.1L494.8 63.3L495.2 63.5L495.6 63.7L496.1 63.9L496.5 64.1L496.9 64.3L497.3 64.5L497.7 64.7L498.1 64.8L498.5 65.0L498.9 65.2L499.4 65.4L499.8 65.6L500.2 65.8L500.6 66.0L501.0 66.2L501.4 66.4L501.8 66.6L502.2 66.8L502.6 67.0L503.0 67.2L503.4 67.4L503.8 67.6L504.2 67.8L504.5 68.0L504.9 68.2L505.3 68.4L505.7 68.6L506.1 68.8L506.5 69.0L506.8 69.2L507.2 69.4L507.6 69.6L507.9 69.8L508.3 70.0L508.7 70.2L509.0 70.4L509.4 70.6L509.8 70.8L510.1 71.0L510.5 71.2L510.8 71.4L511.2 71.6L511.5 71.9L511.9 72.1L512.2 72.3L512.5 72.5L512.9 72.7L513.2 72.9L513.6 73.1L513.9 73.3L514.2 73.6L514.6 73.8L514.9 74.0L515.2 74.2L515.6 74.4L515.9 74.6L516.3 74.8L516.6 75.0L516.9 75.3L517.3 75.5L517.6 75.7L518.0 75.9L518.3 76.1L518.6 76.3L519.0 76.5L519.3 76.8L519.6 77.0L520.0 77.2L520.3 77.4L520.6 77.6L521.0 77.8L521.3 78.0L521.6 78.3L522.0 78.5L522.3 78.7L522.6 78.9L522.9 79.1L523.3 79.3L523.6 79.5L523.9 79.8L524.2 80.0L524.4 80.2L524.7 80.4L525.0 80.7L525.3 80.9L525.5 81.1L525.8 81.3L526.0 81.6L526.3 81.8L526.5 82.0L526.8 82.3L527.0 82.5L527.3 82.7L527.5 83.0L527.8 83.2L528.0 83.4L528.2 83.7L528.5 83.9L528.7 84.1L529.0 84.4L529.2 84.6L529.4 84.8L529.7 85.1L529.9 85.3L530.1 85.5L530.3 85.8L530.6 86.0L530.8 86.2L531.0 86.5L531.2 86.7L531.4 86.9L531.7 87.2L531.9 87.4L532.1 87.6L532.3 87.9L532.5 88.1L532.7 88.4L532.9 88.6L533.1 88.8L533.4 89.1L533.6 89.3L533.8 89.5L534.0 89.8L534.2 90.0L534.4 90.2L534.6 90.5L534.8 90.7L535.0 91.0L535.2 91.2L535.4 91.4L535.6 91.7L535.7 91.9L535.9 92.2L536.1 92.4L536.3 92.6L536.5 92.9L536.7 93.1L536.9 93.4L537.0 93.6L537.2 93.8L537.4 94.1L537.6 94.3L537.8 94.6L537.9 94.8L538.1 95.0L538.3 95.3L538.5 95.5L538.6 95.8L538.8 96.0L539.0 96.2L539.2 96.5L539.3 96.7L539.5 97.0L539.7 97.2L539.8 97.4L540.0 97.7L540.2 97.9L540.3 98.2L540.5 98.4L540.7 98.7L540.8 98.9L541.0 99.1L541.2 99.4L541.3 99.6L541.5 99.9L541.6 100.1L541.8 100.3L542.0 100.6L542.1 100.8L542.3 101.1L542.4 101.3L542.6 101.6L542.7 101.8L542.9 102.0L543.1 102.3L543.2 102.5L543.4 102.8L543.5 103.0L543.7 103.3L543.8 103.5L544.0 103.7L544.1 104.0L544.3 104.2L544.4 104.5L544.6 104.7L544.7 105.0L544.9 105.2L545.0 105.5L545.2 105.7L545.3 105.9L545.4 106.2L545.6 106.4L545.7 106.7L545.9 106.9L546.0 107.2L546.2 107.4L546.3 107.6L546.4 107.9L546.6 108.1L546.7 108.4L546.9 108.6L547.0 108.9L547.1 109.1L547.3 109.4L547.4 109.6L547.6 109.8L547.7 110.1L547.8 110.3L548.0 110.6L548.1 110.8L548.2 111.1L548.4 111.3L548.5 111.6L548.6 111.8L548.8 112.1L548.9 112.3L549.0 112.5L549.2 112.8L549.3 113.0L549.4 113.3L549.5 113.5L549.7 113.8L549.8 114.0L549.9 114.3L550.1 114.5L550.2 114.7L550.3 115.0L550.4 115.2L550.6 115.5L550.7 115.7L550.8 116.0L550.9 116.2L551.1 116.5L551.2 116.7L551.3 117.0L551.4 117.2L551.5 117.4L551.7 117.7L551.8 117.9L551.9 118.2L552.0 118.4L552.1 118.7L552.3 118.9L552.4 119.2L552.5 119.4L552.6 119.7L552.7 119.9L552.9 120.2L553.0 120.4L553.1 120.6L553.2 120.9L553.3 121.1L553.4 121.4L553.5 121.6L553.7 121.9L553.8 122.1L553.9 122.4L554.0 122.6L554.1 122.9L554.2 123.1L554.3 123.4L554.5 123.6L554.6 123.8L554.7 124.1L554.8 124.3L554.9 124.6L555.0 124.8L555.1 125.1L555.2 125.3L555.3 125.6L555.5 125.8L555.6 126.1L555.7 126.3L555.8 126.6L555.9 126.8L556.0 127.1L556.1 127.3L556.2 127.5L556.3 127.8L556.4 128.0L556.5 128.3L556.7 128.5L556.8 128.8L556.9 129.0L557.0 129.3L557.1 129.5L557.2 129.8L557.3 130.0L557.4 130.3L557.5 130.5L557.6 130.8L557.7 131.0L557.8 131.2L557.9 131.5L558.0 131.7L558.1 132.0L558.2 132.2L558.3 132.5L558.4 132.7L558.5 133.0L558.6 133.2L558.8 133.5L558.9 133.7L559.0 134.0L559.1 134.2L559.2 134.5L559.3 134.7L559.4 135.0L559.5 135.2L559.6 135.4L559.7 135.7L559.8 135.9L559.9 136.2L560.0 136.4L560.1 136.7L560.2 136.9L560.3 137.2L560.4 137.4L560.5 137.7L560.6 137.9L560.7 138.2L560.8 138.4L560.9 138.7L561.0 138.9L561.1 139.2L561.2 139.4L561.3 139.6L561.4 139.9L561.5 140.1L561.6 140.4L561.7 140.6L561.8 140.9L561.9 141.1L562.0 141.4L562.1 141.6L562.2 141.9L562.3 142.1L562.4 142.4L562.5 142.6L562.6 142.9L562.7 143.1L562.8 143.4L562.9 143.6L563.0 143.9L563.1 144.1L563.2 144.3L563.3 144.6L563.4 144.8L563.5 145.1L563.6 145.3L563.7 145.6L563.8 145.8L563.9 146.1L564.0 146.3L564.1 146.6L564.2 146.8L564.3 147.1L564.4 147.3L564.5 147.6L564.6 147.8L564.7 148.1L564.8 148.3L564.9 148.5L565.0 148.8L565.2 149.0L565.3 149.3L565.4 149.5L565.5 149.8L565.6 150.0L565.7 150.3L565.8 150.5L565.9 150.8L566.0 151.0L566.1 151.3L566.2 151.5L566.3 151.8L566.4 152.0L566.5 152.3L566.6 152.5L566.7 152.7L566.8 153.0L566.9 153.2L567.0 153.5L567.1 153.7L567.3 154.0L567.4 154.2L567.5 154.5L567.6 154.7L567.7 155.0L567.8 155.2L567.9 155.5L568.0 155.7L568.1 156.0L568.2 156.2L568.4 156.4L568.5 156.7L568.6 156.9L568.7 157.2L568.8 157.4L568.9 157.7L569.0 157.9L569.2 158.2L569.3 158.4L569.4 158.7L569.5 158.9L569.6 159.2L569.7 159.4L569.8 159.6L570.0 159.9L570.1 160.1L570.2 160.4L570.3 160.6L570.4 160.9L570.5 161.1L570.7 161.4L570.8 161.6L570.9 161.9L571.0 162.1L571.1 162.4L571.2 162.6L571.4 162.8L571.5 163.1L571.6 163.3L571.7 163.6L571.9 163.8L572.0 164.1L572.1 164.3L572.2 164.6L572.3 164.8L572.5 165.1L572.6 165.3L572.7 165.5L572.8 165.8L573.0 166.0L573.1 166.3L573.2 166.5L573.3 166.8L573.5 167.0L573.6 167.3L573.7 167.5L573.8 167.8L574.0 168.0L574.1 168.2L574.2 168.5L574.4 168.7L574.5 169.0L574.6 169.2L574.8 169.5L574.9 169.7L575.0 170.0L575.2 170.2L575.3 170.4L575.4 170.7L575.6 170.9L575.7 171.2L575.8 171.4L576.0 171.7L576.1 171.9L576.2 172.2L576.4 172.4L576.5 172.7L576.6 172.9L576.8 173.1L576.9 173.4L577.1 173.6L577.2 173.9L577.3 174.1L577.5 174.4L577.6 174.6L577.8 174.8L577.9 175.1L578.1 175.3L578.2 175.6L578.3 175.8L578.5 176.1L578.6 176.3L578.8 176.6L578.9 176.8L579.1 177.0L579.2 177.3L579.4 177.5L579.5 177.8L579.7 178.0L579.8 178.3L580.0 178.5L580.1 178.7L580.3 179.0L580.4 179.2L580.5 179.5L580.7 179.7L580.8 180.0L580.9 180.2L581.1 180.5L581.2 180.7L581.4 180.9L581.5 181.2L581.7 181.4L581.8 181.7L582.0 181.9L582.2 182.2L582.4 182.4L582.5 182.6L582.7 182.9L582.9 183.1L583.1 183.4L583.3 183.6L583.5 183.8L583.6 184.1L583.8 184.3L584.0 184.6L584.2 184.8L584.3 185.0L584.5 185.3L584.7 185.5L584.8 185.8L585.0 186.0L585.1 186.3L585.3 186.5L585.4 186.7L585.6 187.0L585.7 187.2L585.9 187.5L586.0 187.7L586.2 188.0L586.3 188.2L586.5 188.4L586.6 188.7L586.8 188.9L586.9 189.2L587.1 189.4L587.2 189.7L587.4 189.9L587.5 190.2L587.7 190.4L587.8 190.6L588.0 190.9L588.1 191.1L588.3 191.4L588.4 191.6L588.6 191.9L588.7 192.1L588.9 192.3L589.0 192.6L589.2 192.8L589.4 193.1L589.5 193.3L589.7 193.6L589.9 193.8L590.1 194.0L590.2 194.3L590.4 194.5L590.6 194.7L590.8 195.0L591.0 195.2L591.2 195.5L591.4 195.7L591.6 195.9L591.8 196.2L592.0 196.4L592.2 196.7L592.4 196.9L592.6 197.1L592.8 197.4L593.0 197.6L593.3 197.9L593.5 198.1L593.7 198.3L594.0 198.6L594.2 198.8L594.5 199.0L594.8 199.2L595.0 199.5L595.3 199.7L595.6 199.9L595.9 200.1L596.2 200.3L596.5 200.5L596.8 200.8L597.2 201.0L597.5 201.2L597.9 201.4L598.3 201.6L598.6 201.8L599.0 202.0L599.4 202.2L599.8 202.4L600.2 202.6L600.7 202.8L601.1 203.0L601.5 203.2L601.9 203.4L602.4 203.6L602.8 203.8L603.3 203.9L603.7 204.1L604.2 204.3L604.7 204.5L605.1 204.6L605.6 204.8L606.0 205.0L606.5 205.1L607.0 205.3L607.5 205.4L608.0 205.6L608.5 205.7L609.0 205.9L609.6 206.0L610.1 206.2L610.7 206.3L611.2 206.5L611.8 206.6L612.3 206.7L612.9 206.9L613.5 207.0L614.1 207.1L614.6 207.2L615.2 207.3L615.8 207.4L616.4 207.5L617.0 207.5L617.6 207.6L618.2 207.7L618.8 207.8L619.4 207.8L620.0 207.9L620.7 207.9L621.3 208.0L621.9 208.1L622.6 208.1L623.2 208.2L623.8 208.2L624.4 208.3L625.1 208.3L625.7 208.4L626.3 208.5L626.9 208.5L627.6 208.6L628.2 208.6L628.8 208.7L629.4 208.8L630.0 208.9L630.6 209.0L631.2 209.0L631.8 209.1L632.5 209.2L633.1 209.2L633.7 209.3L634.3 209.3L635.0 209.3L635.6 209.4L636.2 209.4L636.9 209.5L637.5 209.5L638.1 209.5L638.8 209.6L639.4 209.6L640.0 209.6L640.7 209.7L641.3 209.7L641.9 209.8" stroke="#f00" stroke-width="2.30" fill="none" stroke-linejoin="round" stroke-linecap="round"/><path d="M641.9 209.8L647.1 209.9L652.2 209.9L657.3 209.9L662.4 209.9L667.5 209.9L672.7 209.9L677.8 209.9L682.9 209.9L688.0 209.9L693.1 209.9L698.3 209.9L703.4 209.9L708.5 209.9L713.6 209.9L718.8 209.9L723.9 209.9L729.0 209.9L734.1 209.9L739.2 209.9L744.4 209.9L749.5 209.9L754.6 209.9L759.7 209.9L764.9 209.9L770.0 209.9L775.1 209.9L780.2 209.9L785.4 209.9L790.5 209.9L795.6 209.9L800.7 209.9L805.9 209.9L811.0 209.9L816.1 209.9L821.2 209.9L826.4 209.9L831.5 209.9L836.6 209.9L841.7 209.9L846.9 209.9L852.0 209.9L857.1 209.9L862.3 209.9L867.4 209.9L872.5 209.9L877.6 209.9L882.8 209.9L887.9 209.9L891.8 209.9" stroke="#f00" stroke-width="1.50" fill="none" stroke-linecap="round"/>
<path d="M369.7 20.5L369.7 35.7L370.4 36.4L371.1 37.0L371.8 37.5L372.5 37.8L373.2 38.1L373.9 38.4L374.6 38.5L375.3 38.7L376.0 38.9L376.7 39.0L377.4 39.1L378.1 39.2L378.8 39.2L379.5 39.3L380.2 39.4L380.9 39.5L381.6 39.5L382.3 39.6L383.0 39.6L383.7 39.7L384.4 39.8L385.1 39.8L385.7 39.9L386.4 39.9L387.1 40.0L387.8 40.1L388.5 40.1L389.2 40.2L389.9 40.3L390.5 40.3L391.2 40.4L391.9 40.5L392.6 40.5L393.3 40.6L394.0 40.7L394.6 40.7L395.3 40.8L396.0 40.9L396.7 41.0L397.4 41.0L398.1 41.1L398.7 41.2L399.4 41.3L400.1 41.3L400.8 41.4L401.4 41.5L402.1 41.6L402.8 41.7L403.5 41.7L404.1 41.8L404.8 41.9L405.5 42.0L406.2 42.1L406.8 42.2L407.5 42.3L408.2 42.3L408.8 42.4L409.5 42.5L410.2 42.6L410.8 42.7L411.5 42.8L412.2 42.9L412.8 42.9L413.5 43.0L414.2 43.1L414.8 43.2L415.5 43.3L416.1 43.4L416.8 43.5L417.5 43.6L418.1 43.7L418.8 43.8L419.4 43.9L420.1 44.0L420.7 44.0L421.4 44.1L422.1 44.2L422.7 44.3L423.4 44.4L424.0 44.5L424.7 44.6L425.3 44.7L426.0 44.8L426.6 44.9L427.3 45.0L427.9 45.1L428.6 45.3L429.2 45.4L429.9 45.5L430.5 45.6L431.2 45.7L431.8 45.8L432.5 45.9L433.1 46.0L433.7 46.1L434.4 46.2L435.0 46.3L435.7 46.4L436.3 46.6L436.9 46.7L437.6 46.8L438.2 46.9L438.8 47.0L439.5 47.1L440.1 47.2L440.7 47.4L441.3 47.5L442.0 47.6L442.6 47.7L443.2 47.8L443.8 47.9L444.5 48.1L445.1 48.2L445.7 48.3L446.3 48.4L446.9 48.6L447.5 48.7L448.2 48.8L448.8 48.9L449.4 49.1L450.0 49.2L450.6 49.3L451.2 49.5L451.8 49.6L452.4 49.7L453.0 49.9L453.6 50.0L454.2 50.1L454.8 50.3L455.4 50.4L456.0 50.5L456.6 50.7L457.2 50.8L457.8 51.0L458.4 51.1L458.9 51.2L459.5 51.4L460.1 51.5L460.7 51.7L461.3 51.8L461.9 52.0L462.5 52.1L463.0 52.2L463.6 52.4L464.2 52.5L464.8 52.7L465.4 52.8L465.9 53.0L466.5 53.1L467.1 53.3L467.7 53.4L468.2 53.6L468.8 53.7L469.4 53.9L469.9 54.0L470.5 54.2L471.0 54.3L471.6 54.5L472.1 54.6L472.7 54.8L473.2 55.0L473.8 55.1L474.3 55.3L474.8 55.5L475.3 55.6L475.9 55.8L476.4 56.0L476.9 56.1L477.4 56.3L477.9 56.5L478.4 56.7L479.0 56.8L479.5 57.0L480.0 57.2L480.5 57.4L481.0 57.5L481.5 57.7L482.0 57.9L482.5 58.1L483.0 58.2L483.5 58.4L484.0 58.6L484.5 58.8L485.0 59.0L485.5 59.1L486.0 59.3L486.5 59.5L486.9 59.7L487.4 59.9L487.9 60.1L488.4 60.2L488.9 60.4L489.3 60.6L489.8 60.8L490.3 61.0L490.8 61.2L491.2 61.4L491.7 61.6L492.2 61.7L492.6 61.9L493.1 62.1L493.5 62.3L494.0 62.5L494.5 62.7L494.9 62.9L495.4 63.1L495.8 63.3L496.3 63.5L496.7 63.7L497.1 63.9L497.6 64.1L498.0 64.3L498.5 64.5L498.9 64.7L499.3 64.9L499.8 65.1L500.2 65.3L500.6 65.5L501.0 65.7L501.5 65.9L501.9 66.1L502.3 66.3L502.7 66.5L503.1 66.7L503.5 66.9L503.9 67.1L504.3 67.3L504.8 67.5L505.2 67.7L505.6 67.9L505.9 68.1L506.3 68.3L506.7 68.5L507.1 68.7L507.5 68.9L507.9 69.2L508.3 69.4L508.7 69.6L509.0 69.8L509.4 70.0L509.8 70.2L510.2 70.4L510.5 70.6L510.9 70.9L511.2 71.1L511.6 71.3L512.0 71.5L512.3 71.7L512.7 71.9L513.0 72.2L513.4 72.4L513.7 72.6L514.1 72.8L514.4 73.0L514.7 73.3L515.1 73.5L515.4 73.7L515.7 73.9L516.1 74.1L516.4 74.4L516.7 74.6L517.0 74.8L517.4 75.0L517.7 75.3L518.0 75.5L518.3 75.7L518.6 75.9L518.9 76.2L519.2 76.4L519.5 76.6L519.8 76.8L520.1 77.1L520.4 77.3L520.7 77.5L521.0 77.8L521.3 78.0L521.6 78.2L521.9 78.4L522.1 78.7L522.4 78.9L522.7 79.1L523.0 79.4L523.3 79.6L523.5 79.8L523.8 80.1L524.1 80.3L524.3 80.5L524.6 80.8L524.8 81.0L525.1 81.2L525.4 81.5L525.6 81.7L525.9 81.9L526.1 82.2L526.3 82.4L526.6 82.6L526.8 82.9L527.1 83.1L527.3 83.3L527.6 83.6L527.8 83.8L528.0 84.0L528.3 84.3L528.5 84.5L528.7 84.8L528.9 85.0L529.2 85.2L529.4 85.5L529.6 85.7L529.8 85.9L530.0 86.2L530.3 86.4L530.5 86.7L530.7 86.9L530.9 87.1L531.1 87.4L531.3 87.6L531.5 87.9L531.7 88.1L531.9 88.3L532.1 88.6L532.3 88.8L532.5 89.1L532.7 89.3L532.9 89.5L533.1 89.8L533.3 90.0L533.5 90.3L533.7 90.5L533.9 90.7L534.1 91.0L534.3 91.2L534.5 91.5L534.6 91.7L534.8 92.0L535.0 92.2L535.2 92.4L535.4 92.7L535.6 92.9L535.7 93.2L535.9 93.4L536.1 93.6L536.3 93.9L536.5 94.1L536.6 94.4L536.8 94.6L537.0 94.9L537.2 95.1L537.3 95.3L537.5 95.6L537.7 95.8L537.9 96.1L538.0 96.3L538.2 96.6L538.4 96.8L538.5 97.0L538.7 97.3L538.9 97.5L539.1 97.8L539.2 98.0L539.4 98.3L539.5 98.5L539.7 98.7L539.9 99.0L540.0 99.2L540.2 99.5L540.4 99.7L540.5 100.0L540.7 100.2L540.8 100.5L541.0 100.7L541.2 100.9L541.3 101.2L541.5 101.4L541.6 101.7L541.8 101.9L541.9 102.2L542.1 102.4L542.3 102.7L542.4 102.9L542.6 103.1L542.7 103.4L542.9 103.6L543.0 103.9L543.2 104.1L543.3 104.4L543.5 104.6L543.6 104.9L543.8 105.1L543.9 105.3L544.1 105.6L544.2 105.8L544.3 106.1L544.5 106.3L544.6 106.6L544.8 106.8L544.9 107.1L545.1 107.3L545.2 107.5L545.3 107.8L545.5 108.0L545.6 108.3L545.8 108.5L545.9 108.8L546.0 109.0L546.2 109.3L546.3 109.5L546.4 109.8L546.6 110.0L546.7 110.3L546.9 110.5L547.0 110.7L547.1 111.0L547.3 111.2L547.4 111.5L547.5 111.7L547.7 112.0L547.8 112.2L547.9 112.5L548.0 112.7L548.2 113.0L548.3 113.2L548.4 113.4L548.6 113.7L548.7 113.9L548.8 114.2L548.9 114.4L549.1 114.7L549.2 114.9L549.3 115.2L549.4 115.4L549.6 115.7L549.7 115.9L549.8 116.2L549.9 116.4L550.1 116.7L550.2 116.9L550.3 117.1L550.4 117.4L550.6 117.6L550.7 117.9L550.8 118.1L550.9 118.4L551.0 118.6L551.2 118.9L551.3 119.1L551.4 119.4L551.5 119.6L551.6 119.9L551.7 120.1L551.9 120.4L552.0 120.6L552.1 120.8L552.2 121.1L552.3 121.3L552.4 121.6L552.6 121.8L552.7 122.1L552.8 122.3L552.9 122.6L553.0 122.8L553.1 123.1L553.2 123.3L553.3 123.6L553.5 123.8L553.6 124.1L553.7 124.3L553.8 124.6L553.9 124.8L554.0 125.1L554.1 125.3L554.2 125.5L554.3 125.8L554.5 126.0L554.6 126.3L554.7 126.5L554.8 126.8L554.9 127.0L555.0 127.3L555.1 127.5L555.2 127.8L555.3 128.0L555.4 128.3L555.5 128.5L555.6 128.8L555.7 129.0L555.9 129.3L556.0 129.5L556.1 129.8L556.2 130.0L556.3 130.2L556.4 130.5L556.5 130.7L556.6 131.0L556.7 131.2L556.8 131.5L556.9 131.7L557.0 132.0L557.1 132.2L557.2 132.5L557.3 132.7L557.4 133.0L557.5 133.2L557.6 133.5L557.7 133.7L557.8 134.0L557.9 134.2L558.0 134.5L558.1 134.7L558.2 135.0L558.3 135.2L558.4 135.5L558.5 135.7L558.6 135.9L558.8 136.2L558.9 136.4L559.0 136.7L559.1 136.9L559.2 137.2L559.3 137.4L559.4 137.7L559.5 137.9L559.6 138.2L559.7 138.4L559.8 138.7L559.9 138.9L560.0 139.2L560.1 139.4L560.2 139.7L560.3 139.9L560.4 140.2L560.5 140.4L560.6 140.7L560.7 140.9L560.8 141.2L560.9 141.4L561.0 141.6L561.1 141.9L561.2 142.1L561.3 142.4L561.4 142.6L561.5 142.9L561.6 143.1L561.7 143.4L561.8 143.6L561.9 143.9L562.0 144.1L562.1 144.4L562.2 144.6L562.3 144.9L562.4 145.1L562.5 145.4L562.6 145.6L562.7 145.9L562.8 146.1L562.9 146.4L563.0 146.6L563.1 146.9L563.2 147.1L563.3 147.3L563.4 147.6L563.5 147.8L563.6 148.1L563.7 148.3L563.8 148.6L563.9 148.8L564.0 149.1L564.1 149.3L564.2 149.6L564.3 149.8L564.4 150.1L564.5 150.3L564.6 150.6L564.7 150.8L564.8 151.1L564.9 151.3L565.0 151.6L565.1 151.8L565.2 152.1L565.4 152.3L565.5 152.6L565.6 152.8L565.7 153.0L565.8 153.3L565.9 153.5L566.0 153.8L566.1 154.0L566.2 154.3L566.3 154.5L566.4 154.8L566.5 155.0L566.6 155.3L566.7 155.5L566.8 155.8L566.9 156.0L567.1 156.3L567.2 156.5L567.3 156.8L567.4 157.0L567.5 157.3L567.6 157.5L567.7 157.7L567.8 158.0L567.9 158.2L568.0 158.5L568.1 158.7L568.3 159.0L568.4 159.2L568.5 159.5L568.6 159.7L568.7 160.0L568.8 160.2L568.9 160.5L569.0 160.7L569.2 161.0L569.3 161.2L569.4 161.5L569.5 161.7L569.6 162.0L569.7 162.2L569.8 162.4L570.0 162.7L570.1 162.9L570.2 163.2L570.3 163.4L570.4 163.7L570.5 163.9L570.7 164.2L570.8 164.4L570.9 164.7L571.0 164.9L571.1 165.2L571.3 165.4L571.4 165.7L571.5 165.9L571.6 166.1L571.7 166.4L571.9 166.6L572.0 166.9L572.1 167.1L572.2 167.4L572.4 167.6L572.5 167.9L572.6 168.1L572.7 168.4L572.9 168.6L573.0 168.9L573.1 169.1L573.2 169.4L573.4 169.6L573.5 169.8L573.6 170.1L573.8 170.3L573.9 170.6L574.0 170.8L574.1 171.1L574.3 171.3L574.4 171.6L574.5 171.8L574.7 172.1L574.8 172.3L574.9 172.6L575.1 172.8L575.2 173.0L575.3 173.3L575.5 173.5L575.6 173.8L575.7 174.0L575.9 174.3L576.0 174.5L576.2 174.8L576.3 175.0L576.4 175.3L576.6 175.5L576.7 175.7L576.9 176.0L577.0 176.2L577.2 176.5L577.3 176.7L577.4 177.0L577.6 177.2L577.7 177.5L577.9 177.7L578.0 178.0L578.2 178.2L578.3 178.4L578.5 178.7L578.6 178.9L578.7 179.2L578.9 179.4L579.0 179.7L579.1 179.9L579.2 180.2L579.4 180.4L579.5 180.7L579.7 180.9L579.8 181.1L579.9 181.4L580.1 181.6L580.3 181.9L580.4 182.1L580.6 182.4L580.8 182.6L580.9 182.9L581.1 183.1L581.3 183.3L581.4 183.6L581.6 183.8L581.8 184.1L582.0 184.3L582.1 184.6L582.3 184.8L582.5 185.0L582.6 185.3L582.8 185.5L583.0 185.8L583.1 186.0L583.3 186.3L583.4 186.5L583.6 186.7L583.8 187.0L583.9 187.2L584.1 187.5L584.2 187.7L584.4 188.0L584.6 188.2L584.7 188.5L584.9 188.7L585.0 189.0L585.2 189.2L585.4 189.4L585.5 189.7L585.7 189.9L585.8 190.2L586.0 190.4L586.2 190.7L586.3 190.9L586.5 191.2L586.7 191.4L586.8 191.6L587.0 191.9L587.2 192.1L587.4 192.4L587.6 192.6L587.7 192.8L587.9 193.1L588.1 193.3L588.3 193.6L588.5 193.8L588.7 194.0L588.9 194.3L589.1 194.5L589.3 194.8L589.5 195.0L589.7 195.2L590.0 195.5L590.2 195.7L590.4 196.0L590.6 196.2L590.9 196.4L591.1 196.7L591.3 196.9L591.6 197.2L591.9 197.4L592.1 197.6L592.4 197.9L592.6 198.1L592.9 198.3L593.2 198.6L593.5 198.8L593.8 199.0L594.1 199.2L594.4 199.5L594.7 199.7L595.0 199.9L595.4 200.1L595.7 200.3L596.1 200.5L596.4 200.7L596.8 201.0L597.2 201.2L597.6 201.4L598.0 201.6L598.4 201.8L598.9 202.0L599.3 202.3L599.7 202.5L600.2 202.7L600.6 202.9L601.1 203.1L601.6 203.3L602.1 203.5L602.6 203.6L603.0 203.8L603.5 204.0L604.0 204.2L604.6 204.3L605.1 204.5L605.6 204.7L606.1 204.8L606.6 204.9L607.2 205.1L607.8 205.2L608.3 205.3L608.9 205.5L609.5 205.6L610.1 205.7L610.8 205.8L611.4 206.0L612.0 206.1L612.7 206.2L613.4 206.3L614.0 206.4L614.7 206.5L615.4 206.6L616.1 206.7L616.7 206.8L617.4 206.9L618.1 207.0L618.8 207.1L619.5 207.1L620.2 207.2L620.9 207.3L621.5 207.4L622.2 207.4" stroke="#000" stroke-width="2.30" fill="none" stroke-linejoin="round"/><path d="M622.0 206.25L624.7 206.41L627.5 206.58L630.2 206.74L632.9 206.90L635.7 207.05L638.4 207.19L641.2 207.33L643.9 207.40L646.7 207.47L649.4 207.53L652.2 207.60L654.9 207.66L657.7 207.73L660.4 207.79L663.2 207.85L665.9 207.89L668.6 207.92L671.4 207.96L674.1 207.99L676.9 208.03L679.6 208.06L682.4 208.10L685.1 208.13L687.9 208.16L690.6 208.20L693.4 208.23L696.1 208.27L698.9 208.30L701.6 208.34L704.4 208.37L707.1 208.40L709.8 208.43L712.6 208.45L715.3 208.48L718.1 208.51L720.8 208.54L723.6 208.57L726.3 208.60L729.1 208.63L731.8 208.66L734.6 208.68L737.3 208.71L740.1 208.74L742.8 208.77L745.6 208.79L748.3 208.80L751.0 208.82L753.8 208.84L756.5 208.85L759.3 208.87L762.0 208.89L764.8 208.90L767.5 208.92L770.3 208.93L773.0 208.95L775.8 208.97L778.5 208.98L781.3 209.00L784.0 209.00L786.7 209.00L789.5 209.00L792.2 209.00L795.0 209.00L797.7 209.00L800.5 209.00L803.2 209.00L806.0 209.00L808.7 209.00L811.5 209.00L814.2 209.00L817.0 209.00L819.7 209.00L822.5 209.00L825.2 209.00L827.9 209.00L830.7 209.00L833.4 209.00L836.2 209.00L838.9 209.00L841.7 209.00L844.4 209.00L847.2 209.00L849.9 209.00L852.7 209.00L855.4 209.00L858.2 209.00L860.9 209.00L863.7 209.00L866.4 209.00L869.1 209.00L871.9 209.00L874.6 209.00L877.4 209.00L880.1 209.00L882.9 209.00L885.6 209.00L888.4 209.00L891.1 209.00L893.9 209.00L896.6 209.00L899.4 209.00L902.1 209.00L904.8 209.00L907.6 209.00L910.3 209.00L913.1 209.00L915.8 209.00L918.6 209.00L921.3 209.00L924.1 209.00L926.8 209.00L929.6 209.00L932.3 209.00L935.1 209.00L937.8 209.00L940.6 209.00L943.3 209.00L946.0 209.00L948.8 209.00L948.8 210.86L946.0 210.86L943.3 210.86L940.6 210.86L937.8 210.86L935.1 210.86L932.3 210.86L929.6 210.86L926.8 210.86L924.1 210.86L921.3 210.86L918.6 210.86L915.8 210.86L913.1 210.86L910.3 210.86L907.6 210.86L904.8 210.86L902.1 210.86L899.4 210.86L896.6 210.86L893.9 210.86L891.1 210.86L888.4 210.86L885.6 210.86L882.9 210.86L880.1 210.86L877.4 210.86L874.6 210.86L871.9 210.86L869.1 210.86L866.4 210.86L863.7 210.86L860.9 210.86L858.2 210.86L855.4 210.86L852.7 210.86L849.9 210.86L847.2 210.86L844.4 210.86L841.7 210.86L838.9 210.86L836.2 210.86L833.4 210.86L830.7 210.86L827.9 210.86L825.2 210.86L822.5 210.86L819.7 210.86L817.0 210.86L814.2 210.86L811.5 210.86L808.7 210.86L806.0 210.86L803.2 210.86L800.5 210.86L797.7 210.86L795.0 210.86L792.2 210.86L789.5 210.86L786.7 210.86L784.0 210.86L781.3 210.85L778.5 210.85L775.8 210.85L773.0 210.85L770.3 210.85L767.5 210.84L764.8 210.84L762.0 210.84L759.3 210.84L756.5 210.84L753.8 210.83L751.0 210.83L748.3 210.83L745.6 210.83L742.8 210.82L740.1 210.82L737.3 210.81L734.6 210.81L731.8 210.80L729.1 210.80L726.3 210.79L723.6 210.79L720.8 210.78L718.1 210.78L715.3 210.77L712.6 210.77L709.8 210.76L707.1 210.76L704.4 210.75L701.6 210.74L698.9 210.73L696.1 210.72L693.4 210.70L690.6 210.69L687.9 210.68L685.1 210.66L682.4 210.65L679.6 210.63L676.9 210.62L674.1 210.61L671.4 210.59L668.6 210.58L665.9 210.57L663.2 210.55L660.4 210.47L657.7 210.38L654.9 210.29L652.2 210.20L649.4 210.11L646.7 210.02L643.9 209.93L641.2 209.82L638.4 209.64L635.7 209.47L632.9 209.29L630.2 209.10L627.5 208.92L624.7 208.73L622.0 208.55Z" fill="#000"/>
<path d="M369.4 20.4V36" stroke="#000" stroke-width="2.8" stroke-linecap="round"/>
<circle cx="368.6" cy="29" r="0.8" fill="#f00"/><circle cx="369.9" cy="26" r="0.7" fill="#f00"/>
<path d="M369.4 40.1L370.4 40.1L371.3 40.2L372.3 40.3L373.2 40.4L374.2 40.5L375.1 40.6L376.1 40.7L377.0 40.8L378.0 40.8L378.9 40.9L379.9 41.0L380.8 41.1L381.8 41.2L382.7 41.3L383.7 41.4L384.6 41.5L385.6 41.6L386.5 41.7L387.5 41.8L388.4 41.9L389.4 42.0L390.3 42.1L391.3 42.2L392.2 42.3L393.2 42.4L394.1 42.5L395.1 42.6L396.0 42.7L397.0 42.8L397.9 43.0L398.9 43.1L399.8 43.2L400.8 43.3L401.7 43.4L402.7 43.5L403.6 43.6L404.6 43.8L405.5 43.9L406.5 44.0L407.4 44.1L408.4 44.2L409.3 44.4L410.3 44.5L411.3 44.6L412.2 44.7L413.2 44.9L414.1 45.0L415.1 45.1L416.0 45.3L417.0 45.4L417.9 45.5L418.9 45.7L419.8 45.8L420.8 46.0L421.7 46.1L422.7 46.2L423.6 46.4L424.6 46.5L425.5 46.7L426.5 46.8L427.4 47.0L428.4 47.1L429.3 47.3L430.3 47.5L431.2 47.6L432.2 47.8L433.1 47.9L434.1 48.1L435.0 48.3L436.0 48.4L436.9 48.6L437.9 48.8L438.8 49.0L439.8 49.1L440.7 49.3L441.7 49.5L442.6 49.7L443.6 49.9L444.5 50.1L445.5 50.3L446.4 50.4L447.4 50.6L448.3 50.8L449.3 51.0L450.2 51.2L451.2 51.5L452.2 51.7L453.1 51.9L454.1 52.1L455.0 52.3L456.0 52.5L456.9 52.8L457.9 53.0L458.8 53.2L459.8 53.4L460.7 53.7L461.7 53.9L462.6 54.2L463.6 54.4L464.5 54.7L465.5 54.9L466.4 55.2L467.4 55.5L468.3 55.7L469.3 56.0L470.2 56.3L471.2 56.5L472.1 56.8L473.1 57.1L474.0 57.4L475.0 57.7L475.9 58.0L476.9 58.3L477.8 58.6L478.8 59.0L479.7 59.3L480.7 59.6L481.6 59.9L482.6 60.3L483.5 60.6L484.5 61.0L485.4 61.3L486.4 61.7L487.3 62.1L488.3 62.5L489.2 62.8L490.2 63.2L491.1 63.6L492.1 64.0L493.0 64.5L494.0 64.9L495.0 65.3L495.9 65.8L496.9 66.2L497.8 66.7L498.8 67.1L499.7 67.6L500.7 68.1L501.6 68.6L502.6 69.1L503.5 69.6L504.5 70.2L505.4 70.7L506.4 71.3L507.3 71.8L508.3 72.4L509.2 73.0L510.2 73.6L511.1 74.3L512.1 74.9L513.0 75.6L514.0 76.2L514.9 76.9L515.9 77.6L516.8 78.4L517.8 79.1L518.7 79.9L519.7 80.7L520.6 81.5L521.6 82.3L522.5 83.1L523.5 84.0L524.4 84.9L525.4 85.9L526.3 86.8L527.3 87.8L528.2 88.8L529.2 89.9L530.1 91.0L531.1 92.1L532.0 93.3L533.0 94.5L533.9 95.8L534.9 97.1L535.9 98.4L536.8 99.8L537.8 101.3L538.7 102.8L539.7 104.4L540.6 106.1L541.6 107.8L542.5 109.6L543.5 111.5L544.4 113.5L545.4 115.6L546.3 117.8L547.3 120.1L548.2 122.6L549.2 125.2L550.1 128.0L551.1 131.0L552.0 134.3L553.0 137.7L553.9 141.5L554.9 145.7L555.8 150.3L556.8 155.5L557.7 161.5L558.7 168.5L558.7 168.5L559.0 171.5L559.3 174.3L559.6 176.9L559.8 179.3L560.0 181.6L560.1 183.7L560.3 185.6L560.4 187.4L560.5 189.1L560.6 190.6L560.6 192.1L560.7 193.4L560.8 194.6L560.8 195.8L560.8 196.9L560.9 197.8L560.9 198.7L560.9 199.6L561.0 200.4L561.0 201.1L561.0 201.8L561.0 202.4L561.0 202.9L561.0 203.5L561.0 204.0L561.0 204.4L561.0 204.8L561.0 205.2L561.0 205.6L561.1 205.9L561.1 206.2L561.1 206.5L561.1 206.8L561.1 207.0L561.1 207.2L561.1 207.4L561.1 207.6L561.1 207.8L561.1 208.0L561.1 208.1L561.1 208.3L561.1 208.4L561.1 208.5L561.1 208.6L561.1 208.7L561.1 208.8L561.1 208.9L561.1 209.0L561.1 209.1L561.1 209.1L561.1 209.2L561.1 209.3L561.1 209.3L561.1 209.4L561.1 209.4L561.1 209.5L561.1 209.5L561.1 209.5L561.1 209.6L561.1 210.0" stroke="#000" stroke-width="0.9" stroke-dasharray="1 1.4" fill="none"/>
</g>
<g font-family="Liberation Serif, serif" font-size="17px" fill="#000">
<text x="77.6" y="25.8" text-anchor="end" >1</text>
<text x="77.6" y="121.4" text-anchor="end" >0.5</text>
<text x="77.9" y="215.9" text-anchor="end" >0</text>
<text x="90.5" y="232.6" text-anchor="middle" >0</text>
<text x="141.7" y="232.6" text-anchor="middle" >0.2</text>
<text x="192.9" y="232.6" text-anchor="middle" >0.4</text>
<text x="244.0" y="232.6" text-anchor="middle" >0.6</text>
<text x="295.2" y="232.6" text-anchor="middle" >0.8</text>
<text x="346.4" y="232.6" text-anchor="middle" >1</text>
<text x="371.0" y="232.6" text-anchor="middle" >0</text>
<text x="412.0" y="232.6" text-anchor="middle" >0.2</text>
<text x="453.0" y="232.6" text-anchor="middle" >0.4</text>
<text x="494.0" y="232.6" text-anchor="middle" >0.6</text>
<text x="535.0" y="232.6" text-anchor="middle" >0.8</text>
<text x="576.0" y="232.6" text-anchor="middle" >1</text>
<text x="617.0" y="232.6" text-anchor="middle" >1.2</text>
<text x="202.6" y="258.8" text-anchor="start" ><tspan font-style="italic">n</tspan>/<tspan font-style="italic">M</tspan></text>
<text x="476.7" y="260.1" text-anchor="start" ><tspan font-style="italic">n</tspan>/<tspan font-style="italic">M</tspan></text>
<text x="319.8" y="44.9" text-anchor="start" >(a)</text>
<text x="600.4" y="44.9" text-anchor="start" >(b)</text>
<text x="247.7" y="78.4" text-anchor="start" >RMT</text>
<text x="96.5" y="196.8" text-anchor="start" ><tspan font-style="italic">M</tspan>=20480</text>
<text x="242.4" y="158.2" text-anchor="start" fill="#00f"><tspan font-style="italic">M</tspan>=80</text>
<text x="216.3" y="44.3" text-anchor="start" font-size="19px">τ</text>
<text x="223.3" y="48.2" text-anchor="start" font-size="14.8px">D</text>
<text x="233.8" y="44.3" text-anchor="start" >/</text>
<text x="239.3" y="44.3" text-anchor="start" font-size="19px">τ</text>
<text x="246.8" y="48.2" text-anchor="start" font-size="14.8px">B</text>
<text x="260.0" y="44.3" text-anchor="start" >=</text>
<text x="274.0" y="44.3" text-anchor="start" >5</text>
<g transform="translate(21.7,125.5) rotate(-90)"><text x="-1.85" y="0" font-size="18.5px">|</text><text x="1.6" y="0" font-size="19.5px">μ</text><text x="12.4" y="3.9" font-size="14px" font-style="italic">n</text><text x="18.9" y="0" font-size="18.5px">|</text></g>
</g>
<path d="M488.9 248.3H504.2" stroke="#000" stroke-width="0.9"/>
</svg></body></html>
